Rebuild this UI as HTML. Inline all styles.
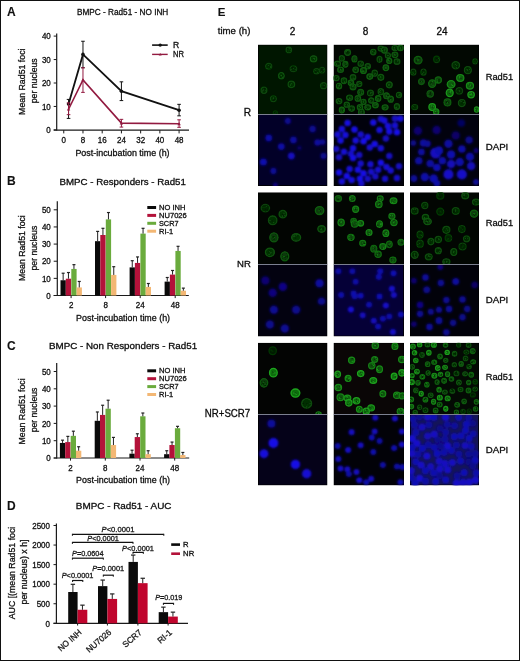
<!DOCTYPE html>
<html><head><meta charset="utf-8"><title>Figure</title>
<style>
html,body{margin:0;padding:0;background:#fff;}
body{width:520px;height:661px;overflow:hidden;}
svg{display:block;font-family:'Liberation Sans', Arial, sans-serif;}
text{stroke:#1a1a1a;stroke-width:0.3px;}
</style></head><body>
<svg width="520" height="661" viewBox="0 0 520 661">
<rect x="0" y="0" width="520" height="661" fill="#fff"/>
<text x="6.90" y="15.60" font-size="12" font-weight="bold" style="stroke-width:0.1px" fill="#111">A</text>
<text x="77.00" y="15.00" font-size="9.4" textLength="91.30" lengthAdjust="spacingAndGlyphs">BMPC - Rad51 - NO INH</text>
<line x1="56.70" y1="33.50" x2="56.70" y2="130.60" stroke="#1a1a1a" stroke-width="1.2"/>
<line x1="53.70" y1="130.10" x2="189.00" y2="130.10" stroke="#1a1a1a" stroke-width="1.2"/>
<line x1="53.70" y1="129.90" x2="56.70" y2="129.90" stroke="#1a1a1a" stroke-width="1.0"/>
<text x="50.80" y="133.10" font-size="8.6" text-anchor="end" textLength="4.45" lengthAdjust="spacingAndGlyphs">0</text>
<line x1="53.70" y1="106.45" x2="56.70" y2="106.45" stroke="#1a1a1a" stroke-width="1.0"/>
<text x="50.80" y="109.65" font-size="8.6" text-anchor="end" textLength="8.90" lengthAdjust="spacingAndGlyphs">10</text>
<line x1="53.70" y1="83.00" x2="56.70" y2="83.00" stroke="#1a1a1a" stroke-width="1.0"/>
<text x="50.80" y="86.20" font-size="8.6" text-anchor="end" textLength="8.90" lengthAdjust="spacingAndGlyphs">20</text>
<line x1="53.70" y1="59.55" x2="56.70" y2="59.55" stroke="#1a1a1a" stroke-width="1.0"/>
<text x="50.80" y="62.75" font-size="8.6" text-anchor="end" textLength="8.90" lengthAdjust="spacingAndGlyphs">30</text>
<line x1="53.70" y1="36.10" x2="56.70" y2="36.10" stroke="#1a1a1a" stroke-width="1.0"/>
<text x="50.80" y="39.30" font-size="8.6" text-anchor="end" textLength="8.90" lengthAdjust="spacingAndGlyphs">40</text>
<line x1="63.75" y1="130.10" x2="63.75" y2="133.40" stroke="#1a1a1a" stroke-width="1.0"/>
<text x="63.75" y="142.60" font-size="8.6" text-anchor="middle" textLength="4.45" lengthAdjust="spacingAndGlyphs">0</text>
<line x1="82.97" y1="130.10" x2="82.97" y2="133.40" stroke="#1a1a1a" stroke-width="1.0"/>
<text x="82.97" y="142.60" font-size="8.6" text-anchor="middle" textLength="4.45" lengthAdjust="spacingAndGlyphs">8</text>
<line x1="102.20" y1="130.10" x2="102.20" y2="133.40" stroke="#1a1a1a" stroke-width="1.0"/>
<text x="102.20" y="142.60" font-size="8.6" text-anchor="middle" textLength="8.90" lengthAdjust="spacingAndGlyphs">16</text>
<line x1="121.42" y1="130.10" x2="121.42" y2="133.40" stroke="#1a1a1a" stroke-width="1.0"/>
<text x="121.42" y="142.60" font-size="8.6" text-anchor="middle" textLength="8.90" lengthAdjust="spacingAndGlyphs">24</text>
<line x1="140.65" y1="130.10" x2="140.65" y2="133.40" stroke="#1a1a1a" stroke-width="1.0"/>
<text x="140.65" y="142.60" font-size="8.6" text-anchor="middle" textLength="8.90" lengthAdjust="spacingAndGlyphs">32</text>
<line x1="159.87" y1="130.10" x2="159.87" y2="133.40" stroke="#1a1a1a" stroke-width="1.0"/>
<text x="159.87" y="142.60" font-size="8.6" text-anchor="middle" textLength="8.90" lengthAdjust="spacingAndGlyphs">40</text>
<line x1="179.09" y1="130.10" x2="179.09" y2="133.40" stroke="#1a1a1a" stroke-width="1.0"/>
<text x="179.09" y="142.60" font-size="8.6" text-anchor="middle" textLength="8.90" lengthAdjust="spacingAndGlyphs">48</text>
<text x="75.40" y="156.10" font-size="9.4" textLength="94.20" lengthAdjust="spacingAndGlyphs">Post-incubation time (h)</text>
<text transform="translate(24.80,81.70) rotate(-90)" x="0" y="0" font-size="9.700000000000001" text-anchor="middle" textLength="66.50" lengthAdjust="spacingAndGlyphs">Mean Rad51 foci</text>
<text transform="translate(36.70,80.80) rotate(-90)" x="0" y="0" font-size="9.8" text-anchor="middle" textLength="45.00" lengthAdjust="spacingAndGlyphs">per nucleus</text>
<line x1="68.56" y1="99.42" x2="68.56" y2="118.41" stroke="#111" stroke-width="1.0"/>
<line x1="66.76" y1="99.42" x2="70.36" y2="99.42" stroke="#111" stroke-width="1.0"/>
<line x1="66.76" y1="118.41" x2="70.36" y2="118.41" stroke="#111" stroke-width="1.0"/>
<line x1="82.97" y1="41.26" x2="82.97" y2="67.76" stroke="#111" stroke-width="1.0"/>
<line x1="81.17" y1="41.26" x2="84.77" y2="41.26" stroke="#111" stroke-width="1.0"/>
<line x1="81.17" y1="67.76" x2="84.77" y2="67.76" stroke="#111" stroke-width="1.0"/>
<line x1="121.42" y1="81.83" x2="121.42" y2="100.59" stroke="#111" stroke-width="1.0"/>
<line x1="119.62" y1="81.83" x2="123.22" y2="81.83" stroke="#111" stroke-width="1.0"/>
<line x1="119.62" y1="100.59" x2="123.22" y2="100.59" stroke="#111" stroke-width="1.0"/>
<line x1="179.09" y1="104.34" x2="179.09" y2="115.83" stroke="#111" stroke-width="1.0"/>
<line x1="177.29" y1="104.34" x2="180.89" y2="104.34" stroke="#111" stroke-width="1.0"/>
<line x1="177.29" y1="115.83" x2="180.89" y2="115.83" stroke="#111" stroke-width="1.0"/>
<polyline points="68.56,104.11 82.97,54.39 121.42,91.21 179.09,110.20" fill="none" stroke="#111" stroke-width="1.8"/>
<circle cx="68.56" cy="104.11" r="1.8" fill="#111"/>
<circle cx="82.97" cy="54.39" r="1.8" fill="#111"/>
<circle cx="121.42" cy="91.21" r="1.8" fill="#111"/>
<circle cx="179.09" cy="110.20" r="1.8" fill="#111"/>
<line x1="68.56" y1="102.93" x2="68.56" y2="114.66" stroke="#921a40" stroke-width="1.0"/>
<line x1="66.76" y1="102.93" x2="70.36" y2="102.93" stroke="#921a40" stroke-width="1.0"/>
<line x1="66.76" y1="114.66" x2="70.36" y2="114.66" stroke="#921a40" stroke-width="1.0"/>
<line x1="82.97" y1="67.76" x2="82.97" y2="92.38" stroke="#921a40" stroke-width="1.0"/>
<line x1="81.17" y1="67.76" x2="84.77" y2="67.76" stroke="#921a40" stroke-width="1.0"/>
<line x1="81.17" y1="92.38" x2="84.77" y2="92.38" stroke="#921a40" stroke-width="1.0"/>
<line x1="121.42" y1="119.35" x2="121.42" y2="127.09" stroke="#921a40" stroke-width="1.0"/>
<line x1="119.62" y1="119.35" x2="123.22" y2="119.35" stroke="#921a40" stroke-width="1.0"/>
<line x1="119.62" y1="127.09" x2="123.22" y2="127.09" stroke="#921a40" stroke-width="1.0"/>
<line x1="179.09" y1="119.82" x2="179.09" y2="127.32" stroke="#921a40" stroke-width="1.0"/>
<line x1="177.29" y1="119.82" x2="180.89" y2="119.82" stroke="#921a40" stroke-width="1.0"/>
<line x1="177.29" y1="127.32" x2="180.89" y2="127.32" stroke="#921a40" stroke-width="1.0"/>
<polyline points="68.56,109.26 82.97,79.95 121.42,123.10 179.09,123.80" fill="none" stroke="#921a40" stroke-width="1.6"/>
<polygon points="68.56,107.56 66.86,110.62 70.26,110.62" fill="#921a40"/>
<polygon points="82.97,78.25 81.27,81.31 84.67,81.31" fill="#921a40"/>
<polygon points="121.42,121.40 119.72,124.46 123.12,124.46" fill="#921a40"/>
<polygon points="179.09,122.10 177.39,125.16 180.79,125.16" fill="#921a40"/>
<line x1="152.10" y1="45.10" x2="167.70" y2="45.10" stroke="#111" stroke-width="1.6"/>
<circle cx="160.2" cy="45.1" r="1.7" fill="#111"/>
<line x1="152.10" y1="54.40" x2="167.70" y2="54.40" stroke="#921a40" stroke-width="1.4"/>
<polygon points="160.20,52.90 158.70,55.60 161.70,55.60" fill="#921a40"/>
<text x="172.90" y="48.00" font-size="8.6">R</text>
<text x="172.90" y="57.40" font-size="8.6" textLength="11.00" lengthAdjust="spacingAndGlyphs">NR</text>
<text x="6.90" y="185.20" font-size="12" font-weight="bold" style="stroke-width:0.1px" fill="#111">B</text>
<text x="59.50" y="185.00" font-size="9.4" textLength="126.40" lengthAdjust="spacingAndGlyphs">BMPC - Responders - Rad51</text>
<line x1="57.30" y1="201.30" x2="57.30" y2="296.10" stroke="#1a1a1a" stroke-width="1.2"/>
<line x1="53.70" y1="295.50" x2="188.80" y2="295.50" stroke="#1a1a1a" stroke-width="1.2"/>
<line x1="53.70" y1="295.50" x2="57.30" y2="295.50" stroke="#1a1a1a" stroke-width="1.0"/>
<text x="50.80" y="298.70" font-size="8.6" text-anchor="end" textLength="4.45" lengthAdjust="spacingAndGlyphs">0</text>
<line x1="53.70" y1="278.36" x2="57.30" y2="278.36" stroke="#1a1a1a" stroke-width="1.0"/>
<text x="50.80" y="281.56" font-size="8.6" text-anchor="end" textLength="8.90" lengthAdjust="spacingAndGlyphs">10</text>
<line x1="53.70" y1="261.22" x2="57.30" y2="261.22" stroke="#1a1a1a" stroke-width="1.0"/>
<text x="50.80" y="264.42" font-size="8.6" text-anchor="end" textLength="8.90" lengthAdjust="spacingAndGlyphs">20</text>
<line x1="53.70" y1="244.08" x2="57.30" y2="244.08" stroke="#1a1a1a" stroke-width="1.0"/>
<text x="50.80" y="247.28" font-size="8.6" text-anchor="end" textLength="8.90" lengthAdjust="spacingAndGlyphs">30</text>
<line x1="53.70" y1="226.94" x2="57.30" y2="226.94" stroke="#1a1a1a" stroke-width="1.0"/>
<text x="50.80" y="230.14" font-size="8.6" text-anchor="end" textLength="8.90" lengthAdjust="spacingAndGlyphs">40</text>
<line x1="53.70" y1="209.80" x2="57.30" y2="209.80" stroke="#1a1a1a" stroke-width="1.0"/>
<text x="50.80" y="213.00" font-size="8.6" text-anchor="end" textLength="8.90" lengthAdjust="spacingAndGlyphs">50</text>
<line x1="71.10" y1="295.50" x2="71.10" y2="298.10" stroke="#1a1a1a" stroke-width="1.0"/>
<text x="71.10" y="307.70" font-size="8.6" text-anchor="middle" textLength="4.45" lengthAdjust="spacingAndGlyphs">2</text>
<rect x="60.50" y="280.25" width="5.30" height="15.25" fill="#0a0a0a"/>
<line x1="63.15" y1="273.22" x2="63.15" y2="280.25" stroke="#222" stroke-width="1.0"/>
<line x1="61.65" y1="273.22" x2="64.65" y2="273.22" stroke="#222" stroke-width="1.2"/>
<rect x="65.80" y="278.70" width="5.30" height="16.80" fill="#b3123a"/>
<line x1="68.45" y1="272.53" x2="68.45" y2="278.70" stroke="#222" stroke-width="1.0"/>
<line x1="66.95" y1="272.53" x2="69.95" y2="272.53" stroke="#222" stroke-width="1.2"/>
<rect x="71.30" y="268.93" width="5.30" height="26.57" fill="#6aab3d"/>
<line x1="73.95" y1="264.65" x2="73.95" y2="268.93" stroke="#222" stroke-width="1.0"/>
<line x1="72.45" y1="264.65" x2="75.45" y2="264.65" stroke="#222" stroke-width="1.2"/>
<rect x="76.60" y="287.44" width="5.30" height="8.06" fill="#f3b774"/>
<line x1="79.25" y1="281.45" x2="79.25" y2="287.44" stroke="#222" stroke-width="1.0"/>
<line x1="77.75" y1="281.45" x2="80.75" y2="281.45" stroke="#222" stroke-width="1.2"/>
<line x1="105.60" y1="295.50" x2="105.60" y2="298.10" stroke="#1a1a1a" stroke-width="1.0"/>
<text x="105.60" y="307.70" font-size="8.6" text-anchor="middle" textLength="4.45" lengthAdjust="spacingAndGlyphs">8</text>
<rect x="95.00" y="241.17" width="5.30" height="54.33" fill="#0a0a0a"/>
<line x1="97.65" y1="231.40" x2="97.65" y2="241.17" stroke="#222" stroke-width="1.0"/>
<line x1="96.15" y1="231.40" x2="99.15" y2="231.40" stroke="#222" stroke-width="1.2"/>
<rect x="100.30" y="235.00" width="5.30" height="60.50" fill="#b3123a"/>
<line x1="102.95" y1="228.31" x2="102.95" y2="235.00" stroke="#222" stroke-width="1.0"/>
<line x1="101.45" y1="228.31" x2="104.45" y2="228.31" stroke="#222" stroke-width="1.2"/>
<rect x="105.80" y="219.40" width="5.30" height="76.10" fill="#6aab3d"/>
<line x1="108.45" y1="212.54" x2="108.45" y2="219.40" stroke="#222" stroke-width="1.0"/>
<line x1="106.95" y1="212.54" x2="109.95" y2="212.54" stroke="#222" stroke-width="1.2"/>
<rect x="111.10" y="274.93" width="5.30" height="20.57" fill="#f3b774"/>
<line x1="113.75" y1="266.70" x2="113.75" y2="274.93" stroke="#222" stroke-width="1.0"/>
<line x1="112.25" y1="266.70" x2="115.25" y2="266.70" stroke="#222" stroke-width="1.2"/>
<line x1="140.20" y1="295.50" x2="140.20" y2="298.10" stroke="#1a1a1a" stroke-width="1.0"/>
<text x="140.20" y="307.70" font-size="8.6" text-anchor="middle" textLength="8.90" lengthAdjust="spacingAndGlyphs">24</text>
<rect x="129.60" y="267.39" width="5.30" height="28.11" fill="#0a0a0a"/>
<line x1="132.25" y1="260.71" x2="132.25" y2="267.39" stroke="#222" stroke-width="1.0"/>
<line x1="130.75" y1="260.71" x2="133.75" y2="260.71" stroke="#222" stroke-width="1.2"/>
<rect x="134.90" y="262.93" width="5.30" height="32.57" fill="#b3123a"/>
<line x1="137.55" y1="256.94" x2="137.55" y2="262.93" stroke="#222" stroke-width="1.0"/>
<line x1="136.05" y1="256.94" x2="139.05" y2="256.94" stroke="#222" stroke-width="1.2"/>
<rect x="140.40" y="233.62" width="5.30" height="61.88" fill="#6aab3d"/>
<line x1="143.05" y1="228.31" x2="143.05" y2="233.62" stroke="#222" stroke-width="1.0"/>
<line x1="141.55" y1="228.31" x2="144.55" y2="228.31" stroke="#222" stroke-width="1.2"/>
<rect x="145.70" y="286.93" width="5.30" height="8.57" fill="#f3b774"/>
<line x1="148.35" y1="283.50" x2="148.35" y2="286.93" stroke="#222" stroke-width="1.0"/>
<line x1="146.85" y1="283.50" x2="149.85" y2="283.50" stroke="#222" stroke-width="1.2"/>
<line x1="175.20" y1="295.50" x2="175.20" y2="298.10" stroke="#1a1a1a" stroke-width="1.0"/>
<text x="175.20" y="307.70" font-size="8.6" text-anchor="middle" textLength="8.90" lengthAdjust="spacingAndGlyphs">48</text>
<rect x="164.60" y="281.62" width="5.30" height="13.88" fill="#0a0a0a"/>
<line x1="167.25" y1="277.50" x2="167.25" y2="281.62" stroke="#222" stroke-width="1.0"/>
<line x1="165.75" y1="277.50" x2="168.75" y2="277.50" stroke="#222" stroke-width="1.2"/>
<rect x="169.90" y="274.59" width="5.30" height="20.91" fill="#b3123a"/>
<line x1="172.55" y1="270.48" x2="172.55" y2="274.59" stroke="#222" stroke-width="1.0"/>
<line x1="171.05" y1="270.48" x2="174.05" y2="270.48" stroke="#222" stroke-width="1.2"/>
<rect x="175.40" y="250.94" width="5.30" height="44.56" fill="#6aab3d"/>
<line x1="178.05" y1="246.31" x2="178.05" y2="250.94" stroke="#222" stroke-width="1.0"/>
<line x1="176.55" y1="246.31" x2="179.55" y2="246.31" stroke="#222" stroke-width="1.2"/>
<rect x="180.70" y="290.70" width="5.30" height="4.80" fill="#f3b774"/>
<line x1="183.35" y1="288.13" x2="183.35" y2="290.70" stroke="#222" stroke-width="1.0"/>
<line x1="181.85" y1="288.13" x2="184.85" y2="288.13" stroke="#222" stroke-width="1.2"/>
<text x="76.10" y="321.00" font-size="9.4" textLength="94.00" lengthAdjust="spacingAndGlyphs">Post-incubation time (h)</text>
<rect x="147.30" y="206.00" width="8.80" height="3.00" fill="#0a0a0a"/>
<text x="159.00" y="210.10" font-size="7.4" textLength="26.40" lengthAdjust="spacingAndGlyphs">NO INH</text>
<rect x="147.30" y="213.90" width="8.80" height="3.00" fill="#b3123a"/>
<text x="159.00" y="218.00" font-size="7.4" textLength="27.80" lengthAdjust="spacingAndGlyphs">NU7026</text>
<rect x="147.30" y="221.80" width="8.80" height="3.00" fill="#6aab3d"/>
<text x="159.00" y="225.90" font-size="7.4" textLength="19.50" lengthAdjust="spacingAndGlyphs">SCR7</text>
<rect x="147.30" y="229.70" width="8.80" height="3.00" fill="#f3b774"/>
<text x="159.00" y="233.80" font-size="7.4" textLength="14.10" lengthAdjust="spacingAndGlyphs">RI-1</text>
<text transform="translate(24.80,248.10) rotate(-90)" x="0" y="0" font-size="9.700000000000001" text-anchor="middle" textLength="65.80" lengthAdjust="spacingAndGlyphs">Mean Rad51 foci</text>
<text transform="translate(36.70,248.10) rotate(-90)" x="0" y="0" font-size="9.8" text-anchor="middle" textLength="44.70" lengthAdjust="spacingAndGlyphs">per nucleus</text>
<text x="6.90" y="350.00" font-size="12" font-weight="bold" style="stroke-width:0.1px" fill="#111">C</text>
<text x="49.00" y="349.40" font-size="9.4" textLength="148.10" lengthAdjust="spacingAndGlyphs">BMPC - Non Responders - Rad51</text>
<line x1="56.70" y1="362.90" x2="56.70" y2="458.60" stroke="#1a1a1a" stroke-width="1.2"/>
<line x1="53.70" y1="458.00" x2="189.20" y2="458.00" stroke="#1a1a1a" stroke-width="1.2"/>
<line x1="53.70" y1="458.00" x2="56.70" y2="458.00" stroke="#1a1a1a" stroke-width="1.0"/>
<text x="50.80" y="461.20" font-size="8.6" text-anchor="end" textLength="4.45" lengthAdjust="spacingAndGlyphs">0</text>
<line x1="53.70" y1="440.70" x2="56.70" y2="440.70" stroke="#1a1a1a" stroke-width="1.0"/>
<text x="50.80" y="443.90" font-size="8.6" text-anchor="end" textLength="8.90" lengthAdjust="spacingAndGlyphs">10</text>
<line x1="53.70" y1="423.40" x2="56.70" y2="423.40" stroke="#1a1a1a" stroke-width="1.0"/>
<text x="50.80" y="426.60" font-size="8.6" text-anchor="end" textLength="8.90" lengthAdjust="spacingAndGlyphs">20</text>
<line x1="53.70" y1="406.10" x2="56.70" y2="406.10" stroke="#1a1a1a" stroke-width="1.0"/>
<text x="50.80" y="409.30" font-size="8.6" text-anchor="end" textLength="8.90" lengthAdjust="spacingAndGlyphs">30</text>
<line x1="53.70" y1="388.80" x2="56.70" y2="388.80" stroke="#1a1a1a" stroke-width="1.0"/>
<text x="50.80" y="392.00" font-size="8.6" text-anchor="end" textLength="8.90" lengthAdjust="spacingAndGlyphs">40</text>
<line x1="53.70" y1="371.50" x2="56.70" y2="371.50" stroke="#1a1a1a" stroke-width="1.0"/>
<text x="50.80" y="374.70" font-size="8.6" text-anchor="end" textLength="8.90" lengthAdjust="spacingAndGlyphs">50</text>
<line x1="70.50" y1="458.00" x2="70.50" y2="460.60" stroke="#1a1a1a" stroke-width="1.0"/>
<text x="70.50" y="470.60" font-size="8.6" text-anchor="middle" textLength="4.45" lengthAdjust="spacingAndGlyphs">2</text>
<rect x="59.90" y="442.95" width="5.30" height="15.05" fill="#0a0a0a"/>
<line x1="62.55" y1="440.18" x2="62.55" y2="442.95" stroke="#222" stroke-width="1.0"/>
<line x1="61.05" y1="440.18" x2="64.05" y2="440.18" stroke="#222" stroke-width="1.2"/>
<rect x="65.20" y="442.08" width="5.30" height="15.92" fill="#b3123a"/>
<line x1="67.85" y1="436.38" x2="67.85" y2="442.08" stroke="#222" stroke-width="1.0"/>
<line x1="66.35" y1="436.38" x2="69.35" y2="436.38" stroke="#222" stroke-width="1.2"/>
<rect x="70.70" y="435.86" width="5.30" height="22.14" fill="#6aab3d"/>
<line x1="73.35" y1="431.19" x2="73.35" y2="435.86" stroke="#222" stroke-width="1.0"/>
<line x1="71.85" y1="431.19" x2="74.85" y2="431.19" stroke="#222" stroke-width="1.2"/>
<rect x="76.00" y="450.73" width="5.30" height="7.27" fill="#f3b774"/>
<line x1="78.65" y1="446.75" x2="78.65" y2="450.73" stroke="#222" stroke-width="1.0"/>
<line x1="77.15" y1="446.75" x2="80.15" y2="446.75" stroke="#222" stroke-width="1.2"/>
<line x1="105.30" y1="458.00" x2="105.30" y2="460.60" stroke="#1a1a1a" stroke-width="1.0"/>
<text x="105.30" y="470.60" font-size="8.6" text-anchor="middle" textLength="4.45" lengthAdjust="spacingAndGlyphs">8</text>
<rect x="94.70" y="420.81" width="5.30" height="37.20" fill="#0a0a0a"/>
<line x1="97.35" y1="411.98" x2="97.35" y2="420.81" stroke="#222" stroke-width="1.0"/>
<line x1="95.85" y1="411.98" x2="98.85" y2="411.98" stroke="#222" stroke-width="1.2"/>
<rect x="100.00" y="414.92" width="5.30" height="43.08" fill="#b3123a"/>
<line x1="102.65" y1="405.24" x2="102.65" y2="414.92" stroke="#222" stroke-width="1.0"/>
<line x1="101.15" y1="405.24" x2="104.15" y2="405.24" stroke="#222" stroke-width="1.2"/>
<rect x="105.50" y="408.69" width="5.30" height="49.30" fill="#6aab3d"/>
<line x1="108.15" y1="400.22" x2="108.15" y2="408.69" stroke="#222" stroke-width="1.0"/>
<line x1="106.65" y1="400.22" x2="109.65" y2="400.22" stroke="#222" stroke-width="1.2"/>
<rect x="110.80" y="445.02" width="5.30" height="12.97" fill="#f3b774"/>
<line x1="113.45" y1="437.41" x2="113.45" y2="445.02" stroke="#222" stroke-width="1.0"/>
<line x1="111.95" y1="437.41" x2="114.95" y2="437.41" stroke="#222" stroke-width="1.2"/>
<line x1="140.00" y1="458.00" x2="140.00" y2="460.60" stroke="#1a1a1a" stroke-width="1.0"/>
<text x="140.00" y="470.60" font-size="8.6" text-anchor="middle" textLength="8.90" lengthAdjust="spacingAndGlyphs">24</text>
<rect x="129.40" y="453.68" width="5.30" height="4.33" fill="#0a0a0a"/>
<line x1="132.05" y1="450.21" x2="132.05" y2="453.68" stroke="#222" stroke-width="1.0"/>
<line x1="130.55" y1="450.21" x2="133.55" y2="450.21" stroke="#222" stroke-width="1.2"/>
<rect x="134.70" y="437.07" width="5.30" height="20.93" fill="#b3123a"/>
<line x1="137.35" y1="433.78" x2="137.35" y2="437.07" stroke="#222" stroke-width="1.0"/>
<line x1="135.85" y1="433.78" x2="138.85" y2="433.78" stroke="#222" stroke-width="1.2"/>
<rect x="140.20" y="416.31" width="5.30" height="41.69" fill="#6aab3d"/>
<line x1="142.85" y1="413.02" x2="142.85" y2="416.31" stroke="#222" stroke-width="1.0"/>
<line x1="141.35" y1="413.02" x2="144.35" y2="413.02" stroke="#222" stroke-width="1.2"/>
<rect x="145.50" y="454.19" width="5.30" height="3.81" fill="#f3b774"/>
<line x1="148.15" y1="450.73" x2="148.15" y2="454.19" stroke="#222" stroke-width="1.0"/>
<line x1="146.65" y1="450.73" x2="149.65" y2="450.73" stroke="#222" stroke-width="1.2"/>
<line x1="174.70" y1="458.00" x2="174.70" y2="460.60" stroke="#1a1a1a" stroke-width="1.0"/>
<text x="174.70" y="470.60" font-size="8.6" text-anchor="middle" textLength="8.90" lengthAdjust="spacingAndGlyphs">48</text>
<rect x="164.10" y="454.19" width="5.30" height="3.81" fill="#0a0a0a"/>
<line x1="166.75" y1="450.73" x2="166.75" y2="454.19" stroke="#222" stroke-width="1.0"/>
<line x1="165.25" y1="450.73" x2="168.25" y2="450.73" stroke="#222" stroke-width="1.2"/>
<rect x="169.40" y="445.02" width="5.30" height="12.97" fill="#b3123a"/>
<line x1="172.05" y1="442.08" x2="172.05" y2="445.02" stroke="#222" stroke-width="1.0"/>
<line x1="170.55" y1="442.08" x2="173.55" y2="442.08" stroke="#222" stroke-width="1.2"/>
<rect x="174.90" y="428.24" width="5.30" height="29.76" fill="#6aab3d"/>
<line x1="177.55" y1="426.34" x2="177.55" y2="428.24" stroke="#222" stroke-width="1.0"/>
<line x1="176.05" y1="426.34" x2="179.05" y2="426.34" stroke="#222" stroke-width="1.2"/>
<rect x="180.20" y="455.06" width="5.30" height="2.94" fill="#f3b774"/>
<line x1="182.85" y1="452.46" x2="182.85" y2="455.06" stroke="#222" stroke-width="1.0"/>
<line x1="181.35" y1="452.46" x2="184.35" y2="452.46" stroke="#222" stroke-width="1.2"/>
<text x="76.10" y="483.30" font-size="9.4" textLength="94.00" lengthAdjust="spacingAndGlyphs">Post-incubation time (h)</text>
<rect x="147.30" y="369.30" width="8.80" height="3.00" fill="#0a0a0a"/>
<text x="159.00" y="373.40" font-size="7.4" textLength="26.40" lengthAdjust="spacingAndGlyphs">NO INH</text>
<rect x="147.30" y="377.20" width="8.80" height="3.00" fill="#b3123a"/>
<text x="159.00" y="381.30" font-size="7.4" textLength="27.80" lengthAdjust="spacingAndGlyphs">NU7026</text>
<rect x="147.30" y="385.10" width="8.80" height="3.00" fill="#6aab3d"/>
<text x="159.00" y="389.20" font-size="7.4" textLength="19.50" lengthAdjust="spacingAndGlyphs">SCR7</text>
<rect x="147.30" y="393.00" width="8.80" height="3.00" fill="#f3b774"/>
<text x="159.00" y="397.10" font-size="7.4" textLength="14.10" lengthAdjust="spacingAndGlyphs">RI-1</text>
<text transform="translate(24.80,411.40) rotate(-90)" x="0" y="0" font-size="9.700000000000001" text-anchor="middle" textLength="66.20" lengthAdjust="spacingAndGlyphs">Mean Rad51 foci</text>
<text transform="translate(36.70,410.00) rotate(-90)" x="0" y="0" font-size="9.8" text-anchor="middle" textLength="44.70" lengthAdjust="spacingAndGlyphs">per nucleus</text>
<text x="6.90" y="509.80" font-size="12" font-weight="bold" style="stroke-width:0.1px" fill="#111">D</text>
<text x="75.80" y="509.30" font-size="9.4" textLength="95.70" lengthAdjust="spacingAndGlyphs">BMPC - Rad51 - AUC</text>
<line x1="56.40" y1="523.50" x2="56.40" y2="623.90" stroke="#1a1a1a" stroke-width="1.2"/>
<line x1="53.50" y1="623.30" x2="188.00" y2="623.30" stroke="#1a1a1a" stroke-width="1.2"/>
<line x1="53.50" y1="623.30" x2="56.40" y2="623.30" stroke="#1a1a1a" stroke-width="1.0"/>
<text x="50.00" y="626.50" font-size="8.6" text-anchor="end" textLength="4.45" lengthAdjust="spacingAndGlyphs">0</text>
<line x1="53.50" y1="603.74" x2="56.40" y2="603.74" stroke="#1a1a1a" stroke-width="1.0"/>
<text x="50.00" y="606.94" font-size="8.6" text-anchor="end" textLength="13.35" lengthAdjust="spacingAndGlyphs">500</text>
<line x1="53.50" y1="584.18" x2="56.40" y2="584.18" stroke="#1a1a1a" stroke-width="1.0"/>
<text x="50.00" y="587.38" font-size="8.6" text-anchor="end" textLength="17.80" lengthAdjust="spacingAndGlyphs">1000</text>
<line x1="53.50" y1="564.62" x2="56.40" y2="564.62" stroke="#1a1a1a" stroke-width="1.0"/>
<text x="50.00" y="567.82" font-size="8.6" text-anchor="end" textLength="17.80" lengthAdjust="spacingAndGlyphs">1500</text>
<line x1="53.50" y1="545.06" x2="56.40" y2="545.06" stroke="#1a1a1a" stroke-width="1.0"/>
<text x="50.00" y="548.26" font-size="8.6" text-anchor="end" textLength="17.80" lengthAdjust="spacingAndGlyphs">2000</text>
<line x1="53.50" y1="525.50" x2="56.40" y2="525.50" stroke="#1a1a1a" stroke-width="1.0"/>
<text x="50.00" y="528.70" font-size="8.6" text-anchor="end" textLength="17.80" lengthAdjust="spacingAndGlyphs">2500</text>
<line x1="77.60" y1="623.30" x2="77.60" y2="625.50" stroke="#1a1a1a" stroke-width="1.0"/>
<rect x="68.20" y="592.00" width="9.40" height="31.30" fill="#0a0a0a"/>
<line x1="72.90" y1="584.30" x2="72.90" y2="592.00" stroke="#222" stroke-width="1.0"/>
<line x1="70.70" y1="584.30" x2="75.10" y2="584.30" stroke="#222" stroke-width="1.2"/>
<rect x="77.60" y="609.76" width="9.70" height="13.54" fill="#c0062e"/>
<line x1="82.45" y1="605.15" x2="82.45" y2="609.76" stroke="#222" stroke-width="1.0"/>
<line x1="80.25" y1="605.15" x2="84.65" y2="605.15" stroke="#222" stroke-width="1.2"/>
<line x1="107.40" y1="623.30" x2="107.40" y2="625.50" stroke="#1a1a1a" stroke-width="1.0"/>
<rect x="98.00" y="586.14" width="9.40" height="37.16" fill="#0a0a0a"/>
<line x1="102.70" y1="580.07" x2="102.70" y2="586.14" stroke="#222" stroke-width="1.0"/>
<line x1="100.50" y1="580.07" x2="104.90" y2="580.07" stroke="#222" stroke-width="1.2"/>
<rect x="107.40" y="598.93" width="9.70" height="24.37" fill="#c0062e"/>
<line x1="112.25" y1="593.92" x2="112.25" y2="598.93" stroke="#222" stroke-width="1.0"/>
<line x1="110.05" y1="593.92" x2="114.45" y2="593.92" stroke="#222" stroke-width="1.2"/>
<line x1="137.90" y1="623.30" x2="137.90" y2="625.50" stroke="#1a1a1a" stroke-width="1.0"/>
<rect x="128.50" y="561.92" width="9.40" height="61.38" fill="#0a0a0a"/>
<line x1="133.20" y1="555.07" x2="133.20" y2="561.92" stroke="#222" stroke-width="1.0"/>
<line x1="131.00" y1="555.07" x2="135.40" y2="555.07" stroke="#222" stroke-width="1.2"/>
<rect x="137.90" y="583.16" width="9.70" height="40.14" fill="#c0062e"/>
<line x1="142.75" y1="578.27" x2="142.75" y2="583.16" stroke="#222" stroke-width="1.0"/>
<line x1="140.55" y1="578.27" x2="144.95" y2="578.27" stroke="#222" stroke-width="1.2"/>
<line x1="168.10" y1="623.30" x2="168.10" y2="625.50" stroke="#1a1a1a" stroke-width="1.0"/>
<rect x="158.70" y="612.15" width="9.40" height="11.15" fill="#0a0a0a"/>
<line x1="163.40" y1="607.14" x2="163.40" y2="612.15" stroke="#222" stroke-width="1.0"/>
<line x1="161.20" y1="607.14" x2="165.60" y2="607.14" stroke="#222" stroke-width="1.2"/>
<rect x="168.10" y="616.57" width="9.70" height="6.73" fill="#c0062e"/>
<line x1="172.95" y1="612.15" x2="172.95" y2="616.57" stroke="#222" stroke-width="1.0"/>
<line x1="170.75" y1="612.15" x2="175.15" y2="612.15" stroke="#222" stroke-width="1.2"/>
<line x1="72.40" y1="534.30" x2="163.80" y2="534.30" stroke="#111" stroke-width="1.2"/>
<line x1="72.40" y1="533.80" x2="72.40" y2="535.80" stroke="#111" stroke-width="1.0"/>
<line x1="163.80" y1="533.80" x2="163.80" y2="535.80" stroke="#111" stroke-width="1.0"/>
<text x="101.60" y="532.00" font-size="7.4" textLength="32.80" lengthAdjust="spacingAndGlyphs" fill="#222"><tspan font-style="italic">P</tspan>&lt;0.0001</text>
<line x1="72.40" y1="542.40" x2="133.00" y2="542.40" stroke="#111" stroke-width="1.2"/>
<line x1="72.40" y1="541.90" x2="72.40" y2="543.90" stroke="#111" stroke-width="1.0"/>
<line x1="133.00" y1="541.90" x2="133.00" y2="543.90" stroke="#111" stroke-width="1.0"/>
<text x="87.30" y="540.80" font-size="7.4" textLength="31.60" lengthAdjust="spacingAndGlyphs" fill="#222"><tspan font-style="italic">P</tspan>&lt;0.0001</text>
<line x1="133.00" y1="552.40" x2="143.30" y2="552.40" stroke="#111" stroke-width="1.2"/>
<line x1="133.00" y1="551.90" x2="133.00" y2="553.90" stroke="#111" stroke-width="1.0"/>
<line x1="143.30" y1="551.90" x2="143.30" y2="553.90" stroke="#111" stroke-width="1.0"/>
<text x="122.10" y="550.60" font-size="7.4" textLength="31.90" lengthAdjust="spacingAndGlyphs" fill="#222"><tspan font-style="italic">P</tspan>&lt;0.0001</text>
<line x1="72.40" y1="558.20" x2="103.30" y2="558.20" stroke="#111" stroke-width="1.2"/>
<line x1="72.40" y1="557.70" x2="72.40" y2="559.70" stroke="#111" stroke-width="1.0"/>
<line x1="103.30" y1="557.70" x2="103.30" y2="559.70" stroke="#111" stroke-width="1.0"/>
<text x="72.00" y="555.50" font-size="7.4" textLength="31.50" lengthAdjust="spacingAndGlyphs" fill="#222"><tspan font-style="italic">P</tspan>=0.0604</text>
<line x1="103.30" y1="575.20" x2="113.30" y2="575.20" stroke="#111" stroke-width="1.2"/>
<line x1="103.30" y1="574.70" x2="103.30" y2="576.70" stroke="#111" stroke-width="1.0"/>
<line x1="113.30" y1="574.70" x2="113.30" y2="576.70" stroke="#111" stroke-width="1.0"/>
<text x="92.30" y="571.30" font-size="7.4" textLength="31.90" lengthAdjust="spacingAndGlyphs" fill="#222"><tspan font-style="italic">P</tspan>=0.0001</text>
<line x1="72.60" y1="580.50" x2="82.80" y2="580.50" stroke="#111" stroke-width="1.2"/>
<line x1="72.60" y1="580.00" x2="72.60" y2="582.00" stroke="#111" stroke-width="1.0"/>
<line x1="82.80" y1="580.00" x2="82.80" y2="582.00" stroke="#111" stroke-width="1.0"/>
<text x="61.70" y="577.90" font-size="7.4" textLength="31.70" lengthAdjust="spacingAndGlyphs" fill="#222"><tspan font-style="italic">P</tspan>&lt;0.0001</text>
<line x1="163.40" y1="603.40" x2="173.60" y2="603.40" stroke="#111" stroke-width="1.2"/>
<line x1="163.40" y1="602.90" x2="163.40" y2="604.90" stroke="#111" stroke-width="1.0"/>
<line x1="173.60" y1="602.90" x2="173.60" y2="604.90" stroke="#111" stroke-width="1.0"/>
<text x="155.20" y="600.00" font-size="7.4" textLength="27.20" lengthAdjust="spacingAndGlyphs" fill="#222"><tspan font-style="italic">P</tspan>=0.019</text>
<rect x="171.20" y="543.30" width="8.80" height="2.60" fill="#0a0a0a"/>
<rect x="171.20" y="552.40" width="8.80" height="2.60" fill="#b3123a"/>
<text x="183.10" y="547.00" font-size="7.7">R</text>
<text x="183.10" y="556.00" font-size="7.7">NR</text>
<text transform="translate(82.20,633.30) rotate(-41)" x="0" y="0" font-size="8.5" text-anchor="end" textLength="28.2" lengthAdjust="spacingAndGlyphs" fill="#222">NO INH</text>
<text transform="translate(112.00,633.30) rotate(-41)" x="0" y="0" font-size="8.5" text-anchor="end" textLength="30.2" lengthAdjust="spacingAndGlyphs" fill="#222">NU7026</text>
<text transform="translate(142.50,633.30) rotate(-41)" x="0" y="0" font-size="8.5" text-anchor="end" textLength="22.5" lengthAdjust="spacingAndGlyphs" fill="#222">SCR7</text>
<text transform="translate(172.70,633.30) rotate(-41)" x="0" y="0" font-size="8.5" text-anchor="end" textLength="16.3" lengthAdjust="spacingAndGlyphs" fill="#222">RI-1</text>
<text transform="translate(15.40,573.00) rotate(-90)" x="0" y="0" font-size="9.8" text-anchor="middle" textLength="92.60" lengthAdjust="spacingAndGlyphs">AUC [(mean Rad51 foci</text>
<text transform="translate(26.90,572.00) rotate(-90)" x="0" y="0" font-size="9.700000000000001" text-anchor="middle" textLength="65.00" lengthAdjust="spacingAndGlyphs">per nucleus) x h]</text>
<text x="217.80" y="15.60" font-size="11.5" font-weight="bold" style="stroke-width:0.1px" fill="#111">E</text>
<text x="217.80" y="34.20" font-size="9.6" textLength="32.60" lengthAdjust="spacingAndGlyphs">time (h)</text>
<text x="292.60" y="34.80" font-size="10" text-anchor="middle">2</text>
<text x="365.60" y="34.60" font-size="10" text-anchor="middle">8</text>
<text x="442.00" y="34.70" font-size="10" text-anchor="middle">24</text>
<text x="485.70" y="79.50" font-size="9.5" textLength="27.40" lengthAdjust="spacingAndGlyphs">Rad51</text>
<text x="485.70" y="150.00" font-size="9.2" textLength="22.60" lengthAdjust="spacingAndGlyphs">DAPI</text>
<text x="485.70" y="226.40" font-size="9.5" textLength="27.40" lengthAdjust="spacingAndGlyphs">Rad51</text>
<text x="485.70" y="303.30" font-size="9.2" textLength="22.60" lengthAdjust="spacingAndGlyphs">DAPI</text>
<text x="485.70" y="380.00" font-size="9.5" textLength="27.40" lengthAdjust="spacingAndGlyphs">Rad51</text>
<text x="485.70" y="453.10" font-size="9.2" textLength="22.60" lengthAdjust="spacingAndGlyphs">DAPI</text>
<text x="251.00" y="115.90" font-size="10.2" text-anchor="end">R</text>
<text x="250.90" y="266.50" font-size="9.6" text-anchor="end" textLength="13.80" lengthAdjust="spacingAndGlyphs">NR</text>
<text x="250.20" y="417.30" font-size="10" text-anchor="end" textLength="45.40" lengthAdjust="spacingAndGlyphs">NR+SCR7</text>
<defs><filter id="bg" x="-10%" y="-10%" width="120%" height="120%"><feGaussianBlur stdDeviation="0.6"/></filter><filter id="bb" x="-10%" y="-10%" width="120%" height="120%"><feGaussianBlur stdDeviation="0.8"/></filter></defs>
<clipPath id="c1"><rect x="258.0" y="44.6" width="69.50" height="69.90"/></clipPath>
<g clip-path="url(#c1)"><rect x="258.0" y="44.6" width="69.50" height="69.90" fill="#000"/><rect x="258.8" y="45.4" width="67.90" height="69.10" fill="#001600"/><g filter="url(#bg)">
<ellipse cx="288.78" cy="49.92" rx="2.76" ry="2.83" fill="rgb(5,44,5)" stroke="rgb(10,72,10)" stroke-width="1.18"/>
<circle cx="288.39" cy="50.76" r="0.6" fill="rgb(12,82,12)"/>
<circle cx="287.51" cy="48.35" r="0.6" fill="rgb(2,27,2)"/>
<circle cx="289.93" cy="50.33" r="0.6" fill="rgb(12,82,12)"/>
<circle cx="289.03" cy="49.98" r="0.6" fill="rgb(2,27,2)"/>
<circle cx="289.24" cy="48.77" r="0.6" fill="rgb(12,82,12)"/>
<ellipse cx="313.60" cy="58.88" rx="3.20" ry="2.92" fill="rgb(6,53,6)" stroke="rgb(13,85,13)" stroke-width="1.19"/>
<circle cx="314.45" cy="58.95" r="0.6" fill="rgb(15,97,15)"/>
<circle cx="311.86" cy="57.74" r="0.6" fill="rgb(3,31,3)"/>
<circle cx="314.64" cy="58.75" r="0.6" fill="rgb(15,97,15)"/>
<circle cx="313.41" cy="58.99" r="0.6" fill="rgb(3,31,3)"/>
<circle cx="313.31" cy="58.50" r="0.6" fill="rgb(15,97,15)"/>
<ellipse cx="268.72" cy="66.26" rx="3.05" ry="2.96" fill="rgb(4,41,4)" stroke="rgb(9,68,9)" stroke-width="1.22"/>
<circle cx="270.40" cy="66.31" r="0.6" fill="rgb(11,77,11)"/>
<circle cx="270.44" cy="67.90" r="0.6" fill="rgb(2,25,2)"/>
<circle cx="270.54" cy="67.38" r="0.6" fill="rgb(11,77,11)"/>
<circle cx="268.75" cy="66.29" r="0.6" fill="rgb(2,25,2)"/>
<circle cx="268.61" cy="65.67" r="0.6" fill="rgb(11,77,11)"/>
<ellipse cx="293.44" cy="68.72" rx="3.26" ry="2.92" fill="rgb(4,37,4)" stroke="rgb(8,64,8)" stroke-width="1.20"/>
<circle cx="295.16" cy="69.28" r="0.6" fill="rgb(10,71,10)"/>
<circle cx="292.99" cy="66.77" r="0.6" fill="rgb(2,23,2)"/>
<circle cx="293.42" cy="68.53" r="0.6" fill="rgb(10,71,10)"/>
<circle cx="292.30" cy="67.52" r="0.6" fill="rgb(2,23,2)"/>
<circle cx="291.33" cy="69.25" r="0.6" fill="rgb(10,71,10)"/>
<ellipse cx="281.33" cy="75.71" rx="2.81" ry="3.23" fill="rgb(6,50,6)" stroke="rgb(12,81,12)" stroke-width="1.19"/>
<circle cx="281.33" cy="75.69" r="0.6" fill="rgb(14,92,14)"/>
<circle cx="282.77" cy="75.84" r="0.6" fill="rgb(3,30,3)"/>
<circle cx="281.40" cy="75.55" r="0.6" fill="rgb(14,92,14)"/>
<circle cx="280.73" cy="77.21" r="0.6" fill="rgb(3,30,3)"/>
<circle cx="282.29" cy="77.36" r="0.6" fill="rgb(14,92,14)"/>
<ellipse cx="316.58" cy="71.18" rx="2.86" ry="2.62" fill="rgb(4,41,4)" stroke="rgb(9,68,9)" stroke-width="1.18"/>
<circle cx="315.75" cy="72.10" r="0.6" fill="rgb(11,77,11)"/>
<circle cx="315.23" cy="71.73" r="0.6" fill="rgb(2,25,2)"/>
<circle cx="317.63" cy="72.54" r="0.6" fill="rgb(11,77,11)"/>
<circle cx="315.67" cy="72.23" r="0.6" fill="rgb(2,25,2)"/>
<circle cx="315.96" cy="70.53" r="0.6" fill="rgb(11,77,11)"/>
<ellipse cx="322.14" cy="70.20" rx="2.56" ry="2.77" fill="rgb(4,37,4)" stroke="rgb(8,64,8)" stroke-width="1.16"/>
<circle cx="323.59" cy="69.67" r="0.6" fill="rgb(10,71,10)"/>
<circle cx="321.61" cy="69.96" r="0.6" fill="rgb(2,23,2)"/>
<circle cx="323.92" cy="70.91" r="0.6" fill="rgb(10,71,10)"/>
<circle cx="321.67" cy="68.64" r="0.6" fill="rgb(2,23,2)"/>
<circle cx="321.55" cy="71.23" r="0.6" fill="rgb(10,71,10)"/>
<ellipse cx="291.36" cy="84.37" rx="3.32" ry="3.24" fill="rgb(5,47,5)" stroke="rgb(11,77,11)" stroke-width="1.20"/>
<circle cx="290.79" cy="83.96" r="0.6" fill="rgb(13,87,13)"/>
<circle cx="289.54" cy="85.25" r="0.6" fill="rgb(2,28,2)"/>
<circle cx="290.25" cy="85.46" r="0.6" fill="rgb(13,87,13)"/>
<circle cx="289.72" cy="83.16" r="0.6" fill="rgb(2,28,2)"/>
<circle cx="291.59" cy="83.77" r="0.6" fill="rgb(13,87,13)"/>
<ellipse cx="263.96" cy="90.28" rx="2.95" ry="3.12" fill="rgb(5,44,5)" stroke="rgb(10,72,10)" stroke-width="1.22"/>
<circle cx="262.68" cy="90.96" r="0.6" fill="rgb(12,82,12)"/>
<circle cx="264.84" cy="88.28" r="0.6" fill="rgb(2,27,2)"/>
<circle cx="265.93" cy="90.82" r="0.6" fill="rgb(12,82,12)"/>
<circle cx="264.76" cy="88.31" r="0.6" fill="rgb(2,27,2)"/>
<circle cx="263.35" cy="89.99" r="0.6" fill="rgb(12,82,12)"/>
<ellipse cx="323.53" cy="85.65" rx="3.07" ry="3.05" fill="rgb(4,41,4)" stroke="rgb(9,68,9)" stroke-width="1.18"/>
<circle cx="322.74" cy="83.85" r="0.6" fill="rgb(11,77,11)"/>
<circle cx="323.42" cy="85.80" r="0.6" fill="rgb(2,25,2)"/>
<circle cx="321.91" cy="85.09" r="0.6" fill="rgb(11,77,11)"/>
<circle cx="324.02" cy="87.19" r="0.6" fill="rgb(2,25,2)"/>
<circle cx="323.99" cy="85.44" r="0.6" fill="rgb(11,77,11)"/>
<ellipse cx="273.39" cy="98.75" rx="2.93" ry="2.97" fill="rgb(4,41,4)" stroke="rgb(9,68,9)" stroke-width="1.18"/>
<circle cx="272.96" cy="98.84" r="0.6" fill="rgb(11,77,11)"/>
<circle cx="273.34" cy="100.36" r="0.6" fill="rgb(2,25,2)"/>
<circle cx="273.65" cy="97.79" r="0.6" fill="rgb(11,77,11)"/>
<circle cx="274.87" cy="99.66" r="0.6" fill="rgb(2,25,2)"/>
<circle cx="273.46" cy="98.25" r="0.6" fill="rgb(11,77,11)"/>
<ellipse cx="275.38" cy="113.02" rx="2.08" ry="2.21" fill="rgb(3,31,3)" stroke="rgb(6,55,6)" stroke-width="1.10"/>
<circle cx="275.98" cy="112.49" r="0.6" fill="rgb(7,61,7)"/>
<circle cx="274.48" cy="113.16" r="0.6" fill="rgb(1,20,1)"/>
<circle cx="275.49" cy="113.30" r="0.6" fill="rgb(7,61,7)"/>
<circle cx="275.83" cy="114.00" r="0.6" fill="rgb(1,20,1)"/>
<circle cx="274.81" cy="113.68" r="0.6" fill="rgb(7,61,7)"/>
</g></g>
<clipPath id="c2"><rect x="258.0" y="115.00" width="69.50" height="71.00"/></clipPath>
<g clip-path="url(#c2)"><rect x="258.0" y="115.00" width="69.50" height="71.00" fill="#000"/><rect x="258.8" y="115.00" width="67.90" height="70.20" fill="#020028"/><g filter="url(#bb)">
<circle cx="287.79" cy="121.00" r="3.15" fill="rgb(12,7,142)"/>
<circle cx="312.61" cy="129.00" r="3.42" fill="rgb(12,7,142)"/>
<circle cx="268.72" cy="138.00" r="3.42" fill="rgb(15,9,167)"/>
<circle cx="293.44" cy="140.00" r="3.42" fill="rgb(14,8,159)"/>
<circle cx="281.33" cy="146.60" r="3.42" fill="rgb(15,9,167)"/>
<circle cx="317.57" cy="142.60" r="3.24" fill="rgb(14,8,159)"/>
<circle cx="322.54" cy="142.00" r="2.97" fill="rgb(12,7,142)"/>
<circle cx="299.40" cy="148.00" r="2.25" fill="rgb(7,4,99)"/>
<circle cx="291.36" cy="156.00" r="3.42" fill="rgb(19,11,193)"/>
<circle cx="323.53" cy="156.00" r="3.15" fill="rgb(12,7,142)"/>
<circle cx="263.36" cy="162.00" r="3.60" fill="rgb(17,10,176)"/>
<circle cx="273.39" cy="171.00" r="3.15" fill="rgb(13,8,150)"/>
<circle cx="275.38" cy="185.00" r="2.52" fill="rgb(10,6,125)"/>
</g></g>
<line x1="258.00" y1="114.50" x2="327.50" y2="114.50" stroke="#7c8090" stroke-width="1.0"/>
<clipPath id="c3"><rect x="333.5" y="44.6" width="70.50" height="69.90"/></clipPath>
<g clip-path="url(#c3)"><rect x="333.5" y="44.6" width="70.50" height="69.90" fill="#000"/><rect x="334.3" y="45.4" width="68.90" height="69.10" fill="#020802"/><g filter="url(#bg)">
<ellipse cx="373.28" cy="52.08" rx="2.73" ry="2.80" fill="rgb(6,52,6)" stroke="rgb(12,85,12)" stroke-width="1.17"/>
<circle cx="373.34" cy="52.16" r="0.6" fill="rgb(15,97,15)"/>
<circle cx="374.06" cy="52.07" r="0.6" fill="rgb(3,31,3)"/>
<circle cx="374.32" cy="52.90" r="0.6" fill="rgb(15,97,15)"/>
<circle cx="373.36" cy="51.76" r="0.6" fill="rgb(3,31,3)"/>
<circle cx="372.69" cy="51.67" r="0.6" fill="rgb(15,97,15)"/>
<ellipse cx="380.84" cy="48.54" rx="2.80" ry="2.52" fill="rgb(6,49,6)" stroke="rgb(11,80,11)" stroke-width="1.17"/>
<circle cx="382.86" cy="48.97" r="0.6" fill="rgb(14,92,14)"/>
<circle cx="381.51" cy="47.78" r="0.6" fill="rgb(3,29,3)"/>
<circle cx="380.34" cy="48.31" r="0.6" fill="rgb(14,92,14)"/>
<circle cx="381.00" cy="47.66" r="0.6" fill="rgb(3,29,3)"/>
<circle cx="382.35" cy="48.01" r="0.6" fill="rgb(14,92,14)"/>
<ellipse cx="384.36" cy="50.01" rx="2.97" ry="3.05" fill="rgb(7,58,7)" stroke="rgb(14,92,14)" stroke-width="1.17"/>
<circle cx="384.36" cy="50.09" r="0.6" fill="rgb(17,106,17)"/>
<circle cx="384.48" cy="50.37" r="0.6" fill="rgb(3,34,3)"/>
<circle cx="384.45" cy="50.07" r="0.6" fill="rgb(17,106,17)"/>
<circle cx="382.66" cy="49.37" r="0.6" fill="rgb(3,34,3)"/>
<circle cx="382.45" cy="50.53" r="0.6" fill="rgb(17,106,17)"/>
<ellipse cx="394.94" cy="48.05" rx="3.02" ry="2.54" fill="rgb(6,48,6)" stroke="rgb(11,79,11)" stroke-width="1.17"/>
<circle cx="394.26" cy="47.57" r="0.6" fill="rgb(13,89,13)"/>
<circle cx="396.40" cy="49.42" r="0.6" fill="rgb(3,29,3)"/>
<circle cx="394.88" cy="49.22" r="0.6" fill="rgb(13,89,13)"/>
<circle cx="393.67" cy="46.50" r="0.6" fill="rgb(3,29,3)"/>
<circle cx="394.54" cy="47.33" r="0.6" fill="rgb(13,89,13)"/>
<ellipse cx="400.48" cy="48.05" rx="2.76" ry="2.60" fill="rgb(7,56,7)" stroke="rgb(13,90,13)" stroke-width="1.17"/>
<circle cx="402.50" cy="47.60" r="0.6" fill="rgb(16,103,16)"/>
<circle cx="400.49" cy="48.13" r="0.6" fill="rgb(3,33,3)"/>
<circle cx="400.45" cy="48.78" r="0.6" fill="rgb(16,103,16)"/>
<circle cx="402.02" cy="46.96" r="0.6" fill="rgb(3,33,3)"/>
<circle cx="400.53" cy="47.96" r="0.6" fill="rgb(16,103,16)"/>
<ellipse cx="347.60" cy="52.48" rx="2.95" ry="2.90" fill="rgb(6,53,6)" stroke="rgb(13,86,13)" stroke-width="1.17"/>
<circle cx="346.35" cy="50.83" r="0.6" fill="rgb(15,98,15)"/>
<circle cx="347.88" cy="52.58" r="0.6" fill="rgb(3,31,3)"/>
<circle cx="347.66" cy="50.51" r="0.6" fill="rgb(15,98,15)"/>
<circle cx="347.32" cy="51.92" r="0.6" fill="rgb(3,31,3)"/>
<circle cx="346.27" cy="51.61" r="0.6" fill="rgb(15,98,15)"/>
<ellipse cx="341.86" cy="58.38" rx="2.57" ry="2.69" fill="rgb(6,48,6)" stroke="rgb(11,78,11)" stroke-width="1.17"/>
<circle cx="341.85" cy="58.64" r="0.6" fill="rgb(13,89,13)"/>
<circle cx="341.51" cy="58.42" r="0.6" fill="rgb(3,29,3)"/>
<circle cx="341.88" cy="58.68" r="0.6" fill="rgb(13,89,13)"/>
<circle cx="341.85" cy="58.36" r="0.6" fill="rgb(3,29,3)"/>
<circle cx="341.78" cy="57.98" r="0.6" fill="rgb(13,89,13)"/>
<ellipse cx="354.45" cy="58.88" rx="2.53" ry="3.03" fill="rgb(7,56,7)" stroke="rgb(13,89,13)" stroke-width="1.17"/>
<circle cx="354.81" cy="60.79" r="0.6" fill="rgb(16,102,16)"/>
<circle cx="355.69" cy="57.49" r="0.6" fill="rgb(3,33,3)"/>
<circle cx="355.05" cy="59.60" r="0.6" fill="rgb(16,102,16)"/>
<circle cx="356.04" cy="59.99" r="0.6" fill="rgb(3,33,3)"/>
<circle cx="355.17" cy="57.78" r="0.6" fill="rgb(16,102,16)"/>
<ellipse cx="360.69" cy="63.70" rx="2.76" ry="2.70" fill="rgb(6,48,6)" stroke="rgb(11,78,11)" stroke-width="1.17"/>
<circle cx="361.14" cy="62.80" r="0.6" fill="rgb(13,88,13)"/>
<circle cx="360.49" cy="63.48" r="0.6" fill="rgb(3,29,3)"/>
<circle cx="360.71" cy="63.82" r="0.6" fill="rgb(13,88,13)"/>
<circle cx="360.43" cy="62.57" r="0.6" fill="rgb(3,29,3)"/>
<circle cx="361.81" cy="65.14" r="0.6" fill="rgb(13,88,13)"/>
<ellipse cx="367.74" cy="66.26" rx="2.66" ry="2.74" fill="rgb(7,54,7)" stroke="rgb(13,87,13)" stroke-width="1.17"/>
<circle cx="368.06" cy="66.73" r="0.6" fill="rgb(16,100,16)"/>
<circle cx="368.12" cy="65.67" r="0.6" fill="rgb(3,32,3)"/>
<circle cx="368.25" cy="67.15" r="0.6" fill="rgb(16,100,16)"/>
<circle cx="366.96" cy="67.98" r="0.6" fill="rgb(3,32,3)"/>
<circle cx="369.28" cy="67.60" r="0.6" fill="rgb(16,100,16)"/>
<ellipse cx="379.53" cy="59.37" rx="2.54" ry="3.01" fill="rgb(6,48,6)" stroke="rgb(11,79,11)" stroke-width="1.17"/>
<circle cx="379.31" cy="58.98" r="0.6" fill="rgb(13,89,13)"/>
<circle cx="378.93" cy="59.45" r="0.6" fill="rgb(3,29,3)"/>
<circle cx="379.51" cy="59.79" r="0.6" fill="rgb(13,89,13)"/>
<circle cx="378.16" cy="60.93" r="0.6" fill="rgb(3,29,3)"/>
<circle cx="381.46" cy="59.34" r="0.6" fill="rgb(13,89,13)"/>
<ellipse cx="387.89" cy="55.43" rx="2.56" ry="2.67" fill="rgb(6,48,6)" stroke="rgb(11,79,11)" stroke-width="1.17"/>
<circle cx="387.98" cy="55.36" r="0.6" fill="rgb(14,90,14)"/>
<circle cx="387.80" cy="54.82" r="0.6" fill="rgb(3,29,3)"/>
<circle cx="387.92" cy="55.43" r="0.6" fill="rgb(14,90,14)"/>
<circle cx="388.14" cy="54.76" r="0.6" fill="rgb(3,29,3)"/>
<circle cx="387.89" cy="55.43" r="0.6" fill="rgb(14,90,14)"/>
<ellipse cx="394.94" cy="54.84" rx="2.97" ry="2.80" fill="rgb(7,54,7)" stroke="rgb(13,87,13)" stroke-width="1.17"/>
<circle cx="395.29" cy="55.68" r="0.6" fill="rgb(16,99,16)"/>
<circle cx="395.32" cy="54.60" r="0.6" fill="rgb(3,32,3)"/>
<circle cx="394.68" cy="54.71" r="0.6" fill="rgb(16,99,16)"/>
<circle cx="395.62" cy="56.30" r="0.6" fill="rgb(3,32,3)"/>
<circle cx="394.84" cy="54.44" r="0.6" fill="rgb(16,99,16)"/>
<ellipse cx="389.30" cy="60.94" rx="2.55" ry="2.56" fill="rgb(8,61,8)" stroke="rgb(15,97,15)" stroke-width="1.17"/>
<circle cx="388.49" cy="60.29" r="0.6" fill="rgb(18,111,18)"/>
<circle cx="389.23" cy="61.37" r="0.6" fill="rgb(4,35,4)"/>
<circle cx="388.17" cy="59.98" r="0.6" fill="rgb(18,111,18)"/>
<circle cx="389.76" cy="59.81" r="0.6" fill="rgb(4,35,4)"/>
<circle cx="389.34" cy="61.07" r="0.6" fill="rgb(18,111,18)"/>
<ellipse cx="396.95" cy="61.63" rx="2.92" ry="2.74" fill="rgb(6,49,6)" stroke="rgb(11,80,11)" stroke-width="1.17"/>
<circle cx="396.93" cy="61.52" r="0.6" fill="rgb(14,91,14)"/>
<circle cx="397.21" cy="60.98" r="0.6" fill="rgb(3,29,3)"/>
<circle cx="397.94" cy="60.12" r="0.6" fill="rgb(14,91,14)"/>
<circle cx="396.92" cy="61.63" r="0.6" fill="rgb(3,29,3)"/>
<circle cx="397.79" cy="61.10" r="0.6" fill="rgb(14,91,14)"/>
<ellipse cx="337.53" cy="63.70" rx="3.00" ry="2.66" fill="rgb(6,51,6)" stroke="rgb(12,82,12)" stroke-width="1.17"/>
<circle cx="338.21" cy="65.30" r="0.6" fill="rgb(14,94,14)"/>
<circle cx="337.30" cy="63.95" r="0.6" fill="rgb(3,30,3)"/>
<circle cx="336.67" cy="64.60" r="0.6" fill="rgb(14,94,14)"/>
<circle cx="338.62" cy="63.73" r="0.6" fill="rgb(3,30,3)"/>
<circle cx="336.51" cy="64.06" r="0.6" fill="rgb(14,94,14)"/>
<ellipse cx="345.38" cy="64.29" rx="2.58" ry="2.91" fill="rgb(7,58,7)" stroke="rgb(14,92,14)" stroke-width="1.17"/>
<circle cx="346.12" cy="62.64" r="0.6" fill="rgb(17,105,17)"/>
<circle cx="344.74" cy="65.63" r="0.6" fill="rgb(3,34,3)"/>
<circle cx="344.23" cy="65.36" r="0.6" fill="rgb(17,105,17)"/>
<circle cx="347.08" cy="64.97" r="0.6" fill="rgb(3,34,3)"/>
<circle cx="346.38" cy="64.00" r="0.6" fill="rgb(17,105,17)"/>
<ellipse cx="385.87" cy="67.74" rx="2.80" ry="2.81" fill="rgb(8,63,8)" stroke="rgb(16,99,16)" stroke-width="1.17"/>
<circle cx="385.83" cy="67.73" r="0.6" fill="rgb(19,114,19)"/>
<circle cx="386.33" cy="67.64" r="0.6" fill="rgb(4,36,4)"/>
<circle cx="385.96" cy="67.93" r="0.6" fill="rgb(19,114,19)"/>
<circle cx="385.87" cy="69.44" r="0.6" fill="rgb(4,36,4)"/>
<circle cx="386.07" cy="67.77" r="0.6" fill="rgb(19,114,19)"/>
<ellipse cx="340.55" cy="69.80" rx="2.90" ry="2.62" fill="rgb(7,57,7)" stroke="rgb(14,91,14)" stroke-width="1.17"/>
<circle cx="341.80" cy="69.94" r="0.6" fill="rgb(16,104,16)"/>
<circle cx="339.58" cy="69.30" r="0.6" fill="rgb(3,33,3)"/>
<circle cx="340.49" cy="69.60" r="0.6" fill="rgb(16,104,16)"/>
<circle cx="341.57" cy="68.71" r="0.6" fill="rgb(3,33,3)"/>
<circle cx="340.80" cy="69.88" r="0.6" fill="rgb(16,104,16)"/>
<ellipse cx="355.66" cy="69.80" rx="2.78" ry="2.79" fill="rgb(7,54,7)" stroke="rgb(13,86,13)" stroke-width="1.17"/>
<circle cx="355.61" cy="70.05" r="0.6" fill="rgb(15,99,15)"/>
<circle cx="355.42" cy="69.96" r="0.6" fill="rgb(3,32,3)"/>
<circle cx="354.15" cy="68.82" r="0.6" fill="rgb(15,99,15)"/>
<circle cx="356.38" cy="70.76" r="0.6" fill="rgb(3,32,3)"/>
<circle cx="355.65" cy="69.46" r="0.6" fill="rgb(15,99,15)"/>
<ellipse cx="363.51" cy="70.49" rx="2.97" ry="3.03" fill="rgb(8,63,8)" stroke="rgb(16,100,16)" stroke-width="1.17"/>
<circle cx="362.84" cy="71.06" r="0.6" fill="rgb(19,115,19)"/>
<circle cx="364.10" cy="69.56" r="0.6" fill="rgb(4,36,4)"/>
<circle cx="361.95" cy="71.69" r="0.6" fill="rgb(19,115,19)"/>
<circle cx="363.63" cy="69.79" r="0.6" fill="rgb(4,36,4)"/>
<circle cx="363.56" cy="71.19" r="0.6" fill="rgb(19,115,19)"/>
<ellipse cx="374.69" cy="73.15" rx="2.75" ry="3.06" fill="rgb(6,48,6)" stroke="rgb(11,78,11)" stroke-width="1.17"/>
<circle cx="375.33" cy="71.35" r="0.6" fill="rgb(13,89,13)"/>
<circle cx="375.40" cy="71.52" r="0.6" fill="rgb(3,29,3)"/>
<circle cx="375.71" cy="73.51" r="0.6" fill="rgb(13,89,13)"/>
<circle cx="376.58" cy="72.64" r="0.6" fill="rgb(3,29,3)"/>
<circle cx="374.70" cy="74.03" r="0.6" fill="rgb(13,89,13)"/>
<ellipse cx="369.76" cy="76.60" rx="2.86" ry="2.71" fill="rgb(8,61,8)" stroke="rgb(15,97,15)" stroke-width="1.17"/>
<circle cx="369.62" cy="76.57" r="0.6" fill="rgb(18,112,18)"/>
<circle cx="368.79" cy="77.03" r="0.6" fill="rgb(4,35,4)"/>
<circle cx="370.05" cy="76.63" r="0.6" fill="rgb(18,112,18)"/>
<circle cx="371.35" cy="76.29" r="0.6" fill="rgb(4,35,4)"/>
<circle cx="370.98" cy="76.09" r="0.6" fill="rgb(18,112,18)"/>
<ellipse cx="380.84" cy="77.29" rx="2.96" ry="3.00" fill="rgb(6,52,6)" stroke="rgb(12,84,12)" stroke-width="1.17"/>
<circle cx="380.89" cy="77.24" r="0.6" fill="rgb(15,96,15)"/>
<circle cx="380.49" cy="76.85" r="0.6" fill="rgb(3,31,3)"/>
<circle cx="380.59" cy="76.77" r="0.6" fill="rgb(15,96,15)"/>
<circle cx="378.97" cy="76.78" r="0.6" fill="rgb(3,31,3)"/>
<circle cx="380.46" cy="76.92" r="0.6" fill="rgb(15,96,15)"/>
<ellipse cx="353.04" cy="77.29" rx="2.80" ry="2.75" fill="rgb(6,49,6)" stroke="rgb(11,80,11)" stroke-width="1.17"/>
<circle cx="353.61" cy="77.10" r="0.6" fill="rgb(14,91,14)"/>
<circle cx="352.58" cy="78.56" r="0.6" fill="rgb(3,29,3)"/>
<circle cx="353.94" cy="78.14" r="0.6" fill="rgb(14,91,14)"/>
<circle cx="354.07" cy="76.99" r="0.6" fill="rgb(3,29,3)"/>
<circle cx="352.93" cy="78.25" r="0.6" fill="rgb(14,91,14)"/>
<ellipse cx="336.32" cy="78.07" rx="2.81" ry="2.59" fill="rgb(6,49,6)" stroke="rgb(11,80,11)" stroke-width="1.17"/>
<circle cx="336.52" cy="78.27" r="0.6" fill="rgb(14,91,14)"/>
<circle cx="336.09" cy="78.89" r="0.6" fill="rgb(3,29,3)"/>
<circle cx="336.20" cy="78.57" r="0.6" fill="rgb(14,91,14)"/>
<circle cx="337.29" cy="78.67" r="0.6" fill="rgb(3,29,3)"/>
<circle cx="337.00" cy="77.00" r="0.6" fill="rgb(14,91,14)"/>
<ellipse cx="343.97" cy="80.73" rx="2.83" ry="2.87" fill="rgb(6,52,6)" stroke="rgb(12,84,12)" stroke-width="1.17"/>
<circle cx="344.42" cy="82.15" r="0.6" fill="rgb(15,96,15)"/>
<circle cx="342.86" cy="81.01" r="0.6" fill="rgb(3,31,3)"/>
<circle cx="343.23" cy="80.09" r="0.6" fill="rgb(15,96,15)"/>
<circle cx="343.79" cy="81.20" r="0.6" fill="rgb(3,31,3)"/>
<circle cx="344.16" cy="81.79" r="0.6" fill="rgb(15,96,15)"/>
<ellipse cx="350.92" cy="82.80" rx="2.72" ry="2.84" fill="rgb(8,61,8)" stroke="rgb(15,96,15)" stroke-width="1.17"/>
<circle cx="351.66" cy="82.85" r="0.6" fill="rgb(18,111,18)"/>
<circle cx="351.25" cy="82.42" r="0.6" fill="rgb(4,35,4)"/>
<circle cx="349.96" cy="82.44" r="0.6" fill="rgb(18,111,18)"/>
<circle cx="350.48" cy="84.81" r="0.6" fill="rgb(4,35,4)"/>
<circle cx="350.47" cy="84.35" r="0.6" fill="rgb(18,111,18)"/>
<ellipse cx="359.28" cy="83.98" rx="2.60" ry="2.55" fill="rgb(6,50,6)" stroke="rgb(12,81,12)" stroke-width="1.17"/>
<circle cx="359.92" cy="83.31" r="0.6" fill="rgb(14,92,14)"/>
<circle cx="360.03" cy="84.29" r="0.6" fill="rgb(3,30,3)"/>
<circle cx="357.85" cy="84.55" r="0.6" fill="rgb(14,92,14)"/>
<circle cx="359.65" cy="84.28" r="0.6" fill="rgb(3,30,3)"/>
<circle cx="360.78" cy="83.59" r="0.6" fill="rgb(14,92,14)"/>
<ellipse cx="339.04" cy="86.15" rx="2.60" ry="2.70" fill="rgb(7,57,7)" stroke="rgb(14,91,14)" stroke-width="1.17"/>
<circle cx="338.19" cy="87.28" r="0.6" fill="rgb(17,104,17)"/>
<circle cx="337.72" cy="84.96" r="0.6" fill="rgb(3,33,3)"/>
<circle cx="339.51" cy="85.17" r="0.6" fill="rgb(17,104,17)"/>
<circle cx="338.93" cy="84.60" r="0.6" fill="rgb(3,33,3)"/>
<circle cx="339.10" cy="85.15" r="0.6" fill="rgb(17,104,17)"/>
<ellipse cx="353.04" cy="86.93" rx="2.95" ry="2.90" fill="rgb(7,58,7)" stroke="rgb(14,92,14)" stroke-width="1.17"/>
<circle cx="353.27" cy="86.80" r="0.6" fill="rgb(17,106,17)"/>
<circle cx="353.04" cy="86.93" r="0.6" fill="rgb(3,34,3)"/>
<circle cx="353.16" cy="85.71" r="0.6" fill="rgb(17,106,17)"/>
<circle cx="351.03" cy="86.96" r="0.6" fill="rgb(3,34,3)"/>
<circle cx="352.25" cy="86.55" r="0.6" fill="rgb(17,106,17)"/>
<ellipse cx="389.30" cy="84.87" rx="2.95" ry="3.00" fill="rgb(6,53,6)" stroke="rgb(13,86,13)" stroke-width="1.17"/>
<circle cx="388.68" cy="84.37" r="0.6" fill="rgb(15,98,15)"/>
<circle cx="388.38" cy="85.15" r="0.6" fill="rgb(3,31,3)"/>
<circle cx="389.19" cy="84.26" r="0.6" fill="rgb(15,98,15)"/>
<circle cx="388.40" cy="85.60" r="0.6" fill="rgb(3,31,3)"/>
<circle cx="388.79" cy="85.31" r="0.6" fill="rgb(15,98,15)"/>
<ellipse cx="360.69" cy="92.35" rx="2.95" ry="2.98" fill="rgb(7,56,7)" stroke="rgb(14,90,14)" stroke-width="1.17"/>
<circle cx="359.76" cy="92.35" r="0.6" fill="rgb(16,103,16)"/>
<circle cx="360.95" cy="92.93" r="0.6" fill="rgb(3,33,3)"/>
<circle cx="361.43" cy="93.30" r="0.6" fill="rgb(16,103,16)"/>
<circle cx="360.53" cy="92.26" r="0.6" fill="rgb(3,33,3)"/>
<circle cx="361.29" cy="92.02" r="0.6" fill="rgb(16,103,16)"/>
<ellipse cx="370.46" cy="93.04" rx="2.98" ry="2.98" fill="rgb(6,48,6)" stroke="rgb(11,78,11)" stroke-width="1.17"/>
<circle cx="370.88" cy="92.93" r="0.6" fill="rgb(13,89,13)"/>
<circle cx="368.76" cy="93.89" r="0.6" fill="rgb(3,29,3)"/>
<circle cx="370.56" cy="93.04" r="0.6" fill="rgb(13,89,13)"/>
<circle cx="369.51" cy="92.63" r="0.6" fill="rgb(3,29,3)"/>
<circle cx="371.88" cy="92.26" r="0.6" fill="rgb(13,89,13)"/>
<ellipse cx="380.84" cy="91.66" rx="2.81" ry="3.07" fill="rgb(6,48,6)" stroke="rgb(11,78,11)" stroke-width="1.17"/>
<circle cx="379.76" cy="91.54" r="0.6" fill="rgb(13,89,13)"/>
<circle cx="380.51" cy="90.91" r="0.6" fill="rgb(3,29,3)"/>
<circle cx="380.06" cy="92.63" r="0.6" fill="rgb(13,89,13)"/>
<circle cx="379.66" cy="93.25" r="0.6" fill="rgb(3,29,3)"/>
<circle cx="380.35" cy="90.68" r="0.6" fill="rgb(13,89,13)"/>
<ellipse cx="398.96" cy="95.01" rx="2.56" ry="2.72" fill="rgb(6,50,6)" stroke="rgb(12,82,12)" stroke-width="1.17"/>
<circle cx="398.01" cy="95.69" r="0.6" fill="rgb(14,93,14)"/>
<circle cx="397.32" cy="94.18" r="0.6" fill="rgb(3,30,3)"/>
<circle cx="399.96" cy="94.78" r="0.6" fill="rgb(14,93,14)"/>
<circle cx="397.75" cy="95.49" r="0.6" fill="rgb(3,30,3)"/>
<circle cx="399.68" cy="94.99" r="0.6" fill="rgb(14,93,14)"/>
<ellipse cx="386.48" cy="95.79" rx="2.80" ry="2.96" fill="rgb(7,58,7)" stroke="rgb(14,93,14)" stroke-width="1.17"/>
<circle cx="386.79" cy="96.38" r="0.6" fill="rgb(17,107,17)"/>
<circle cx="388.19" cy="95.56" r="0.6" fill="rgb(3,34,3)"/>
<circle cx="386.25" cy="95.78" r="0.6" fill="rgb(17,107,17)"/>
<circle cx="387.61" cy="94.91" r="0.6" fill="rgb(3,34,3)"/>
<circle cx="387.36" cy="93.92" r="0.6" fill="rgb(17,107,17)"/>
<ellipse cx="349.61" cy="97.76" rx="3.00" ry="2.74" fill="rgb(7,54,7)" stroke="rgb(13,87,13)" stroke-width="1.17"/>
<circle cx="349.95" cy="98.27" r="0.6" fill="rgb(16,100,16)"/>
<circle cx="348.56" cy="97.69" r="0.6" fill="rgb(3,32,3)"/>
<circle cx="349.76" cy="98.12" r="0.6" fill="rgb(16,100,16)"/>
<circle cx="348.75" cy="96.84" r="0.6" fill="rgb(3,32,3)"/>
<circle cx="348.36" cy="99.42" r="0.6" fill="rgb(16,100,16)"/>
<ellipse cx="339.04" cy="101.21" rx="2.86" ry="2.53" fill="rgb(6,52,6)" stroke="rgb(12,84,12)" stroke-width="1.17"/>
<circle cx="337.64" cy="102.08" r="0.6" fill="rgb(15,96,15)"/>
<circle cx="338.54" cy="102.56" r="0.6" fill="rgb(3,31,3)"/>
<circle cx="339.68" cy="101.22" r="0.6" fill="rgb(15,96,15)"/>
<circle cx="339.71" cy="100.18" r="0.6" fill="rgb(3,31,3)"/>
<circle cx="338.84" cy="100.85" r="0.6" fill="rgb(15,96,15)"/>
<ellipse cx="357.87" cy="98.45" rx="2.79" ry="2.82" fill="rgb(7,57,7)" stroke="rgb(14,91,14)" stroke-width="1.17"/>
<circle cx="357.74" cy="99.80" r="0.6" fill="rgb(17,104,17)"/>
<circle cx="355.83" cy="98.04" r="0.6" fill="rgb(3,33,3)"/>
<circle cx="357.11" cy="98.06" r="0.6" fill="rgb(17,104,17)"/>
<circle cx="358.11" cy="98.68" r="0.6" fill="rgb(3,33,3)"/>
<circle cx="357.89" cy="98.23" r="0.6" fill="rgb(17,104,17)"/>
<ellipse cx="363.51" cy="101.90" rx="2.57" ry="2.60" fill="rgb(7,55,7)" stroke="rgb(13,88,13)" stroke-width="1.17"/>
<circle cx="361.81" cy="101.66" r="0.6" fill="rgb(16,100,16)"/>
<circle cx="362.23" cy="100.80" r="0.6" fill="rgb(3,32,3)"/>
<circle cx="363.54" cy="101.91" r="0.6" fill="rgb(16,100,16)"/>
<circle cx="363.60" cy="101.23" r="0.6" fill="rgb(3,32,3)"/>
<circle cx="363.35" cy="101.18" r="0.6" fill="rgb(16,100,16)"/>
<ellipse cx="371.17" cy="100.52" rx="2.60" ry="2.66" fill="rgb(6,52,6)" stroke="rgb(12,84,12)" stroke-width="1.17"/>
<circle cx="372.70" cy="101.63" r="0.6" fill="rgb(15,96,15)"/>
<circle cx="370.53" cy="100.16" r="0.6" fill="rgb(3,31,3)"/>
<circle cx="370.40" cy="100.77" r="0.6" fill="rgb(15,96,15)"/>
<circle cx="372.92" cy="101.15" r="0.6" fill="rgb(3,31,3)"/>
<circle cx="369.43" cy="99.52" r="0.6" fill="rgb(15,96,15)"/>
<ellipse cx="378.12" cy="98.45" rx="2.75" ry="2.86" fill="rgb(8,60,8)" stroke="rgb(15,96,15)" stroke-width="1.17"/>
<circle cx="378.12" cy="98.54" r="0.6" fill="rgb(18,110,18)"/>
<circle cx="379.74" cy="97.70" r="0.6" fill="rgb(4,35,4)"/>
<circle cx="377.37" cy="100.18" r="0.6" fill="rgb(18,110,18)"/>
<circle cx="378.37" cy="97.87" r="0.6" fill="rgb(4,35,4)"/>
<circle cx="376.51" cy="97.25" r="0.6" fill="rgb(18,110,18)"/>
<ellipse cx="390.71" cy="99.14" rx="2.79" ry="3.04" fill="rgb(7,59,7)" stroke="rgb(14,93,14)" stroke-width="1.17"/>
<circle cx="390.74" cy="99.96" r="0.6" fill="rgb(17,107,17)"/>
<circle cx="390.61" cy="98.69" r="0.6" fill="rgb(3,34,3)"/>
<circle cx="390.04" cy="100.85" r="0.6" fill="rgb(17,107,17)"/>
<circle cx="389.06" cy="99.30" r="0.6" fill="rgb(3,34,3)"/>
<circle cx="390.72" cy="99.50" r="0.6" fill="rgb(17,107,17)"/>
<ellipse cx="346.79" cy="104.65" rx="2.71" ry="2.61" fill="rgb(6,51,6)" stroke="rgb(12,83,12)" stroke-width="1.17"/>
<circle cx="347.39" cy="104.55" r="0.6" fill="rgb(14,94,14)"/>
<circle cx="346.57" cy="104.56" r="0.6" fill="rgb(3,30,3)"/>
<circle cx="346.01" cy="104.49" r="0.6" fill="rgb(14,94,14)"/>
<circle cx="346.68" cy="104.73" r="0.6" fill="rgb(3,30,3)"/>
<circle cx="348.03" cy="105.86" r="0.6" fill="rgb(14,94,14)"/>
<ellipse cx="359.99" cy="107.31" rx="2.71" ry="2.65" fill="rgb(7,57,7)" stroke="rgb(14,91,14)" stroke-width="1.17"/>
<circle cx="360.20" cy="107.87" r="0.6" fill="rgb(16,104,16)"/>
<circle cx="359.99" cy="107.39" r="0.6" fill="rgb(3,33,3)"/>
<circle cx="359.62" cy="106.70" r="0.6" fill="rgb(16,104,16)"/>
<circle cx="360.81" cy="108.54" r="0.6" fill="rgb(3,33,3)"/>
<circle cx="360.46" cy="107.62" r="0.6" fill="rgb(16,104,16)"/>
<ellipse cx="367.74" cy="107.31" rx="2.97" ry="2.58" fill="rgb(7,56,7)" stroke="rgb(13,89,13)" stroke-width="1.17"/>
<circle cx="366.10" cy="107.92" r="0.6" fill="rgb(16,102,16)"/>
<circle cx="367.86" cy="107.00" r="0.6" fill="rgb(3,33,3)"/>
<circle cx="366.83" cy="108.52" r="0.6" fill="rgb(16,102,16)"/>
<circle cx="366.31" cy="108.71" r="0.6" fill="rgb(3,33,3)"/>
<circle cx="368.26" cy="109.23" r="0.6" fill="rgb(16,102,16)"/>
<ellipse cx="375.40" cy="105.25" rx="2.79" ry="2.64" fill="rgb(8,62,8)" stroke="rgb(15,98,15)" stroke-width="1.17"/>
<circle cx="375.14" cy="105.33" r="0.6" fill="rgb(18,112,18)"/>
<circle cx="375.25" cy="104.72" r="0.6" fill="rgb(4,36,4)"/>
<circle cx="376.39" cy="104.52" r="0.6" fill="rgb(18,112,18)"/>
<circle cx="375.05" cy="105.63" r="0.6" fill="rgb(4,36,4)"/>
<circle cx="375.05" cy="104.97" r="0.6" fill="rgb(18,112,18)"/>
<ellipse cx="385.07" cy="107.31" rx="3.00" ry="2.58" fill="rgb(7,59,7)" stroke="rgb(14,94,14)" stroke-width="1.17"/>
<circle cx="383.93" cy="107.22" r="0.6" fill="rgb(17,108,17)"/>
<circle cx="384.86" cy="108.91" r="0.6" fill="rgb(3,34,3)"/>
<circle cx="384.04" cy="108.22" r="0.6" fill="rgb(17,108,17)"/>
<circle cx="384.47" cy="107.05" r="0.6" fill="rgb(3,34,3)"/>
<circle cx="384.93" cy="107.43" r="0.6" fill="rgb(17,108,17)"/>
<ellipse cx="396.95" cy="106.62" rx="2.61" ry="2.98" fill="rgb(6,52,6)" stroke="rgb(12,84,12)" stroke-width="1.17"/>
<circle cx="396.35" cy="107.87" r="0.6" fill="rgb(15,96,15)"/>
<circle cx="397.86" cy="107.37" r="0.6" fill="rgb(3,31,3)"/>
<circle cx="396.28" cy="107.42" r="0.6" fill="rgb(15,96,15)"/>
<circle cx="396.91" cy="106.76" r="0.6" fill="rgb(3,31,3)"/>
<circle cx="396.77" cy="107.06" r="0.6" fill="rgb(15,96,15)"/>
<ellipse cx="341.86" cy="110.07" rx="2.58" ry="2.91" fill="rgb(8,64,8)" stroke="rgb(16,100,16)" stroke-width="1.17"/>
<circle cx="341.69" cy="110.90" r="0.6" fill="rgb(19,115,19)"/>
<circle cx="343.22" cy="109.19" r="0.6" fill="rgb(4,37,4)"/>
<circle cx="343.19" cy="108.86" r="0.6" fill="rgb(19,115,19)"/>
<circle cx="342.25" cy="110.50" r="0.6" fill="rgb(4,37,4)"/>
<circle cx="343.26" cy="110.33" r="0.6" fill="rgb(19,115,19)"/>
<ellipse cx="351.63" cy="108.59" rx="2.88" ry="2.71" fill="rgb(6,49,6)" stroke="rgb(11,80,11)" stroke-width="1.17"/>
<circle cx="350.45" cy="109.31" r="0.6" fill="rgb(14,91,14)"/>
<circle cx="351.47" cy="108.10" r="0.6" fill="rgb(3,29,3)"/>
<circle cx="352.05" cy="107.99" r="0.6" fill="rgb(14,91,14)"/>
<circle cx="351.37" cy="108.32" r="0.6" fill="rgb(3,29,3)"/>
<circle cx="353.06" cy="109.86" r="0.6" fill="rgb(14,91,14)"/>
<ellipse cx="361.40" cy="112.14" rx="2.92" ry="2.91" fill="rgb(7,54,7)" stroke="rgb(13,87,13)" stroke-width="1.17"/>
<circle cx="361.48" cy="112.16" r="0.6" fill="rgb(16,99,16)"/>
<circle cx="361.62" cy="112.49" r="0.6" fill="rgb(3,32,3)"/>
<circle cx="361.14" cy="112.89" r="0.6" fill="rgb(16,99,16)"/>
<circle cx="362.03" cy="112.30" r="0.6" fill="rgb(3,32,3)"/>
<circle cx="361.16" cy="111.85" r="0.6" fill="rgb(16,99,16)"/>
</g></g>
<clipPath id="c4"><rect x="333.5" y="115.00" width="70.50" height="71.00"/></clipPath>
<g clip-path="url(#c4)"><rect x="333.5" y="115.00" width="70.50" height="71.00" fill="#000"/><rect x="334.3" y="115.00" width="68.90" height="70.20" fill="#01010c"/><g filter="url(#bb)">
<circle cx="373.28" cy="122.60" r="3.24" fill="rgb(23,14,227)"/>
<circle cx="380.84" cy="119.00" r="3.24" fill="rgb(19,11,197)"/>
<circle cx="384.36" cy="120.50" r="3.24" fill="rgb(21,13,214)"/>
<circle cx="394.94" cy="118.50" r="3.24" fill="rgb(18,11,191)"/>
<circle cx="400.48" cy="118.50" r="3.24" fill="rgb(22,13,223)"/>
<circle cx="347.60" cy="123.00" r="3.24" fill="rgb(23,14,228)"/>
<circle cx="341.86" cy="129.00" r="3.24" fill="rgb(22,13,218)"/>
<circle cx="354.45" cy="129.50" r="3.24" fill="rgb(24,14,233)"/>
<circle cx="360.69" cy="134.40" r="3.24" fill="rgb(20,12,205)"/>
<circle cx="367.74" cy="137.00" r="3.24" fill="rgb(23,13,224)"/>
<circle cx="379.53" cy="130.00" r="3.24" fill="rgb(22,13,219)"/>
<circle cx="387.89" cy="126.00" r="3.24" fill="rgb(22,13,218)"/>
<circle cx="394.94" cy="125.40" r="3.24" fill="rgb(21,12,212)"/>
<circle cx="389.30" cy="131.60" r="3.24" fill="rgb(23,14,231)"/>
<circle cx="396.95" cy="132.30" r="3.24" fill="rgb(24,14,237)"/>
<circle cx="337.53" cy="134.40" r="3.24" fill="rgb(21,13,213)"/>
<circle cx="345.38" cy="135.00" r="3.24" fill="rgb(22,13,223)"/>
<circle cx="385.87" cy="138.50" r="3.24" fill="rgb(19,11,193)"/>
<circle cx="340.55" cy="140.60" r="3.24" fill="rgb(23,13,225)"/>
<circle cx="355.66" cy="140.60" r="3.24" fill="rgb(22,13,222)"/>
<circle cx="363.51" cy="141.30" r="3.24" fill="rgb(24,14,239)"/>
<circle cx="374.69" cy="144.00" r="3.24" fill="rgb(23,14,231)"/>
<circle cx="369.76" cy="147.50" r="3.24" fill="rgb(20,12,204)"/>
<circle cx="380.84" cy="148.20" r="3.24" fill="rgb(21,12,209)"/>
<circle cx="353.04" cy="148.20" r="3.24" fill="rgb(22,13,223)"/>
<circle cx="336.32" cy="149.00" r="3.24" fill="rgb(18,11,191)"/>
<circle cx="343.97" cy="151.70" r="3.24" fill="rgb(21,12,213)"/>
<circle cx="350.92" cy="153.80" r="3.24" fill="rgb(19,11,198)"/>
<circle cx="359.28" cy="155.00" r="3.24" fill="rgb(19,11,195)"/>
<circle cx="339.04" cy="157.20" r="3.24" fill="rgb(19,11,192)"/>
<circle cx="353.04" cy="158.00" r="3.24" fill="rgb(23,14,228)"/>
<circle cx="389.30" cy="155.90" r="3.24" fill="rgb(19,11,196)"/>
<circle cx="360.69" cy="163.50" r="3.24" fill="rgb(20,12,202)"/>
<circle cx="370.46" cy="164.20" r="3.24" fill="rgb(21,12,209)"/>
<circle cx="380.84" cy="162.80" r="3.24" fill="rgb(24,14,233)"/>
<circle cx="398.96" cy="166.20" r="3.24" fill="rgb(19,11,194)"/>
<circle cx="386.48" cy="167.00" r="3.24" fill="rgb(21,12,212)"/>
<circle cx="349.61" cy="169.00" r="3.24" fill="rgb(22,13,217)"/>
<circle cx="339.04" cy="172.50" r="3.24" fill="rgb(24,14,234)"/>
<circle cx="357.87" cy="169.70" r="3.24" fill="rgb(23,14,230)"/>
<circle cx="363.51" cy="173.20" r="3.24" fill="rgb(24,14,233)"/>
<circle cx="371.17" cy="171.80" r="3.24" fill="rgb(20,12,203)"/>
<circle cx="378.12" cy="169.70" r="3.24" fill="rgb(21,12,210)"/>
<circle cx="390.71" cy="170.40" r="3.24" fill="rgb(20,12,207)"/>
<circle cx="346.79" cy="176.00" r="3.24" fill="rgb(24,14,234)"/>
<circle cx="359.99" cy="178.70" r="3.24" fill="rgb(24,14,237)"/>
<circle cx="367.74" cy="178.70" r="3.24" fill="rgb(19,11,197)"/>
<circle cx="375.40" cy="176.60" r="3.24" fill="rgb(19,11,198)"/>
<circle cx="385.07" cy="178.70" r="3.24" fill="rgb(20,12,201)"/>
<circle cx="396.95" cy="178.00" r="3.24" fill="rgb(20,12,201)"/>
<circle cx="341.86" cy="181.50" r="3.24" fill="rgb(21,13,214)"/>
<circle cx="351.63" cy="180.00" r="3.24" fill="rgb(22,13,219)"/>
<circle cx="361.40" cy="183.60" r="3.24" fill="rgb(20,12,203)"/>
</g></g>
<line x1="333.50" y1="114.50" x2="404.00" y2="114.50" stroke="#7c8090" stroke-width="1.0"/>
<clipPath id="c5"><rect x="410.0" y="44.6" width="69.00" height="69.90"/></clipPath>
<g clip-path="url(#c5)"><rect x="410.0" y="44.6" width="69.00" height="69.90" fill="#000"/><rect x="410.8" y="45.4" width="67.40" height="69.10" fill="#020802"/><g filter="url(#bg)">
<ellipse cx="418.08" cy="60.06" rx="3.94" ry="3.74" fill="rgb(8,60,8)" stroke="rgb(15,95,15)" stroke-width="1.26"/>
<circle cx="417.94" cy="59.37" r="0.6" fill="rgb(18,109,18)"/>
<circle cx="416.35" cy="60.81" r="0.6" fill="rgb(4,35,4)"/>
<circle cx="418.08" cy="60.06" r="0.6" fill="rgb(18,109,18)"/>
<circle cx="419.17" cy="58.20" r="0.6" fill="rgb(4,35,4)"/>
<circle cx="418.06" cy="60.17" r="0.6" fill="rgb(18,109,18)"/>
<ellipse cx="455.74" cy="65.27" rx="3.78" ry="3.60" fill="rgb(5,45,5)" stroke="rgb(10,74,10)" stroke-width="1.24"/>
<circle cx="456.36" cy="65.46" r="0.6" fill="rgb(12,83,12)"/>
<circle cx="457.34" cy="66.62" r="0.6" fill="rgb(2,27,2)"/>
<circle cx="456.34" cy="67.62" r="0.6" fill="rgb(12,83,12)"/>
<circle cx="455.74" cy="65.05" r="0.6" fill="rgb(2,27,2)"/>
<circle cx="455.38" cy="64.30" r="0.6" fill="rgb(12,83,12)"/>
<ellipse cx="467.86" cy="70.20" rx="3.44" ry="3.50" fill="rgb(5,45,5)" stroke="rgb(10,74,10)" stroke-width="1.22"/>
<circle cx="467.82" cy="70.41" r="0.6" fill="rgb(12,83,12)"/>
<circle cx="468.85" cy="69.85" r="0.6" fill="rgb(2,27,2)"/>
<circle cx="469.40" cy="69.47" r="0.6" fill="rgb(12,83,12)"/>
<circle cx="467.72" cy="68.16" r="0.6" fill="rgb(2,27,2)"/>
<circle cx="467.09" cy="69.39" r="0.6" fill="rgb(12,83,12)"/>
<ellipse cx="413.35" cy="72.17" rx="2.61" ry="2.98" fill="rgb(4,40,4)" stroke="rgb(9,67,9)" stroke-width="1.18"/>
<circle cx="412.36" cy="72.65" r="0.6" fill="rgb(10,75,10)"/>
<circle cx="413.60" cy="72.05" r="0.6" fill="rgb(2,25,2)"/>
<circle cx="413.36" cy="72.07" r="0.6" fill="rgb(10,75,10)"/>
<circle cx="412.84" cy="70.51" r="0.6" fill="rgb(2,25,2)"/>
<circle cx="413.27" cy="73.34" r="0.6" fill="rgb(10,75,10)"/>
<ellipse cx="460.27" cy="78.07" rx="3.59" ry="3.37" fill="rgb(12,90,12)" stroke="rgb(24,137,24)" stroke-width="1.22"/>
<circle cx="459.68" cy="77.91" r="0.6" fill="rgb(28,159,28)"/>
<circle cx="461.09" cy="78.39" r="0.6" fill="rgb(6,50,6)"/>
<circle cx="459.85" cy="78.33" r="0.6" fill="rgb(28,159,28)"/>
<circle cx="460.15" cy="78.39" r="0.6" fill="rgb(6,50,6)"/>
<circle cx="459.83" cy="76.48" r="0.6" fill="rgb(28,159,28)"/>
<ellipse cx="438.29" cy="80.04" rx="3.11" ry="3.11" fill="rgb(8,65,8)" stroke="rgb(16,102,16)" stroke-width="1.22"/>
<circle cx="437.20" cy="79.94" r="0.6" fill="rgb(19,117,19)"/>
<circle cx="439.09" cy="79.70" r="0.6" fill="rgb(4,37,4)"/>
<circle cx="437.63" cy="82.11" r="0.6" fill="rgb(19,117,19)"/>
<circle cx="439.16" cy="81.12" r="0.6" fill="rgb(4,37,4)"/>
<circle cx="437.28" cy="81.78" r="0.6" fill="rgb(19,117,19)"/>
<ellipse cx="432.18" cy="83.59" rx="3.56" ry="3.71" fill="rgb(8,65,8)" stroke="rgb(16,102,16)" stroke-width="1.24"/>
<circle cx="433.04" cy="85.13" r="0.6" fill="rgb(19,117,19)"/>
<circle cx="431.19" cy="82.88" r="0.6" fill="rgb(4,37,4)"/>
<circle cx="432.40" cy="81.40" r="0.6" fill="rgb(19,117,19)"/>
<circle cx="432.75" cy="84.09" r="0.6" fill="rgb(4,37,4)"/>
<circle cx="431.83" cy="84.01" r="0.6" fill="rgb(19,117,19)"/>
<ellipse cx="421.43" cy="81.62" rx="2.84" ry="2.98" fill="rgb(7,55,7)" stroke="rgb(13,88,13)" stroke-width="1.20"/>
<circle cx="421.97" cy="83.17" r="0.6" fill="rgb(16,100,16)"/>
<circle cx="421.18" cy="81.70" r="0.6" fill="rgb(3,32,3)"/>
<circle cx="420.94" cy="82.60" r="0.6" fill="rgb(16,100,16)"/>
<circle cx="421.18" cy="81.92" r="0.6" fill="rgb(3,32,3)"/>
<circle cx="421.46" cy="81.63" r="0.6" fill="rgb(16,100,16)"/>
<ellipse cx="451.10" cy="84.28" rx="3.87" ry="3.70" fill="rgb(12,90,12)" stroke="rgb(24,137,24)" stroke-width="1.24"/>
<circle cx="452.74" cy="85.23" r="0.6" fill="rgb(28,159,28)"/>
<circle cx="452.58" cy="84.09" r="0.6" fill="rgb(6,50,6)"/>
<circle cx="452.11" cy="85.09" r="0.6" fill="rgb(28,159,28)"/>
<circle cx="450.64" cy="84.48" r="0.6" fill="rgb(6,50,6)"/>
<circle cx="451.08" cy="84.27" r="0.6" fill="rgb(28,159,28)"/>
<ellipse cx="469.93" cy="85.65" rx="3.56" ry="3.37" fill="rgb(12,90,12)" stroke="rgb(24,137,24)" stroke-width="1.22"/>
<circle cx="468.33" cy="84.00" r="0.6" fill="rgb(28,159,28)"/>
<circle cx="469.58" cy="85.15" r="0.6" fill="rgb(6,50,6)"/>
<circle cx="469.94" cy="85.99" r="0.6" fill="rgb(28,159,28)"/>
<circle cx="471.81" cy="85.98" r="0.6" fill="rgb(6,50,6)"/>
<circle cx="470.32" cy="85.04" r="0.6" fill="rgb(28,159,28)"/>
<ellipse cx="449.72" cy="92.84" rx="3.46" ry="3.79" fill="rgb(14,100,14)" stroke="rgb(27,151,27)" stroke-width="1.26"/>
<circle cx="451.18" cy="90.73" r="0.6" fill="rgb(30,165,30)"/>
<circle cx="450.79" cy="94.73" r="0.6" fill="rgb(7,55,7)"/>
<circle cx="450.72" cy="91.04" r="0.6" fill="rgb(30,165,30)"/>
<circle cx="449.49" cy="93.29" r="0.6" fill="rgb(7,55,7)"/>
<circle cx="450.13" cy="92.05" r="0.6" fill="rgb(30,165,30)"/>
<ellipse cx="430.21" cy="93.83" rx="3.19" ry="3.31" fill="rgb(7,55,7)" stroke="rgb(13,88,13)" stroke-width="1.22"/>
<circle cx="428.81" cy="95.32" r="0.6" fill="rgb(16,100,16)"/>
<circle cx="430.21" cy="93.93" r="0.6" fill="rgb(3,32,3)"/>
<circle cx="428.80" cy="93.20" r="0.6" fill="rgb(16,100,16)"/>
<circle cx="430.94" cy="92.25" r="0.6" fill="rgb(3,32,3)"/>
<circle cx="432.13" cy="92.52" r="0.6" fill="rgb(16,100,16)"/>
<ellipse cx="459.29" cy="90.87" rx="3.28" ry="3.28" fill="rgb(4,40,4)" stroke="rgb(9,67,9)" stroke-width="1.22"/>
<circle cx="459.69" cy="91.49" r="0.6" fill="rgb(10,75,10)"/>
<circle cx="459.11" cy="90.78" r="0.6" fill="rgb(2,25,2)"/>
<circle cx="459.13" cy="90.50" r="0.6" fill="rgb(10,75,10)"/>
<circle cx="457.05" cy="91.71" r="0.6" fill="rgb(2,25,2)"/>
<circle cx="459.37" cy="90.92" r="0.6" fill="rgb(10,75,10)"/>
<ellipse cx="471.11" cy="94.81" rx="3.24" ry="3.08" fill="rgb(14,100,14)" stroke="rgb(27,151,27)" stroke-width="1.22"/>
<circle cx="471.11" cy="94.80" r="0.6" fill="rgb(30,165,30)"/>
<circle cx="472.25" cy="93.04" r="0.6" fill="rgb(7,55,7)"/>
<circle cx="471.35" cy="93.79" r="0.6" fill="rgb(30,165,30)"/>
<circle cx="470.78" cy="96.40" r="0.6" fill="rgb(7,55,7)"/>
<circle cx="470.08" cy="94.71" r="0.6" fill="rgb(30,165,30)"/>
<ellipse cx="447.46" cy="102.39" rx="3.41" ry="3.48" fill="rgb(8,60,8)" stroke="rgb(15,95,15)" stroke-width="1.24"/>
<circle cx="446.36" cy="100.50" r="0.6" fill="rgb(18,109,18)"/>
<circle cx="447.82" cy="102.14" r="0.6" fill="rgb(4,35,4)"/>
<circle cx="447.13" cy="103.51" r="0.6" fill="rgb(18,109,18)"/>
<circle cx="446.61" cy="102.03" r="0.6" fill="rgb(4,35,4)"/>
<circle cx="447.53" cy="102.60" r="0.6" fill="rgb(18,109,18)"/>
<ellipse cx="461.85" cy="103.08" rx="3.40" ry="3.50" fill="rgb(5,45,5)" stroke="rgb(10,74,10)" stroke-width="1.24"/>
<circle cx="464.21" cy="102.65" r="0.6" fill="rgb(12,83,12)"/>
<circle cx="463.56" cy="101.15" r="0.6" fill="rgb(2,27,2)"/>
<circle cx="463.44" cy="102.69" r="0.6" fill="rgb(12,83,12)"/>
<circle cx="461.91" cy="102.93" r="0.6" fill="rgb(2,27,2)"/>
<circle cx="461.13" cy="101.64" r="0.6" fill="rgb(12,83,12)"/>
<ellipse cx="432.18" cy="107.12" rx="3.30" ry="3.49" fill="rgb(14,100,14)" stroke="rgb(27,151,27)" stroke-width="1.24"/>
<circle cx="433.37" cy="106.75" r="0.6" fill="rgb(30,165,30)"/>
<circle cx="431.71" cy="106.50" r="0.6" fill="rgb(7,55,7)"/>
<circle cx="430.91" cy="109.02" r="0.6" fill="rgb(30,165,30)"/>
<circle cx="432.66" cy="107.20" r="0.6" fill="rgb(7,55,7)"/>
<circle cx="431.68" cy="106.07" r="0.6" fill="rgb(30,165,30)"/>
<ellipse cx="436.22" cy="111.84" rx="2.63" ry="2.96" fill="rgb(12,90,12)" stroke="rgb(24,137,24)" stroke-width="1.18"/>
<circle cx="435.35" cy="112.74" r="0.6" fill="rgb(28,159,28)"/>
<circle cx="435.23" cy="112.41" r="0.6" fill="rgb(6,50,6)"/>
<circle cx="435.44" cy="111.50" r="0.6" fill="rgb(28,159,28)"/>
<circle cx="436.51" cy="112.10" r="0.6" fill="rgb(6,50,6)"/>
<circle cx="437.13" cy="111.09" r="0.6" fill="rgb(28,159,28)"/>
<ellipse cx="476.63" cy="109.58" rx="2.27" ry="2.64" fill="rgb(12,90,12)" stroke="rgb(24,137,24)" stroke-width="1.14"/>
<circle cx="476.63" cy="109.75" r="0.6" fill="rgb(28,159,28)"/>
<circle cx="476.18" cy="109.49" r="0.6" fill="rgb(6,50,6)"/>
<circle cx="475.61" cy="109.65" r="0.6" fill="rgb(28,159,28)"/>
<circle cx="476.79" cy="110.62" r="0.6" fill="rgb(6,50,6)"/>
<circle cx="477.35" cy="110.19" r="0.6" fill="rgb(28,159,28)"/>
<ellipse cx="414.73" cy="107.12" rx="2.92" ry="2.63" fill="rgb(4,40,4)" stroke="rgb(9,67,9)" stroke-width="1.18"/>
<circle cx="414.60" cy="107.20" r="0.6" fill="rgb(10,75,10)"/>
<circle cx="413.01" cy="107.81" r="0.6" fill="rgb(2,25,2)"/>
<circle cx="413.27" cy="106.64" r="0.6" fill="rgb(10,75,10)"/>
<circle cx="414.74" cy="106.87" r="0.6" fill="rgb(2,25,2)"/>
<circle cx="416.28" cy="107.02" r="0.6" fill="rgb(10,75,10)"/>
<ellipse cx="475.06" cy="61.34" rx="2.26" ry="2.62" fill="rgb(4,40,4)" stroke="rgb(9,67,9)" stroke-width="1.14"/>
<circle cx="474.81" cy="61.54" r="0.6" fill="rgb(10,75,10)"/>
<circle cx="476.06" cy="61.08" r="0.6" fill="rgb(2,25,2)"/>
<circle cx="475.10" cy="61.09" r="0.6" fill="rgb(10,75,10)"/>
<circle cx="475.07" cy="61.23" r="0.6" fill="rgb(2,25,2)"/>
<circle cx="475.11" cy="62.02" r="0.6" fill="rgb(10,75,10)"/>
<ellipse cx="436.61" cy="59.37" rx="2.96" ry="3.34" fill="rgb(4,35,4)" stroke="rgb(7,60,7)" stroke-width="1.22"/>
<circle cx="436.78" cy="60.09" r="0.6" fill="rgb(9,67,9)"/>
<circle cx="436.34" cy="58.36" r="0.6" fill="rgb(2,22,2)"/>
<circle cx="437.78" cy="58.38" r="0.6" fill="rgb(9,67,9)"/>
<circle cx="437.58" cy="58.37" r="0.6" fill="rgb(2,22,2)"/>
<circle cx="438.47" cy="58.31" r="0.6" fill="rgb(9,67,9)"/>
<ellipse cx="423.50" cy="72.17" rx="2.68" ry="3.01" fill="rgb(4,40,4)" stroke="rgb(9,67,9)" stroke-width="1.18"/>
<circle cx="422.61" cy="73.55" r="0.6" fill="rgb(10,75,10)"/>
<circle cx="422.75" cy="70.56" r="0.6" fill="rgb(2,25,2)"/>
<circle cx="424.08" cy="72.73" r="0.6" fill="rgb(10,75,10)"/>
<circle cx="423.34" cy="70.13" r="0.6" fill="rgb(2,25,2)"/>
<circle cx="423.49" cy="72.07" r="0.6" fill="rgb(10,75,10)"/>
</g></g>
<clipPath id="c6"><rect x="410.0" y="115.00" width="69.00" height="71.00"/></clipPath>
<g clip-path="url(#c6)"><rect x="410.0" y="115.00" width="69.00" height="71.00" fill="#000"/><rect x="410.8" y="115.00" width="67.40" height="70.20" fill="#02020e"/><g filter="url(#bb)">
<circle cx="417.89" cy="130.70" r="4.25" fill="rgb(9,5,112)"/>
<circle cx="436.61" cy="130.00" r="4.25" fill="rgb(9,5,112)"/>
<circle cx="461.26" cy="123.00" r="3.82" fill="rgb(6,4,96)"/>
<circle cx="455.74" cy="135.50" r="4.25" fill="rgb(8,4,104)"/>
<circle cx="469.14" cy="140.00" r="3.82" fill="rgb(12,7,136)"/>
<circle cx="423.50" cy="143.00" r="3.82" fill="rgb(15,9,160)"/>
<circle cx="427.45" cy="143.70" r="3.40" fill="rgb(13,8,152)"/>
<circle cx="448.44" cy="143.70" r="4.25" fill="rgb(15,9,160)"/>
<circle cx="413.35" cy="143.00" r="2.98" fill="rgb(12,7,136)"/>
<circle cx="461.85" cy="149.00" r="3.82" fill="rgb(16,9,168)"/>
<circle cx="421.43" cy="152.00" r="3.40" fill="rgb(15,9,160)"/>
<circle cx="435.63" cy="153.00" r="5.52" fill="rgb(19,11,192)"/>
<circle cx="438.98" cy="150.50" r="4.25" fill="rgb(17,10,176)"/>
<circle cx="451.10" cy="154.60" r="4.25" fill="rgb(17,10,176)"/>
<circle cx="469.93" cy="156.70" r="4.25" fill="rgb(16,9,168)"/>
<circle cx="418.77" cy="160.80" r="3.82" fill="rgb(15,9,160)"/>
<circle cx="442.33" cy="160.80" r="3.82" fill="rgb(16,9,168)"/>
<circle cx="451.10" cy="164.00" r="4.25" fill="rgb(18,10,184)"/>
<circle cx="459.78" cy="162.00" r="4.25" fill="rgb(16,9,168)"/>
<circle cx="430.21" cy="163.50" r="3.82" fill="rgb(15,9,160)"/>
<circle cx="436.91" cy="167.50" r="3.82" fill="rgb(17,10,176)"/>
<circle cx="471.11" cy="166.00" r="4.25" fill="rgb(18,10,184)"/>
<circle cx="448.44" cy="174.40" r="5.10" fill="rgb(20,12,200)"/>
<circle cx="461.85" cy="174.40" r="5.10" fill="rgb(20,12,200)"/>
<circle cx="424.79" cy="177.00" r="4.25" fill="rgb(16,9,168)"/>
<circle cx="433.66" cy="178.50" r="4.25" fill="rgb(17,10,176)"/>
<circle cx="413.94" cy="178.50" r="3.40" fill="rgb(13,8,152)"/>
<circle cx="436.91" cy="183.30" r="3.40" fill="rgb(16,9,168)"/>
<circle cx="476.04" cy="182.00" r="2.98" fill="rgb(13,8,152)"/>
<circle cx="476.04" cy="150.50" r="2.55" fill="rgb(10,6,120)"/>
</g></g>
<line x1="410.00" y1="114.50" x2="479.00" y2="114.50" stroke="#7c8090" stroke-width="1.0"/>
<clipPath id="c7"><rect x="258.0" y="192.3" width="69.50" height="72.20"/></clipPath>
<g clip-path="url(#c7)"><rect x="258.0" y="192.3" width="69.50" height="72.20" fill="#000"/><rect x="258.8" y="193.10000000000002" width="67.90" height="71.40" fill="#020502"/><g filter="url(#bg)">
<ellipse cx="265.35" cy="208.06" rx="4.19" ry="3.77" fill="rgb(4,38,4)" stroke="rgb(8,64,8)" stroke-width="1.30"/>
<circle cx="262.99" cy="207.32" r="0.6" fill="rgb(10,72,10)"/>
<circle cx="267.51" cy="209.92" r="0.6" fill="rgb(2,24,2)"/>
<circle cx="264.99" cy="207.36" r="0.6" fill="rgb(10,72,10)"/>
<circle cx="265.83" cy="209.35" r="0.6" fill="rgb(2,24,2)"/>
<circle cx="266.29" cy="206.54" r="0.6" fill="rgb(10,72,10)"/>
<ellipse cx="282.82" cy="214.16" rx="3.78" ry="3.71" fill="rgb(6,48,6)" stroke="rgb(11,78,11)" stroke-width="1.30"/>
<circle cx="284.71" cy="215.74" r="0.6" fill="rgb(13,89,13)"/>
<circle cx="283.50" cy="215.73" r="0.6" fill="rgb(3,29,3)"/>
<circle cx="282.30" cy="216.21" r="0.6" fill="rgb(13,89,13)"/>
<circle cx="282.50" cy="214.47" r="0.6" fill="rgb(3,29,3)"/>
<circle cx="283.99" cy="213.00" r="0.6" fill="rgb(13,89,13)"/>
<ellipse cx="272.69" cy="220.37" rx="4.26" ry="4.35" fill="rgb(5,45,5)" stroke="rgb(10,74,10)" stroke-width="1.30"/>
<circle cx="272.73" cy="220.35" r="0.6" fill="rgb(12,83,12)"/>
<circle cx="272.44" cy="220.75" r="0.6" fill="rgb(2,27,2)"/>
<circle cx="270.01" cy="220.34" r="0.6" fill="rgb(12,83,12)"/>
<circle cx="272.73" cy="220.26" r="0.6" fill="rgb(2,27,2)"/>
<circle cx="273.73" cy="222.66" r="0.6" fill="rgb(12,83,12)"/>
<ellipse cx="319.56" cy="210.60" rx="4.25" ry="4.01" fill="rgb(8,62,8)" stroke="rgb(15,98,15)" stroke-width="1.30"/>
<circle cx="319.08" cy="210.68" r="0.6" fill="rgb(18,113,18)"/>
<circle cx="320.24" cy="209.60" r="0.6" fill="rgb(4,36,4)"/>
<circle cx="320.87" cy="209.26" r="0.6" fill="rgb(18,113,18)"/>
<circle cx="320.46" cy="211.07" r="0.6" fill="rgb(4,36,4)"/>
<circle cx="320.13" cy="213.29" r="0.6" fill="rgb(18,113,18)"/>
<ellipse cx="321.54" cy="228.91" rx="3.76" ry="3.35" fill="rgb(6,52,6)" stroke="rgb(12,83,12)" stroke-width="1.26"/>
<circle cx="322.03" cy="229.78" r="0.6" fill="rgb(15,95,15)"/>
<circle cx="319.98" cy="229.23" r="0.6" fill="rgb(3,31,3)"/>
<circle cx="320.80" cy="229.54" r="0.6" fill="rgb(15,95,15)"/>
<circle cx="323.14" cy="228.97" r="0.6" fill="rgb(3,31,3)"/>
<circle cx="321.51" cy="228.96" r="0.6" fill="rgb(15,95,15)"/>
<ellipse cx="273.89" cy="237.45" rx="4.07" ry="4.50" fill="rgb(7,55,7)" stroke="rgb(13,88,13)" stroke-width="1.30"/>
<circle cx="274.32" cy="237.58" r="0.6" fill="rgb(16,101,16)"/>
<circle cx="273.49" cy="236.71" r="0.6" fill="rgb(3,32,3)"/>
<circle cx="273.66" cy="238.97" r="0.6" fill="rgb(16,101,16)"/>
<circle cx="273.75" cy="239.19" r="0.6" fill="rgb(3,32,3)"/>
<circle cx="270.99" cy="236.93" r="0.6" fill="rgb(16,101,16)"/>
<ellipse cx="296.13" cy="237.45" rx="4.50" ry="3.72" fill="rgb(6,52,6)" stroke="rgb(12,83,12)" stroke-width="1.30"/>
<circle cx="293.92" cy="236.57" r="0.6" fill="rgb(15,95,15)"/>
<circle cx="297.78" cy="235.74" r="0.6" fill="rgb(3,31,3)"/>
<circle cx="294.82" cy="236.00" r="0.6" fill="rgb(15,95,15)"/>
<circle cx="295.56" cy="238.11" r="0.6" fill="rgb(3,31,3)"/>
<circle cx="296.88" cy="234.87" r="0.6" fill="rgb(15,95,15)"/>
<ellipse cx="269.91" cy="252.30" rx="4.46" ry="4.25" fill="rgb(6,52,6)" stroke="rgb(12,83,12)" stroke-width="1.30"/>
<circle cx="269.13" cy="254.51" r="0.6" fill="rgb(15,95,15)"/>
<circle cx="269.81" cy="250.74" r="0.6" fill="rgb(3,31,3)"/>
<circle cx="269.20" cy="251.49" r="0.6" fill="rgb(15,95,15)"/>
<circle cx="268.73" cy="251.91" r="0.6" fill="rgb(3,31,3)"/>
<circle cx="270.88" cy="252.68" r="0.6" fill="rgb(15,95,15)"/>
<ellipse cx="284.81" cy="256.36" rx="3.96" ry="4.50" fill="rgb(7,55,7)" stroke="rgb(13,88,13)" stroke-width="1.30"/>
<circle cx="283.69" cy="256.50" r="0.6" fill="rgb(16,101,16)"/>
<circle cx="284.84" cy="257.09" r="0.6" fill="rgb(3,32,3)"/>
<circle cx="284.56" cy="256.70" r="0.6" fill="rgb(16,101,16)"/>
<circle cx="287.48" cy="256.49" r="0.6" fill="rgb(3,32,3)"/>
<circle cx="283.50" cy="256.76" r="0.6" fill="rgb(16,101,16)"/>
</g></g>
<clipPath id="c8"><rect x="258.0" y="265.00" width="69.50" height="71.50"/></clipPath>
<g clip-path="url(#c8)"><rect x="258.0" y="265.00" width="69.50" height="71.50" fill="#000"/><rect x="258.8" y="265.00" width="67.90" height="70.70" fill="#030210"/><g filter="url(#bb)">
<circle cx="265.35" cy="280.61" r="4.25" fill="rgb(9,5,114)"/>
<circle cx="282.82" cy="286.65" r="4.25" fill="rgb(11,6,133)"/>
<circle cx="272.69" cy="292.79" r="4.25" fill="rgb(10,6,126)"/>
<circle cx="319.56" cy="283.13" r="4.25" fill="rgb(14,8,157)"/>
<circle cx="321.54" cy="301.25" r="3.82" fill="rgb(12,7,139)"/>
<circle cx="273.89" cy="309.71" r="4.25" fill="rgb(13,7,145)"/>
<circle cx="296.13" cy="309.71" r="4.25" fill="rgb(12,7,139)"/>
<circle cx="269.91" cy="324.42" r="4.25" fill="rgb(12,7,139)"/>
<circle cx="284.81" cy="328.44" r="4.25" fill="rgb(13,7,145)"/>
</g></g>
<line x1="258.00" y1="264.50" x2="327.50" y2="264.50" stroke="#7c8090" stroke-width="1.0"/>
<clipPath id="c9"><rect x="333.5" y="192.3" width="70.50" height="72.20"/></clipPath>
<g clip-path="url(#c9)"><rect x="333.5" y="192.3" width="70.50" height="72.20" fill="#000"/><rect x="334.3" y="193.10000000000002" width="68.90" height="71.40" fill="#020602"/><g filter="url(#bg)">
<ellipse cx="338.33" cy="198.60" rx="3.16" ry="2.99" fill="rgb(8,64,8)" stroke="rgb(16,100,16)" stroke-width="1.20"/>
<circle cx="338.41" cy="198.74" r="0.6" fill="rgb(19,115,19)"/>
<circle cx="338.11" cy="199.29" r="0.6" fill="rgb(4,37,4)"/>
<circle cx="338.15" cy="197.33" r="0.6" fill="rgb(19,115,19)"/>
<circle cx="339.07" cy="198.30" r="0.6" fill="rgb(4,37,4)"/>
<circle cx="339.53" cy="197.96" r="0.6" fill="rgb(19,115,19)"/>
<ellipse cx="352.33" cy="198.60" rx="2.85" ry="2.92" fill="rgb(10,75,10)" stroke="rgb(19,116,19)" stroke-width="1.20"/>
<circle cx="350.31" cy="197.49" r="0.6" fill="rgb(23,134,23)"/>
<circle cx="351.21" cy="200.02" r="0.6" fill="rgb(5,42,5)"/>
<circle cx="350.51" cy="199.49" r="0.6" fill="rgb(23,134,23)"/>
<circle cx="353.36" cy="199.07" r="0.6" fill="rgb(5,42,5)"/>
<circle cx="352.85" cy="198.22" r="0.6" fill="rgb(23,134,23)"/>
<ellipse cx="380.23" cy="198.60" rx="2.96" ry="2.82" fill="rgb(10,73,10)" stroke="rgb(19,114,19)" stroke-width="1.20"/>
<circle cx="380.55" cy="199.14" r="0.6" fill="rgb(23,132,23)"/>
<circle cx="380.09" cy="198.12" r="0.6" fill="rgb(5,41,5)"/>
<circle cx="379.85" cy="198.88" r="0.6" fill="rgb(23,132,23)"/>
<circle cx="378.62" cy="197.39" r="0.6" fill="rgb(5,41,5)"/>
<circle cx="379.96" cy="198.24" r="0.6" fill="rgb(23,132,23)"/>
<ellipse cx="378.82" cy="204.30" rx="3.26" ry="3.40" fill="rgb(11,79,11)" stroke="rgb(20,122,20)" stroke-width="1.20"/>
<circle cx="378.67" cy="204.19" r="0.6" fill="rgb(24,141,24)"/>
<circle cx="379.57" cy="202.39" r="0.6" fill="rgb(5,44,5)"/>
<circle cx="378.65" cy="204.57" r="0.6" fill="rgb(24,141,24)"/>
<circle cx="379.30" cy="205.46" r="0.6" fill="rgb(5,44,5)"/>
<circle cx="379.88" cy="203.24" r="0.6" fill="rgb(24,141,24)"/>
<ellipse cx="393.53" cy="200.74" rx="3.38" ry="2.94" fill="rgb(12,89,12)" stroke="rgb(23,136,23)" stroke-width="1.20"/>
<circle cx="392.71" cy="202.29" r="0.6" fill="rgb(28,158,28)"/>
<circle cx="392.96" cy="199.98" r="0.6" fill="rgb(6,49,6)"/>
<circle cx="393.18" cy="200.03" r="0.6" fill="rgb(28,158,28)"/>
<circle cx="394.43" cy="201.08" r="0.6" fill="rgb(6,49,6)"/>
<circle cx="394.93" cy="201.15" r="0.6" fill="rgb(28,158,28)"/>
<ellipse cx="355.66" cy="209.18" rx="3.01" ry="3.11" fill="rgb(11,82,11)" stroke="rgb(21,126,21)" stroke-width="1.20"/>
<circle cx="355.17" cy="208.83" r="0.6" fill="rgb(26,147,26)"/>
<circle cx="355.63" cy="209.19" r="0.6" fill="rgb(5,46,5)"/>
<circle cx="356.83" cy="208.58" r="0.6" fill="rgb(26,147,26)"/>
<circle cx="355.79" cy="209.17" r="0.6" fill="rgb(5,46,5)"/>
<circle cx="354.38" cy="208.07" r="0.6" fill="rgb(26,147,26)"/>
<ellipse cx="391.91" cy="216.20" rx="3.01" ry="2.86" fill="rgb(10,77,10)" stroke="rgb(20,120,20)" stroke-width="1.20"/>
<circle cx="392.10" cy="216.47" r="0.6" fill="rgb(24,139,24)"/>
<circle cx="391.94" cy="215.99" r="0.6" fill="rgb(5,43,5)"/>
<circle cx="392.30" cy="215.29" r="0.6" fill="rgb(24,139,24)"/>
<circle cx="390.58" cy="215.87" r="0.6" fill="rgb(5,43,5)"/>
<circle cx="390.47" cy="215.68" r="0.6" fill="rgb(24,139,24)"/>
<ellipse cx="393.93" cy="222.60" rx="3.18" ry="3.01" fill="rgb(11,80,11)" stroke="rgb(21,123,21)" stroke-width="1.20"/>
<circle cx="393.89" cy="222.00" r="0.6" fill="rgb(25,143,25)"/>
<circle cx="393.50" cy="220.87" r="0.6" fill="rgb(5,45,5)"/>
<circle cx="394.05" cy="221.89" r="0.6" fill="rgb(25,143,25)"/>
<circle cx="394.25" cy="220.34" r="0.6" fill="rgb(5,45,5)"/>
<circle cx="393.31" cy="222.79" r="0.6" fill="rgb(25,143,25)"/>
<ellipse cx="341.15" cy="222.60" rx="3.13" ry="3.39" fill="rgb(11,82,11)" stroke="rgb(21,126,21)" stroke-width="1.20"/>
<circle cx="341.17" cy="222.62" r="0.6" fill="rgb(26,146,26)"/>
<circle cx="339.64" cy="222.84" r="0.6" fill="rgb(5,46,5)"/>
<circle cx="341.28" cy="221.77" r="0.6" fill="rgb(26,146,26)"/>
<circle cx="341.69" cy="222.57" r="0.6" fill="rgb(5,46,5)"/>
<circle cx="341.16" cy="222.39" r="0.6" fill="rgb(26,146,26)"/>
<ellipse cx="353.64" cy="221.18" rx="2.82" ry="2.89" fill="rgb(8,65,8)" stroke="rgb(16,102,16)" stroke-width="1.20"/>
<circle cx="354.73" cy="221.61" r="0.6" fill="rgb(19,118,19)"/>
<circle cx="353.24" cy="221.04" r="0.6" fill="rgb(4,37,4)"/>
<circle cx="354.44" cy="220.86" r="0.6" fill="rgb(19,118,19)"/>
<circle cx="353.89" cy="221.51" r="0.6" fill="rgb(4,37,4)"/>
<circle cx="353.48" cy="219.03" r="0.6" fill="rgb(19,118,19)"/>
<ellipse cx="360.69" cy="223.32" rx="2.91" ry="2.82" fill="rgb(12,88,12)" stroke="rgb(23,134,23)" stroke-width="1.20"/>
<circle cx="360.79" cy="222.76" r="0.6" fill="rgb(28,156,28)"/>
<circle cx="361.85" cy="223.19" r="0.6" fill="rgb(6,49,6)"/>
<circle cx="360.17" cy="222.71" r="0.6" fill="rgb(28,156,28)"/>
<circle cx="361.03" cy="222.29" r="0.6" fill="rgb(6,49,6)"/>
<circle cx="359.75" cy="225.20" r="0.6" fill="rgb(28,156,28)"/>
<ellipse cx="379.53" cy="224.03" rx="2.87" ry="3.26" fill="rgb(12,85,12)" stroke="rgb(22,130,22)" stroke-width="1.20"/>
<circle cx="380.91" cy="224.63" r="0.6" fill="rgb(27,151,27)"/>
<circle cx="377.88" cy="225.20" r="0.6" fill="rgb(6,47,6)"/>
<circle cx="380.75" cy="224.51" r="0.6" fill="rgb(27,151,27)"/>
<circle cx="377.71" cy="225.18" r="0.6" fill="rgb(6,47,6)"/>
<circle cx="380.91" cy="223.53" r="0.6" fill="rgb(27,151,27)"/>
<ellipse cx="369.05" cy="232.47" rx="2.94" ry="2.96" fill="rgb(12,87,12)" stroke="rgb(23,133,23)" stroke-width="1.20"/>
<circle cx="368.97" cy="233.48" r="0.6" fill="rgb(27,155,27)"/>
<circle cx="369.11" cy="232.94" r="0.6" fill="rgb(6,48,6)"/>
<circle cx="369.14" cy="230.97" r="0.6" fill="rgb(27,155,27)"/>
<circle cx="368.36" cy="234.68" r="0.6" fill="rgb(6,48,6)"/>
<circle cx="369.33" cy="233.77" r="0.6" fill="rgb(27,155,27)"/>
<ellipse cx="385.87" cy="233.18" rx="2.90" ry="3.34" fill="rgb(12,85,12)" stroke="rgb(22,130,22)" stroke-width="1.20"/>
<circle cx="386.30" cy="232.72" r="0.6" fill="rgb(27,151,27)"/>
<circle cx="385.89" cy="231.26" r="0.6" fill="rgb(6,47,6)"/>
<circle cx="385.71" cy="233.94" r="0.6" fill="rgb(27,151,27)"/>
<circle cx="383.80" cy="233.37" r="0.6" fill="rgb(6,47,6)"/>
<circle cx="386.71" cy="234.54" r="0.6" fill="rgb(27,151,27)"/>
<ellipse cx="350.92" cy="237.35" rx="3.18" ry="3.09" fill="rgb(10,74,10)" stroke="rgb(19,115,19)" stroke-width="1.20"/>
<circle cx="349.11" cy="236.36" r="0.6" fill="rgb(23,133,23)"/>
<circle cx="351.44" cy="239.35" r="0.6" fill="rgb(5,42,5)"/>
<circle cx="349.76" cy="238.75" r="0.6" fill="rgb(23,133,23)"/>
<circle cx="351.20" cy="237.03" r="0.6" fill="rgb(5,42,5)"/>
<circle cx="352.45" cy="235.59" r="0.6" fill="rgb(23,133,23)"/>
<ellipse cx="362.71" cy="243.15" rx="2.99" ry="2.82" fill="rgb(10,74,10)" stroke="rgb(19,115,19)" stroke-width="1.20"/>
<circle cx="364.45" cy="244.61" r="0.6" fill="rgb(23,133,23)"/>
<circle cx="364.83" cy="243.27" r="0.6" fill="rgb(5,42,5)"/>
<circle cx="363.71" cy="244.54" r="0.6" fill="rgb(23,133,23)"/>
<circle cx="363.03" cy="243.37" r="0.6" fill="rgb(5,42,5)"/>
<circle cx="362.62" cy="242.95" r="0.6" fill="rgb(23,133,23)"/>
<ellipse cx="373.79" cy="248.64" rx="3.02" ry="3.38" fill="rgb(9,66,9)" stroke="rgb(17,104,17)" stroke-width="1.20"/>
<circle cx="373.35" cy="246.62" r="0.6" fill="rgb(20,120,20)"/>
<circle cx="373.86" cy="248.63" r="0.6" fill="rgb(4,38,4)"/>
<circle cx="373.96" cy="250.48" r="0.6" fill="rgb(20,120,20)"/>
<circle cx="373.75" cy="248.55" r="0.6" fill="rgb(4,38,4)"/>
<circle cx="373.24" cy="248.62" r="0.6" fill="rgb(20,120,20)"/>
<ellipse cx="382.85" cy="246.50" rx="3.07" ry="2.87" fill="rgb(11,81,11)" stroke="rgb(21,124,21)" stroke-width="1.20"/>
<circle cx="385.15" cy="246.79" r="0.6" fill="rgb(25,144,25)"/>
<circle cx="382.02" cy="248.38" r="0.6" fill="rgb(5,45,5)"/>
<circle cx="383.68" cy="247.28" r="0.6" fill="rgb(25,144,25)"/>
<circle cx="383.51" cy="247.26" r="0.6" fill="rgb(5,45,5)"/>
<circle cx="383.54" cy="247.95" r="0.6" fill="rgb(25,144,25)"/>
<ellipse cx="389.30" cy="244.37" rx="2.90" ry="3.26" fill="rgb(8,65,8)" stroke="rgb(16,102,16)" stroke-width="1.20"/>
<circle cx="389.03" cy="244.36" r="0.6" fill="rgb(20,118,20)"/>
<circle cx="388.59" cy="245.29" r="0.6" fill="rgb(4,37,4)"/>
<circle cx="390.01" cy="243.97" r="0.6" fill="rgb(20,118,20)"/>
<circle cx="389.79" cy="246.57" r="0.6" fill="rgb(4,37,4)"/>
<circle cx="390.56" cy="243.22" r="0.6" fill="rgb(20,118,20)"/>
<ellipse cx="400.98" cy="242.33" rx="2.97" ry="2.91" fill="rgb(8,65,8)" stroke="rgb(16,103,16)" stroke-width="1.20"/>
<circle cx="400.96" cy="242.49" r="0.6" fill="rgb(20,118,20)"/>
<circle cx="402.12" cy="242.65" r="0.6" fill="rgb(4,37,4)"/>
<circle cx="399.89" cy="243.04" r="0.6" fill="rgb(20,118,20)"/>
<circle cx="400.96" cy="242.35" r="0.6" fill="rgb(4,37,4)"/>
<circle cx="400.40" cy="240.92" r="0.6" fill="rgb(20,118,20)"/>
<ellipse cx="378.12" cy="254.33" rx="3.14" ry="3.15" fill="rgb(9,69,9)" stroke="rgb(17,108,17)" stroke-width="1.20"/>
<circle cx="377.27" cy="252.20" r="0.6" fill="rgb(21,125,21)"/>
<circle cx="379.30" cy="253.14" r="0.6" fill="rgb(4,39,4)"/>
<circle cx="377.52" cy="254.77" r="0.6" fill="rgb(21,125,21)"/>
<circle cx="376.13" cy="255.44" r="0.6" fill="rgb(4,39,4)"/>
<circle cx="377.43" cy="254.92" r="0.6" fill="rgb(21,125,21)"/>
<ellipse cx="392.92" cy="259.92" rx="3.06" ry="2.89" fill="rgb(9,68,9)" stroke="rgb(17,106,17)" stroke-width="1.20"/>
<circle cx="392.93" cy="259.92" r="0.6" fill="rgb(21,123,21)"/>
<circle cx="391.23" cy="258.57" r="0.6" fill="rgb(4,39,4)"/>
<circle cx="392.88" cy="261.35" r="0.6" fill="rgb(21,123,21)"/>
<circle cx="392.52" cy="260.32" r="0.6" fill="rgb(4,39,4)"/>
<circle cx="393.01" cy="260.18" r="0.6" fill="rgb(21,123,21)"/>
<ellipse cx="354.65" cy="223.82" rx="3.33" ry="3.29" fill="rgb(10,73,10)" stroke="rgb(18,113,18)" stroke-width="1.20"/>
<circle cx="354.75" cy="223.76" r="0.6" fill="rgb(22,131,22)"/>
<circle cx="354.39" cy="223.11" r="0.6" fill="rgb(5,41,5)"/>
<circle cx="353.87" cy="222.80" r="0.6" fill="rgb(22,131,22)"/>
<circle cx="353.74" cy="225.90" r="0.6" fill="rgb(5,41,5)"/>
<circle cx="356.39" cy="223.83" r="0.6" fill="rgb(22,131,22)"/>
</g></g>
<clipPath id="c10"><rect x="333.5" y="265.00" width="70.50" height="71.50"/></clipPath>
<g clip-path="url(#c10)"><rect x="333.5" y="265.00" width="70.50" height="71.50" fill="#000"/><rect x="334.3" y="265.00" width="68.90" height="70.70" fill="#050037"/><g filter="url(#bb)">
<circle cx="338.33" cy="271.24" r="3.04" fill="rgb(16,9,169)"/>
<circle cx="352.33" cy="271.24" r="3.04" fill="rgb(15,9,167)"/>
<circle cx="380.23" cy="271.24" r="3.04" fill="rgb(16,10,173)"/>
<circle cx="378.82" cy="276.88" r="3.04" fill="rgb(16,9,171)"/>
<circle cx="393.53" cy="273.36" r="3.04" fill="rgb(17,10,182)"/>
<circle cx="355.66" cy="281.72" r="3.04" fill="rgb(16,9,168)"/>
<circle cx="391.91" cy="288.67" r="3.04" fill="rgb(20,12,204)"/>
<circle cx="393.93" cy="295.01" r="3.04" fill="rgb(19,11,193)"/>
<circle cx="341.15" cy="295.01" r="3.04" fill="rgb(16,10,173)"/>
<circle cx="353.64" cy="293.60" r="3.04" fill="rgb(17,10,178)"/>
<circle cx="360.69" cy="295.71" r="3.04" fill="rgb(17,10,182)"/>
<circle cx="379.53" cy="296.42" r="3.04" fill="rgb(17,10,182)"/>
<circle cx="369.05" cy="304.78" r="3.04" fill="rgb(16,9,172)"/>
<circle cx="385.87" cy="305.48" r="3.04" fill="rgb(20,12,203)"/>
<circle cx="350.92" cy="309.61" r="3.04" fill="rgb(21,12,209)"/>
<circle cx="362.71" cy="315.35" r="3.04" fill="rgb(18,11,187)"/>
<circle cx="373.79" cy="320.79" r="3.04" fill="rgb(18,11,188)"/>
<circle cx="382.85" cy="318.68" r="3.04" fill="rgb(16,9,171)"/>
<circle cx="389.30" cy="316.56" r="3.04" fill="rgb(16,9,171)"/>
<circle cx="400.98" cy="314.55" r="3.04" fill="rgb(17,10,182)"/>
<circle cx="378.12" cy="326.43" r="3.04" fill="rgb(17,10,178)"/>
<circle cx="392.92" cy="331.97" r="3.04" fill="rgb(20,12,202)"/>
<circle cx="354.65" cy="296.22" r="3.04" fill="rgb(16,10,174)"/>
</g></g>
<line x1="333.50" y1="264.50" x2="404.00" y2="264.50" stroke="#7c8090" stroke-width="1.0"/>
<clipPath id="c11"><rect x="410.0" y="192.3" width="69.00" height="72.20"/></clipPath>
<g clip-path="url(#c11)"><rect x="410.0" y="192.3" width="69.00" height="72.20" fill="#000"/><rect x="410.8" y="193.10000000000002" width="67.40" height="71.40" fill="#020602"/><g filter="url(#bg)">
<ellipse cx="440.26" cy="195.76" rx="3.51" ry="3.29" fill="rgb(3,32,3)" stroke="rgb(6,57,6)" stroke-width="1.22"/>
<circle cx="438.21" cy="194.42" r="0.6" fill="rgb(8,63,8)"/>
<circle cx="440.41" cy="197.30" r="0.6" fill="rgb(1,21,1)"/>
<circle cx="440.22" cy="194.83" r="0.6" fill="rgb(8,63,8)"/>
<circle cx="440.03" cy="194.82" r="0.6" fill="rgb(1,21,1)"/>
<circle cx="438.77" cy="195.51" r="0.6" fill="rgb(8,63,8)"/>
<ellipse cx="465.20" cy="195.76" rx="3.40" ry="3.16" fill="rgb(6,50,6)" stroke="rgb(12,81,12)" stroke-width="1.22"/>
<circle cx="464.28" cy="194.79" r="0.6" fill="rgb(14,92,14)"/>
<circle cx="465.45" cy="197.24" r="0.6" fill="rgb(3,30,3)"/>
<circle cx="464.99" cy="197.98" r="0.6" fill="rgb(14,92,14)"/>
<circle cx="463.45" cy="196.05" r="0.6" fill="rgb(3,30,3)"/>
<circle cx="464.04" cy="195.60" r="0.6" fill="rgb(14,92,14)"/>
<ellipse cx="424.79" cy="205.52" rx="3.10" ry="3.05" fill="rgb(5,42,5)" stroke="rgb(9,70,9)" stroke-width="1.22"/>
<circle cx="425.95" cy="204.95" r="0.6" fill="rgb(11,79,11)"/>
<circle cx="423.50" cy="205.33" r="0.6" fill="rgb(2,26,2)"/>
<circle cx="425.01" cy="204.98" r="0.6" fill="rgb(11,79,11)"/>
<circle cx="425.73" cy="207.31" r="0.6" fill="rgb(2,26,2)"/>
<circle cx="423.26" cy="205.91" r="0.6" fill="rgb(11,79,11)"/>
<ellipse cx="440.26" cy="211.62" rx="3.49" ry="3.54" fill="rgb(4,35,4)" stroke="rgb(7,60,7)" stroke-width="1.22"/>
<circle cx="440.33" cy="211.54" r="0.6" fill="rgb(9,67,9)"/>
<circle cx="438.76" cy="213.01" r="0.6" fill="rgb(2,22,2)"/>
<circle cx="440.39" cy="211.35" r="0.6" fill="rgb(9,67,9)"/>
<circle cx="440.61" cy="212.13" r="0.6" fill="rgb(2,22,2)"/>
<circle cx="440.96" cy="212.15" r="0.6" fill="rgb(9,67,9)"/>
<ellipse cx="455.74" cy="211.01" rx="3.48" ry="3.29" fill="rgb(5,42,5)" stroke="rgb(9,70,9)" stroke-width="1.22"/>
<circle cx="455.53" cy="211.07" r="0.6" fill="rgb(11,79,11)"/>
<circle cx="453.79" cy="212.51" r="0.6" fill="rgb(2,26,2)"/>
<circle cx="455.36" cy="209.97" r="0.6" fill="rgb(11,79,11)"/>
<circle cx="453.79" cy="211.28" r="0.6" fill="rgb(2,26,2)"/>
<circle cx="455.76" cy="210.64" r="0.6" fill="rgb(11,79,11)"/>
<ellipse cx="474.07" cy="213.65" rx="3.65" ry="3.43" fill="rgb(8,62,8)" stroke="rgb(15,98,15)" stroke-width="1.24"/>
<circle cx="473.45" cy="213.57" r="0.6" fill="rgb(18,113,18)"/>
<circle cx="473.45" cy="214.31" r="0.6" fill="rgb(4,36,4)"/>
<circle cx="474.04" cy="213.69" r="0.6" fill="rgb(18,113,18)"/>
<circle cx="474.53" cy="215.09" r="0.6" fill="rgb(4,36,4)"/>
<circle cx="474.51" cy="213.82" r="0.6" fill="rgb(18,113,18)"/>
<ellipse cx="414.73" cy="211.01" rx="3.42" ry="3.13" fill="rgb(5,42,5)" stroke="rgb(9,70,9)" stroke-width="1.22"/>
<circle cx="414.46" cy="211.54" r="0.6" fill="rgb(11,79,11)"/>
<circle cx="414.84" cy="210.82" r="0.6" fill="rgb(2,26,2)"/>
<circle cx="413.35" cy="209.42" r="0.6" fill="rgb(11,79,11)"/>
<circle cx="415.04" cy="212.00" r="0.6" fill="rgb(2,26,2)"/>
<circle cx="415.13" cy="209.54" r="0.6" fill="rgb(11,79,11)"/>
<ellipse cx="425.48" cy="217.32" rx="3.20" ry="2.98" fill="rgb(6,50,6)" stroke="rgb(12,82,12)" stroke-width="1.22"/>
<circle cx="424.63" cy="217.63" r="0.6" fill="rgb(14,93,14)"/>
<circle cx="425.31" cy="216.61" r="0.6" fill="rgb(3,30,3)"/>
<circle cx="424.14" cy="218.19" r="0.6" fill="rgb(14,93,14)"/>
<circle cx="425.80" cy="216.51" r="0.6" fill="rgb(3,30,3)"/>
<circle cx="424.41" cy="218.25" r="0.6" fill="rgb(14,93,14)"/>
<ellipse cx="427.55" cy="221.49" rx="3.74" ry="3.23" fill="rgb(7,54,7)" stroke="rgb(13,88,13)" stroke-width="1.24"/>
<circle cx="429.35" cy="221.16" r="0.6" fill="rgb(16,100,16)"/>
<circle cx="426.35" cy="222.72" r="0.6" fill="rgb(3,32,3)"/>
<circle cx="427.46" cy="221.65" r="0.6" fill="rgb(16,100,16)"/>
<circle cx="427.58" cy="220.51" r="0.6" fill="rgb(3,32,3)"/>
<circle cx="426.28" cy="221.28" r="0.6" fill="rgb(16,100,16)"/>
<ellipse cx="446.37" cy="229.82" rx="3.54" ry="3.45" fill="rgb(5,45,5)" stroke="rgb(10,74,10)" stroke-width="1.22"/>
<circle cx="447.81" cy="230.06" r="0.6" fill="rgb(12,84,12)"/>
<circle cx="445.27" cy="230.09" r="0.6" fill="rgb(2,27,2)"/>
<circle cx="446.92" cy="228.96" r="0.6" fill="rgb(12,84,12)"/>
<circle cx="444.21" cy="230.19" r="0.6" fill="rgb(2,27,2)"/>
<circle cx="445.25" cy="230.27" r="0.6" fill="rgb(12,84,12)"/>
<ellipse cx="461.85" cy="229.11" rx="3.29" ry="3.49" fill="rgb(4,37,4)" stroke="rgb(8,63,8)" stroke-width="1.22"/>
<circle cx="460.97" cy="227.51" r="0.6" fill="rgb(9,71,9)"/>
<circle cx="461.77" cy="229.17" r="0.6" fill="rgb(2,23,2)"/>
<circle cx="461.27" cy="227.88" r="0.6" fill="rgb(9,71,9)"/>
<circle cx="462.08" cy="227.23" r="0.6" fill="rgb(2,23,2)"/>
<circle cx="462.25" cy="229.48" r="0.6" fill="rgb(9,71,9)"/>
<ellipse cx="420.05" cy="234.70" rx="3.00" ry="3.49" fill="rgb(4,39,4)" stroke="rgb(8,66,8)" stroke-width="1.22"/>
<circle cx="420.23" cy="234.83" r="0.6" fill="rgb(10,74,10)"/>
<circle cx="420.08" cy="233.32" r="0.6" fill="rgb(2,24,2)"/>
<circle cx="421.63" cy="235.27" r="0.6" fill="rgb(10,74,10)"/>
<circle cx="419.77" cy="233.55" r="0.6" fill="rgb(2,24,2)"/>
<circle cx="421.65" cy="235.28" r="0.6" fill="rgb(10,74,10)"/>
<ellipse cx="448.44" cy="238.06" rx="3.23" ry="3.34" fill="rgb(4,35,4)" stroke="rgb(7,60,7)" stroke-width="1.22"/>
<circle cx="450.45" cy="238.04" r="0.6" fill="rgb(9,68,9)"/>
<circle cx="448.69" cy="237.80" r="0.6" fill="rgb(2,22,2)"/>
<circle cx="447.80" cy="239.16" r="0.6" fill="rgb(9,68,9)"/>
<circle cx="450.87" cy="238.15" r="0.6" fill="rgb(2,22,2)"/>
<circle cx="448.34" cy="238.70" r="0.6" fill="rgb(9,68,9)"/>
<ellipse cx="438.29" cy="239.48" rx="3.16" ry="3.12" fill="rgb(5,46,5)" stroke="rgb(11,76,11)" stroke-width="1.22"/>
<circle cx="439.15" cy="238.42" r="0.6" fill="rgb(13,87,13)"/>
<circle cx="437.26" cy="239.41" r="0.6" fill="rgb(2,28,2)"/>
<circle cx="439.00" cy="239.72" r="0.6" fill="rgb(13,87,13)"/>
<circle cx="439.61" cy="238.02" r="0.6" fill="rgb(2,28,2)"/>
<circle cx="438.68" cy="238.99" r="0.6" fill="rgb(13,87,13)"/>
<ellipse cx="466.58" cy="238.87" rx="3.08" ry="2.99" fill="rgb(5,42,5)" stroke="rgb(9,70,9)" stroke-width="1.22"/>
<circle cx="465.68" cy="238.66" r="0.6" fill="rgb(11,79,11)"/>
<circle cx="465.41" cy="239.14" r="0.6" fill="rgb(2,26,2)"/>
<circle cx="465.80" cy="238.42" r="0.6" fill="rgb(11,79,11)"/>
<circle cx="466.74" cy="238.41" r="0.6" fill="rgb(2,26,2)"/>
<circle cx="467.78" cy="238.21" r="0.6" fill="rgb(11,79,11)"/>
<ellipse cx="430.90" cy="241.62" rx="2.99" ry="3.16" fill="rgb(5,47,5)" stroke="rgb(11,76,11)" stroke-width="1.22"/>
<circle cx="429.91" cy="241.41" r="0.6" fill="rgb(13,87,13)"/>
<circle cx="430.17" cy="241.30" r="0.6" fill="rgb(2,28,2)"/>
<circle cx="430.61" cy="243.56" r="0.6" fill="rgb(13,87,13)"/>
<circle cx="430.45" cy="243.31" r="0.6" fill="rgb(2,28,2)"/>
<circle cx="431.37" cy="240.24" r="0.6" fill="rgb(13,87,13)"/>
<ellipse cx="420.05" cy="243.65" rx="3.25" ry="3.57" fill="rgb(4,38,4)" stroke="rgb(8,65,8)" stroke-width="1.22"/>
<circle cx="418.02" cy="244.39" r="0.6" fill="rgb(10,73,10)"/>
<circle cx="421.05" cy="244.03" r="0.6" fill="rgb(2,24,2)"/>
<circle cx="419.98" cy="243.56" r="0.6" fill="rgb(10,73,10)"/>
<circle cx="420.17" cy="243.52" r="0.6" fill="rgb(2,24,2)"/>
<circle cx="419.69" cy="243.40" r="0.6" fill="rgb(10,73,10)"/>
<ellipse cx="462.54" cy="246.50" rx="3.56" ry="3.32" fill="rgb(4,36,4)" stroke="rgb(8,62,8)" stroke-width="1.22"/>
<circle cx="462.92" cy="245.34" r="0.6" fill="rgb(9,69,9)"/>
<circle cx="461.77" cy="245.03" r="0.6" fill="rgb(2,23,2)"/>
<circle cx="462.39" cy="247.00" r="0.6" fill="rgb(9,69,9)"/>
<circle cx="462.73" cy="246.20" r="0.6" fill="rgb(2,23,2)"/>
<circle cx="462.98" cy="246.25" r="0.6" fill="rgb(9,69,9)"/>
<ellipse cx="438.29" cy="250.67" rx="3.02" ry="3.01" fill="rgb(6,47,6)" stroke="rgb(11,77,11)" stroke-width="1.22"/>
<circle cx="438.79" cy="248.38" r="0.6" fill="rgb(13,88,13)"/>
<circle cx="436.90" cy="251.50" r="0.6" fill="rgb(3,28,3)"/>
<circle cx="438.18" cy="252.90" r="0.6" fill="rgb(13,88,13)"/>
<circle cx="438.14" cy="250.32" r="0.6" fill="rgb(3,28,3)"/>
<circle cx="439.89" cy="251.27" r="0.6" fill="rgb(13,88,13)"/>
<ellipse cx="453.77" cy="251.99" rx="2.98" ry="3.50" fill="rgb(6,50,6)" stroke="rgb(12,82,12)" stroke-width="1.22"/>
<circle cx="453.61" cy="252.54" r="0.6" fill="rgb(14,93,14)"/>
<circle cx="453.08" cy="251.61" r="0.6" fill="rgb(3,30,3)"/>
<circle cx="453.41" cy="251.85" r="0.6" fill="rgb(14,93,14)"/>
<circle cx="454.44" cy="251.57" r="0.6" fill="rgb(3,30,3)"/>
<circle cx="453.97" cy="251.68" r="0.6" fill="rgb(14,93,14)"/>
<ellipse cx="414.73" cy="254.84" rx="3.48" ry="3.59" fill="rgb(6,48,6)" stroke="rgb(11,78,11)" stroke-width="1.22"/>
<circle cx="414.67" cy="254.89" r="0.6" fill="rgb(13,89,13)"/>
<circle cx="413.58" cy="255.92" r="0.6" fill="rgb(3,29,3)"/>
<circle cx="414.96" cy="256.16" r="0.6" fill="rgb(13,89,13)"/>
<circle cx="415.68" cy="255.47" r="0.6" fill="rgb(3,29,3)"/>
<circle cx="414.59" cy="253.79" r="0.6" fill="rgb(13,89,13)"/>
<ellipse cx="428.73" cy="256.87" rx="3.40" ry="3.03" fill="rgb(6,47,6)" stroke="rgb(11,77,11)" stroke-width="1.22"/>
<circle cx="428.87" cy="256.61" r="0.6" fill="rgb(13,88,13)"/>
<circle cx="430.90" cy="255.74" r="0.6" fill="rgb(3,28,3)"/>
<circle cx="429.93" cy="256.39" r="0.6" fill="rgb(13,88,13)"/>
<circle cx="428.51" cy="257.70" r="0.6" fill="rgb(3,28,3)"/>
<circle cx="428.73" cy="255.65" r="0.6" fill="rgb(13,88,13)"/>
<ellipse cx="446.37" cy="261.75" rx="3.56" ry="3.01" fill="rgb(6,47,6)" stroke="rgb(11,77,11)" stroke-width="1.22"/>
<circle cx="444.26" cy="261.96" r="0.6" fill="rgb(13,88,13)"/>
<circle cx="445.29" cy="260.99" r="0.6" fill="rgb(3,28,3)"/>
<circle cx="446.66" cy="261.94" r="0.6" fill="rgb(13,88,13)"/>
<circle cx="446.08" cy="263.93" r="0.6" fill="rgb(3,28,3)"/>
<circle cx="446.69" cy="261.29" r="0.6" fill="rgb(13,88,13)"/>
<ellipse cx="476.04" cy="202.06" rx="3.56" ry="2.97" fill="rgb(5,46,5)" stroke="rgb(10,75,10)" stroke-width="1.22"/>
<circle cx="474.11" cy="200.68" r="0.6" fill="rgb(13,86,13)"/>
<circle cx="474.75" cy="203.99" r="0.6" fill="rgb(2,28,2)"/>
<circle cx="475.97" cy="201.96" r="0.6" fill="rgb(13,86,13)"/>
<circle cx="475.49" cy="203.02" r="0.6" fill="rgb(2,28,2)"/>
<circle cx="476.07" cy="203.89" r="0.6" fill="rgb(13,86,13)"/>
</g></g>
<clipPath id="c12"><rect x="410.0" y="265.00" width="69.00" height="71.50"/></clipPath>
<g clip-path="url(#c12)"><rect x="410.0" y="265.00" width="69.00" height="71.50" fill="#000"/><rect x="410.8" y="265.00" width="67.40" height="70.70" fill="#02020a"/><g filter="url(#bb)">
<circle cx="440.26" cy="267.01" r="2.98" fill="rgb(10,6,124)"/>
<circle cx="425.48" cy="277.39" r="3.40" fill="rgb(13,8,152)"/>
<circle cx="440.95" cy="282.93" r="3.40" fill="rgb(13,7,145)"/>
<circle cx="455.74" cy="281.52" r="3.57" fill="rgb(14,8,159)"/>
<circle cx="413.94" cy="280.81" r="2.98" fill="rgb(8,5,110)"/>
<circle cx="426.76" cy="289.77" r="3.57" fill="rgb(12,7,138)"/>
<circle cx="474.66" cy="284.94" r="3.40" fill="rgb(7,4,103)"/>
<circle cx="420.05" cy="304.88" r="3.40" fill="rgb(11,6,131)"/>
<circle cx="446.37" cy="300.05" r="3.40" fill="rgb(13,7,145)"/>
<circle cx="462.54" cy="299.44" r="3.40" fill="rgb(13,7,145)"/>
<circle cx="449.03" cy="309.01" r="3.40" fill="rgb(13,8,152)"/>
<circle cx="438.98" cy="309.71" r="3.23" fill="rgb(13,7,145)"/>
<circle cx="430.90" cy="311.73" r="3.23" fill="rgb(12,7,138)"/>
<circle cx="467.17" cy="309.01" r="3.40" fill="rgb(12,7,138)"/>
<circle cx="420.05" cy="313.84" r="3.40" fill="rgb(13,7,145)"/>
<circle cx="462.54" cy="317.27" r="3.40" fill="rgb(12,7,138)"/>
<circle cx="438.98" cy="320.69" r="3.57" fill="rgb(13,8,152)"/>
<circle cx="453.08" cy="322.80" r="3.40" fill="rgb(12,7,138)"/>
<circle cx="413.94" cy="324.11" r="2.98" fill="rgb(8,5,110)"/>
<circle cx="429.52" cy="326.93" r="3.40" fill="rgb(13,8,152)"/>
<circle cx="446.37" cy="332.37" r="3.40" fill="rgb(13,7,145)"/>
</g></g>
<line x1="410.00" y1="264.50" x2="479.00" y2="264.50" stroke="#7c8090" stroke-width="1.0"/>
<clipPath id="c13"><rect x="258.0" y="342.7" width="69.50" height="71.80"/></clipPath>
<g clip-path="url(#c13)"><rect x="258.0" y="342.7" width="69.50" height="71.80" fill="#000"/><rect x="258.8" y="343.5" width="67.90" height="71.00" fill="#030403"/><g filter="url(#bg)">
<ellipse cx="273.39" cy="372.63" rx="3.84" ry="4.34" fill="rgb(16,110,16)" stroke="rgb(30,165,30)" stroke-width="1.30"/>
<circle cx="273.33" cy="372.84" r="0.6" fill="rgb(30,165,30)"/>
<circle cx="273.12" cy="372.53" r="0.6" fill="rgb(8,60,8)"/>
<circle cx="271.09" cy="371.86" r="0.6" fill="rgb(30,165,30)"/>
<circle cx="272.22" cy="371.83" r="0.6" fill="rgb(8,60,8)"/>
<circle cx="274.93" cy="372.97" r="0.6" fill="rgb(30,165,30)"/>
<ellipse cx="263.96" cy="382.85" rx="3.77" ry="4.22" fill="rgb(7,55,7)" stroke="rgb(13,88,13)" stroke-width="1.30"/>
<circle cx="265.16" cy="384.16" r="0.6" fill="rgb(16,100,16)"/>
<circle cx="263.26" cy="383.77" r="0.6" fill="rgb(3,32,3)"/>
<circle cx="263.70" cy="382.42" r="0.6" fill="rgb(16,100,16)"/>
<circle cx="265.36" cy="385.38" r="0.6" fill="rgb(3,32,3)"/>
<circle cx="262.69" cy="385.10" r="0.6" fill="rgb(16,100,16)"/>
<ellipse cx="295.43" cy="393.06" rx="4.41" ry="4.08" fill="rgb(16,110,16)" stroke="rgb(30,165,30)" stroke-width="1.30"/>
<circle cx="295.60" cy="393.29" r="0.6" fill="rgb(30,165,30)"/>
<circle cx="295.69" cy="392.81" r="0.6" fill="rgb(8,60,8)"/>
<circle cx="293.78" cy="393.10" r="0.6" fill="rgb(30,165,30)"/>
<circle cx="296.49" cy="394.03" r="0.6" fill="rgb(8,60,8)"/>
<circle cx="296.28" cy="394.47" r="0.6" fill="rgb(30,165,30)"/>
<ellipse cx="306.65" cy="403.38" rx="4.93" ry="4.79" fill="rgb(5,45,5)" stroke="rgb(10,74,10)" stroke-width="1.38"/>
<circle cx="307.13" cy="404.79" r="0.6" fill="rgb(12,83,12)"/>
<circle cx="306.79" cy="403.83" r="0.6" fill="rgb(2,27,2)"/>
<circle cx="306.85" cy="406.59" r="0.6" fill="rgb(12,83,12)"/>
<circle cx="303.36" cy="403.34" r="0.6" fill="rgb(2,27,2)"/>
<circle cx="310.12" cy="403.71" r="0.6" fill="rgb(12,83,12)"/>
<ellipse cx="272.69" cy="350.79" rx="3.68" ry="3.90" fill="rgb(3,30,3)" stroke="rgb(6,53,6)" stroke-width="1.26"/>
<circle cx="270.97" cy="349.97" r="0.6" fill="rgb(7,58,7)"/>
<circle cx="272.96" cy="352.85" r="0.6" fill="rgb(1,20,1)"/>
<circle cx="273.11" cy="351.39" r="0.6" fill="rgb(7,58,7)"/>
<circle cx="273.76" cy="351.00" r="0.6" fill="rgb(1,20,1)"/>
<circle cx="271.89" cy="350.70" r="0.6" fill="rgb(7,58,7)"/>
<ellipse cx="318.56" cy="413.99" rx="2.65" ry="2.26" fill="rgb(11,80,11)" stroke="rgb(21,123,21)" stroke-width="1.14"/>
<circle cx="318.18" cy="413.79" r="0.6" fill="rgb(25,142,25)"/>
<circle cx="317.37" cy="413.18" r="0.6" fill="rgb(5,45,5)"/>
<circle cx="318.54" cy="413.88" r="0.6" fill="rgb(25,142,25)"/>
<circle cx="318.59" cy="415.10" r="0.6" fill="rgb(5,45,5)"/>
<circle cx="318.64" cy="413.99" r="0.6" fill="rgb(25,142,25)"/>
</g></g>
<clipPath id="c14"><rect x="258.0" y="415.00" width="69.50" height="70.40"/></clipPath>
<g clip-path="url(#c14)"><rect x="258.0" y="415.00" width="69.50" height="70.40" fill="#000"/><rect x="258.8" y="415.00" width="67.90" height="69.60" fill="#050219"/><g filter="url(#bb)">
<circle cx="271.40" cy="423.63" r="4.05" fill="rgb(14,8,154)"/>
<circle cx="273.39" cy="443.06" r="4.95" fill="rgb(23,14,230)"/>
<circle cx="263.96" cy="453.67" r="4.50" fill="rgb(22,13,220)"/>
<circle cx="295.43" cy="464.38" r="4.68" fill="rgb(23,14,230)"/>
<circle cx="306.65" cy="473.70" r="4.68" fill="rgb(21,12,211)"/>
</g></g>
<line x1="258.00" y1="414.50" x2="327.50" y2="414.50" stroke="#7c8090" stroke-width="1.0"/>
<clipPath id="c15"><rect x="333.5" y="342.7" width="70.50" height="71.80"/></clipPath>
<g clip-path="url(#c15)"><rect x="333.5" y="342.7" width="70.50" height="71.80" fill="#000"/><rect x="334.3" y="343.5" width="68.90" height="71.00" fill="#0a0606"/><g filter="url(#bg)">
<ellipse cx="375.30" cy="345.53" rx="3.19" ry="3.24" fill="rgb(12,86,12)" stroke="rgb(23,132,23)" stroke-width="1.20"/>
<circle cx="375.61" cy="344.80" r="0.6" fill="rgb(27,154,27)"/>
<circle cx="375.70" cy="344.53" r="0.6" fill="rgb(6,48,6)"/>
<circle cx="375.32" cy="345.52" r="0.6" fill="rgb(27,154,27)"/>
<circle cx="376.19" cy="345.18" r="0.6" fill="rgb(6,48,6)"/>
<circle cx="375.12" cy="345.64" r="0.6" fill="rgb(27,154,27)"/>
<ellipse cx="394.94" cy="346.24" rx="2.96" ry="3.26" fill="rgb(13,95,13)" stroke="rgb(25,144,25)" stroke-width="1.20"/>
<circle cx="394.78" cy="345.92" r="0.6" fill="rgb(30,165,30)"/>
<circle cx="394.75" cy="346.51" r="0.6" fill="rgb(6,52,6)"/>
<circle cx="395.10" cy="346.73" r="0.6" fill="rgb(30,165,30)"/>
<circle cx="393.82" cy="348.23" r="0.6" fill="rgb(6,52,6)"/>
<circle cx="396.79" cy="346.21" r="0.6" fill="rgb(30,165,30)"/>
<ellipse cx="351.63" cy="360.19" rx="3.10" ry="3.11" fill="rgb(12,90,12)" stroke="rgb(24,137,24)" stroke-width="1.20"/>
<circle cx="352.02" cy="358.11" r="0.6" fill="rgb(29,160,29)"/>
<circle cx="351.64" cy="358.71" r="0.6" fill="rgb(6,50,6)"/>
<circle cx="352.09" cy="361.58" r="0.6" fill="rgb(29,160,29)"/>
<circle cx="352.67" cy="358.68" r="0.6" fill="rgb(6,50,6)"/>
<circle cx="353.03" cy="361.11" r="0.6" fill="rgb(29,160,29)"/>
<ellipse cx="374.69" cy="359.49" rx="3.02" ry="2.91" fill="rgb(11,80,11)" stroke="rgb(21,124,21)" stroke-width="1.20"/>
<circle cx="376.23" cy="359.15" r="0.6" fill="rgb(25,144,25)"/>
<circle cx="374.68" cy="359.17" r="0.6" fill="rgb(5,45,5)"/>
<circle cx="375.73" cy="357.56" r="0.6" fill="rgb(25,144,25)"/>
<circle cx="376.13" cy="358.51" r="0.6" fill="rgb(5,45,5)"/>
<circle cx="375.62" cy="357.86" r="0.6" fill="rgb(25,144,25)"/>
<ellipse cx="371.77" cy="365.76" rx="3.17" ry="3.08" fill="rgb(11,80,11)" stroke="rgb(21,124,21)" stroke-width="1.20"/>
<circle cx="372.61" cy="364.12" r="0.6" fill="rgb(25,144,25)"/>
<circle cx="372.25" cy="365.25" r="0.6" fill="rgb(5,45,5)"/>
<circle cx="372.98" cy="365.45" r="0.6" fill="rgb(25,144,25)"/>
<circle cx="372.03" cy="365.67" r="0.6" fill="rgb(5,45,5)"/>
<circle cx="373.58" cy="365.39" r="0.6" fill="rgb(25,144,25)"/>
<ellipse cx="379.53" cy="369.30" rx="2.96" ry="3.33" fill="rgb(12,88,12)" stroke="rgb(23,134,23)" stroke-width="1.20"/>
<circle cx="379.58" cy="369.76" r="0.6" fill="rgb(28,156,28)"/>
<circle cx="378.99" cy="369.44" r="0.6" fill="rgb(6,49,6)"/>
<circle cx="377.41" cy="369.39" r="0.6" fill="rgb(28,156,28)"/>
<circle cx="378.87" cy="367.77" r="0.6" fill="rgb(6,49,6)"/>
<circle cx="378.10" cy="370.45" r="0.6" fill="rgb(28,156,28)"/>
<ellipse cx="401.88" cy="359.49" rx="3.30" ry="3.23" fill="rgb(12,87,12)" stroke="rgb(23,133,23)" stroke-width="1.20"/>
<circle cx="403.69" cy="358.80" r="0.6" fill="rgb(27,155,27)"/>
<circle cx="401.72" cy="359.60" r="0.6" fill="rgb(6,48,6)"/>
<circle cx="400.76" cy="357.89" r="0.6" fill="rgb(27,155,27)"/>
<circle cx="401.14" cy="360.66" r="0.6" fill="rgb(6,48,6)"/>
<circle cx="402.84" cy="357.90" r="0.6" fill="rgb(27,155,27)"/>
<ellipse cx="337.73" cy="374.25" rx="2.81" ry="3.11" fill="rgb(14,100,14)" stroke="rgb(27,152,27)" stroke-width="1.20"/>
<circle cx="337.99" cy="374.28" r="0.6" fill="rgb(30,165,30)"/>
<circle cx="338.10" cy="373.35" r="0.6" fill="rgb(7,55,7)"/>
<circle cx="336.88" cy="373.60" r="0.6" fill="rgb(30,165,30)"/>
<circle cx="337.47" cy="374.68" r="0.6" fill="rgb(7,55,7)"/>
<circle cx="336.53" cy="375.82" r="0.6" fill="rgb(30,165,30)"/>
<ellipse cx="360.69" cy="373.54" rx="3.19" ry="2.99" fill="rgb(15,108,15)" stroke="rgb(29,163,29)" stroke-width="1.20"/>
<circle cx="361.23" cy="373.88" r="0.6" fill="rgb(30,165,30)"/>
<circle cx="360.38" cy="372.56" r="0.6" fill="rgb(7,59,7)"/>
<circle cx="359.69" cy="371.94" r="0.6" fill="rgb(30,165,30)"/>
<circle cx="361.85" cy="374.64" r="0.6" fill="rgb(7,59,7)"/>
<circle cx="362.55" cy="374.04" r="0.6" fill="rgb(30,165,30)"/>
<ellipse cx="348.10" cy="378.40" rx="2.92" ry="2.97" fill="rgb(13,93,13)" stroke="rgb(25,141,25)" stroke-width="1.20"/>
<circle cx="348.92" cy="378.18" r="0.6" fill="rgb(30,165,30)"/>
<circle cx="348.44" cy="380.45" r="0.6" fill="rgb(6,51,6)"/>
<circle cx="346.50" cy="377.06" r="0.6" fill="rgb(30,165,30)"/>
<circle cx="347.18" cy="379.12" r="0.6" fill="rgb(6,51,6)"/>
<circle cx="349.24" cy="378.07" r="0.6" fill="rgb(30,165,30)"/>
<ellipse cx="373.28" cy="380.52" rx="3.42" ry="2.92" fill="rgb(15,108,15)" stroke="rgb(29,162,29)" stroke-width="1.20"/>
<circle cx="373.47" cy="380.19" r="0.6" fill="rgb(30,165,30)"/>
<circle cx="373.28" cy="380.52" r="0.6" fill="rgb(7,59,7)"/>
<circle cx="374.28" cy="382.49" r="0.6" fill="rgb(30,165,30)"/>
<circle cx="371.47" cy="381.05" r="0.6" fill="rgb(7,59,7)"/>
<circle cx="373.28" cy="381.34" r="0.6" fill="rgb(30,165,30)"/>
<ellipse cx="394.13" cy="376.27" rx="2.87" ry="3.15" fill="rgb(15,109,15)" stroke="rgb(29,164,29)" stroke-width="1.20"/>
<circle cx="394.91" cy="375.36" r="0.6" fill="rgb(30,165,30)"/>
<circle cx="392.58" cy="377.79" r="0.6" fill="rgb(7,59,7)"/>
<circle cx="395.35" cy="375.31" r="0.6" fill="rgb(30,165,30)"/>
<circle cx="395.43" cy="376.94" r="0.6" fill="rgb(7,59,7)"/>
<circle cx="392.03" cy="377.04" r="0.6" fill="rgb(30,165,30)"/>
<ellipse cx="401.88" cy="372.84" rx="3.03" ry="3.22" fill="rgb(15,108,15)" stroke="rgb(29,163,29)" stroke-width="1.20"/>
<circle cx="401.29" cy="372.19" r="0.6" fill="rgb(30,165,30)"/>
<circle cx="400.32" cy="372.62" r="0.6" fill="rgb(7,59,7)"/>
<circle cx="402.86" cy="372.19" r="0.6" fill="rgb(30,165,30)"/>
<circle cx="400.39" cy="374.56" r="0.6" fill="rgb(7,59,7)"/>
<circle cx="403.71" cy="373.52" r="0.6" fill="rgb(30,165,30)"/>
<ellipse cx="338.33" cy="387.50" rx="3.23" ry="3.15" fill="rgb(12,90,12)" stroke="rgb(24,138,24)" stroke-width="1.20"/>
<circle cx="336.67" cy="388.07" r="0.6" fill="rgb(29,160,29)"/>
<circle cx="339.65" cy="386.42" r="0.6" fill="rgb(6,50,6)"/>
<circle cx="338.33" cy="387.42" r="0.6" fill="rgb(29,160,29)"/>
<circle cx="338.19" cy="387.78" r="0.6" fill="rgb(6,50,6)"/>
<circle cx="340.33" cy="386.89" r="0.6" fill="rgb(29,160,29)"/>
<ellipse cx="382.85" cy="393.77" rx="2.89" ry="3.17" fill="rgb(12,86,12)" stroke="rgb(22,132,22)" stroke-width="1.20"/>
<circle cx="382.75" cy="393.72" r="0.6" fill="rgb(27,153,27)"/>
<circle cx="381.49" cy="394.86" r="0.6" fill="rgb(6,48,6)"/>
<circle cx="382.44" cy="393.26" r="0.6" fill="rgb(27,153,27)"/>
<circle cx="382.90" cy="393.09" r="0.6" fill="rgb(6,48,6)"/>
<circle cx="381.90" cy="393.50" r="0.6" fill="rgb(27,153,27)"/>
<ellipse cx="396.95" cy="395.29" rx="3.41" ry="3.21" fill="rgb(12,86,12)" stroke="rgb(23,132,23)" stroke-width="1.20"/>
<circle cx="397.48" cy="393.80" r="0.6" fill="rgb(27,154,27)"/>
<circle cx="395.30" cy="396.82" r="0.6" fill="rgb(6,48,6)"/>
<circle cx="396.55" cy="393.72" r="0.6" fill="rgb(27,154,27)"/>
<circle cx="396.89" cy="395.66" r="0.6" fill="rgb(6,48,6)"/>
<circle cx="395.23" cy="394.41" r="0.6" fill="rgb(27,154,27)"/>
<ellipse cx="402.49" cy="395.89" rx="3.30" ry="3.02" fill="rgb(12,85,12)" stroke="rgb(22,131,22)" stroke-width="1.20"/>
<circle cx="403.26" cy="396.82" r="0.6" fill="rgb(27,152,27)"/>
<circle cx="402.76" cy="395.63" r="0.6" fill="rgb(6,47,6)"/>
<circle cx="402.46" cy="395.49" r="0.6" fill="rgb(27,152,27)"/>
<circle cx="402.44" cy="396.01" r="0.6" fill="rgb(6,47,6)"/>
<circle cx="402.23" cy="396.75" r="0.6" fill="rgb(27,152,27)"/>
<ellipse cx="340.45" cy="397.31" rx="3.41" ry="3.40" fill="rgb(12,86,12)" stroke="rgb(22,131,22)" stroke-width="1.20"/>
<circle cx="340.73" cy="397.98" r="0.6" fill="rgb(27,152,27)"/>
<circle cx="340.88" cy="397.15" r="0.6" fill="rgb(6,48,6)"/>
<circle cx="340.01" cy="398.23" r="0.6" fill="rgb(27,152,27)"/>
<circle cx="340.92" cy="397.69" r="0.6" fill="rgb(6,48,6)"/>
<circle cx="339.74" cy="397.87" r="0.6" fill="rgb(27,152,27)"/>
<ellipse cx="347.40" cy="398.02" rx="3.40" ry="2.97" fill="rgb(14,98,14)" stroke="rgb(26,149,26)" stroke-width="1.20"/>
<circle cx="348.00" cy="400.05" r="0.6" fill="rgb(30,165,30)"/>
<circle cx="345.54" cy="398.62" r="0.6" fill="rgb(7,54,7)"/>
<circle cx="346.21" cy="396.64" r="0.6" fill="rgb(30,165,30)"/>
<circle cx="347.26" cy="398.34" r="0.6" fill="rgb(7,54,7)"/>
<circle cx="347.45" cy="396.92" r="0.6" fill="rgb(30,165,30)"/>
<ellipse cx="348.81" cy="402.87" rx="3.15" ry="3.22" fill="rgb(15,107,15)" stroke="rgb(29,160,29)" stroke-width="1.20"/>
<circle cx="348.82" cy="402.23" r="0.6" fill="rgb(30,165,30)"/>
<circle cx="347.41" cy="404.50" r="0.6" fill="rgb(7,58,7)"/>
<circle cx="348.15" cy="402.75" r="0.6" fill="rgb(30,165,30)"/>
<circle cx="348.39" cy="402.43" r="0.6" fill="rgb(7,58,7)"/>
<circle cx="348.82" cy="402.77" r="0.6" fill="rgb(30,165,30)"/>
<ellipse cx="356.46" cy="400.85" rx="3.32" ry="3.16" fill="rgb(15,105,15)" stroke="rgb(28,158,28)" stroke-width="1.20"/>
<circle cx="355.13" cy="402.59" r="0.6" fill="rgb(30,165,30)"/>
<circle cx="356.41" cy="401.41" r="0.6" fill="rgb(7,57,7)"/>
<circle cx="357.62" cy="401.39" r="0.6" fill="rgb(30,165,30)"/>
<circle cx="356.50" cy="399.26" r="0.6" fill="rgb(7,57,7)"/>
<circle cx="354.85" cy="401.83" r="0.6" fill="rgb(30,165,30)"/>
<ellipse cx="359.28" cy="409.24" rx="2.87" ry="3.00" fill="rgb(13,94,13)" stroke="rgb(25,143,25)" stroke-width="1.20"/>
<circle cx="357.89" cy="407.46" r="0.6" fill="rgb(30,165,30)"/>
<circle cx="358.20" cy="408.04" r="0.6" fill="rgb(6,52,6)"/>
<circle cx="359.42" cy="408.33" r="0.6" fill="rgb(30,165,30)"/>
<circle cx="360.90" cy="408.61" r="0.6" fill="rgb(6,52,6)"/>
<circle cx="358.78" cy="410.01" r="0.6" fill="rgb(30,165,30)"/>
<ellipse cx="371.17" cy="407.83" rx="3.31" ry="3.02" fill="rgb(14,99,14)" stroke="rgb(26,150,26)" stroke-width="1.20"/>
<circle cx="371.97" cy="409.70" r="0.6" fill="rgb(30,165,30)"/>
<circle cx="369.97" cy="407.58" r="0.6" fill="rgb(7,54,7)"/>
<circle cx="370.15" cy="405.98" r="0.6" fill="rgb(30,165,30)"/>
<circle cx="371.70" cy="408.41" r="0.6" fill="rgb(7,54,7)"/>
<circle cx="372.05" cy="408.21" r="0.6" fill="rgb(30,165,30)"/>
<ellipse cx="366.23" cy="411.37" rx="3.12" ry="3.34" fill="rgb(15,103,15)" stroke="rgb(28,156,28)" stroke-width="1.20"/>
<circle cx="365.57" cy="410.19" r="0.6" fill="rgb(30,165,30)"/>
<circle cx="365.13" cy="412.13" r="0.6" fill="rgb(7,56,7)"/>
<circle cx="365.94" cy="413.32" r="0.6" fill="rgb(30,165,30)"/>
<circle cx="366.70" cy="409.46" r="0.6" fill="rgb(7,56,7)"/>
<circle cx="367.15" cy="412.64" r="0.6" fill="rgb(30,165,30)"/>
<ellipse cx="400.48" cy="411.37" rx="3.27" ry="3.12" fill="rgb(11,82,11)" stroke="rgb(21,126,21)" stroke-width="1.20"/>
<circle cx="402.16" cy="410.11" r="0.6" fill="rgb(26,146,26)"/>
<circle cx="400.39" cy="409.45" r="0.6" fill="rgb(5,46,5)"/>
<circle cx="399.26" cy="409.71" r="0.6" fill="rgb(26,146,26)"/>
<circle cx="401.59" cy="412.57" r="0.6" fill="rgb(5,46,5)"/>
<circle cx="400.07" cy="409.99" r="0.6" fill="rgb(26,146,26)"/>
</g></g>
<clipPath id="c16"><rect x="333.5" y="415.00" width="70.50" height="70.40"/></clipPath>
<g clip-path="url(#c16)"><rect x="333.5" y="415.00" width="70.50" height="70.40" fill="#000"/><rect x="334.3" y="415.00" width="68.90" height="69.60" fill="#020208"/><g filter="url(#bb)">
<circle cx="375.30" cy="417.78" r="3.04" fill="rgb(18,10,186)"/>
<circle cx="394.94" cy="418.47" r="3.04" fill="rgb(19,11,196)"/>
<circle cx="351.63" cy="432.15" r="3.04" fill="rgb(18,11,191)"/>
<circle cx="374.69" cy="431.46" r="3.04" fill="rgb(18,11,190)"/>
<circle cx="371.77" cy="437.61" r="3.04" fill="rgb(17,10,179)"/>
<circle cx="379.53" cy="441.08" r="3.04" fill="rgb(15,9,167)"/>
<circle cx="401.88" cy="431.46" r="3.04" fill="rgb(18,11,191)"/>
<circle cx="337.73" cy="445.94" r="3.04" fill="rgb(16,9,173)"/>
<circle cx="360.69" cy="445.24" r="3.04" fill="rgb(19,11,192)"/>
<circle cx="348.10" cy="450.00" r="3.04" fill="rgb(19,11,198)"/>
<circle cx="373.28" cy="452.08" r="3.04" fill="rgb(16,10,175)"/>
<circle cx="394.13" cy="447.92" r="3.04" fill="rgb(17,10,176)"/>
<circle cx="401.88" cy="444.55" r="3.04" fill="rgb(19,11,197)"/>
<circle cx="338.33" cy="458.93" r="3.04" fill="rgb(18,11,188)"/>
<circle cx="382.85" cy="465.07" r="3.04" fill="rgb(15,9,166)"/>
<circle cx="396.95" cy="466.56" r="3.04" fill="rgb(15,9,165)"/>
<circle cx="402.49" cy="467.16" r="3.04" fill="rgb(15,9,166)"/>
<circle cx="340.45" cy="468.54" r="3.04" fill="rgb(19,11,196)"/>
<circle cx="347.40" cy="469.24" r="3.04" fill="rgb(19,11,192)"/>
<circle cx="348.81" cy="474.00" r="3.04" fill="rgb(15,9,165)"/>
<circle cx="356.46" cy="472.01" r="3.04" fill="rgb(19,11,193)"/>
<circle cx="359.28" cy="480.24" r="3.04" fill="rgb(19,11,199)"/>
<circle cx="371.17" cy="478.86" r="3.04" fill="rgb(18,10,186)"/>
<circle cx="366.23" cy="482.33" r="3.04" fill="rgb(16,10,174)"/>
<circle cx="400.48" cy="482.33" r="3.04" fill="rgb(17,10,181)"/>
</g></g>
<line x1="333.50" y1="414.50" x2="404.00" y2="414.50" stroke="#7c8090" stroke-width="1.0"/>
<clipPath id="c17"><rect x="410.0" y="342.7" width="69.00" height="71.80"/></clipPath>
<g clip-path="url(#c17)"><rect x="410.0" y="342.7" width="69.00" height="71.80" fill="#000"/><rect x="410.8" y="343.5" width="67.40" height="71.00" fill="#040a04"/><g filter="url(#bg)">
<ellipse cx="419.64" cy="344.71" rx="2.19" ry="2.10" fill="rgb(14,99,14)" stroke="rgb(26,149,26)" stroke-width="1.12"/>
<circle cx="418.51" cy="343.85" r="0.6" fill="rgb(30,165,30)"/>
<circle cx="419.58" cy="345.07" r="0.6" fill="rgb(7,54,7)"/>
<circle cx="419.66" cy="344.86" r="0.6" fill="rgb(30,165,30)"/>
<circle cx="418.88" cy="343.20" r="0.6" fill="rgb(7,54,7)"/>
<circle cx="419.84" cy="344.12" r="0.6" fill="rgb(30,165,30)"/>
<ellipse cx="475.11" cy="389.04" rx="2.39" ry="2.10" fill="rgb(5,41,5)" stroke="rgb(9,69,9)" stroke-width="1.12"/>
<circle cx="475.40" cy="388.57" r="0.6" fill="rgb(11,78,11)"/>
<circle cx="476.19" cy="389.07" r="0.6" fill="rgb(2,25,2)"/>
<circle cx="475.41" cy="389.41" r="0.6" fill="rgb(11,78,11)"/>
<circle cx="475.82" cy="389.32" r="0.6" fill="rgb(2,25,2)"/>
<circle cx="473.80" cy="388.57" r="0.6" fill="rgb(11,78,11)"/>
<ellipse cx="445.76" cy="408.86" rx="2.08" ry="2.45" fill="rgb(14,100,14)" stroke="rgb(27,151,27)" stroke-width="1.12"/>
<circle cx="446.06" cy="409.10" r="0.6" fill="rgb(30,165,30)"/>
<circle cx="445.36" cy="408.43" r="0.6" fill="rgb(7,55,7)"/>
<circle cx="445.29" cy="409.71" r="0.6" fill="rgb(30,165,30)"/>
<circle cx="446.04" cy="410.20" r="0.6" fill="rgb(7,55,7)"/>
<circle cx="446.13" cy="410.25" r="0.6" fill="rgb(30,165,30)"/>
<ellipse cx="439.64" cy="404.54" rx="2.44" ry="2.31" fill="rgb(8,62,8)" stroke="rgb(15,98,15)" stroke-width="1.12"/>
<circle cx="440.95" cy="404.79" r="0.6" fill="rgb(18,113,18)"/>
<circle cx="440.49" cy="404.69" r="0.6" fill="rgb(4,36,4)"/>
<circle cx="439.54" cy="404.59" r="0.6" fill="rgb(18,113,18)"/>
<circle cx="438.78" cy="403.63" r="0.6" fill="rgb(4,36,4)"/>
<circle cx="439.04" cy="404.19" r="0.6" fill="rgb(18,113,18)"/>
<ellipse cx="465.55" cy="358.44" rx="2.30" ry="2.34" fill="rgb(5,42,5)" stroke="rgb(9,70,9)" stroke-width="1.12"/>
<circle cx="465.77" cy="359.91" r="0.6" fill="rgb(11,79,11)"/>
<circle cx="466.93" cy="358.40" r="0.6" fill="rgb(2,26,2)"/>
<circle cx="466.10" cy="358.30" r="0.6" fill="rgb(11,79,11)"/>
<circle cx="465.67" cy="358.43" r="0.6" fill="rgb(2,26,2)"/>
<circle cx="465.32" cy="358.47" r="0.6" fill="rgb(11,79,11)"/>
<ellipse cx="427.62" cy="364.15" rx="2.27" ry="2.38" fill="rgb(8,61,8)" stroke="rgb(15,97,15)" stroke-width="1.12"/>
<circle cx="427.42" cy="363.40" r="0.6" fill="rgb(18,111,18)"/>
<circle cx="427.44" cy="364.43" r="0.6" fill="rgb(4,35,4)"/>
<circle cx="427.22" cy="364.43" r="0.6" fill="rgb(18,111,18)"/>
<circle cx="428.05" cy="365.34" r="0.6" fill="rgb(4,35,4)"/>
<circle cx="426.87" cy="364.08" r="0.6" fill="rgb(18,111,18)"/>
<ellipse cx="426.87" cy="384.63" rx="2.16" ry="2.39" fill="rgb(10,72,10)" stroke="rgb(18,112,18)" stroke-width="1.12"/>
<circle cx="427.02" cy="385.06" r="0.6" fill="rgb(22,130,22)"/>
<circle cx="425.75" cy="384.19" r="0.6" fill="rgb(5,41,5)"/>
<circle cx="428.14" cy="384.41" r="0.6" fill="rgb(22,130,22)"/>
<circle cx="428.37" cy="384.13" r="0.6" fill="rgb(5,41,5)"/>
<circle cx="426.66" cy="383.41" r="0.6" fill="rgb(22,130,22)"/>
<ellipse cx="428.11" cy="372.95" rx="2.10" ry="2.16" fill="rgb(7,57,7)" stroke="rgb(14,90,14)" stroke-width="1.12"/>
<circle cx="429.60" cy="373.07" r="0.6" fill="rgb(16,104,16)"/>
<circle cx="427.92" cy="371.88" r="0.6" fill="rgb(3,33,3)"/>
<circle cx="428.06" cy="373.56" r="0.6" fill="rgb(16,104,16)"/>
<circle cx="428.68" cy="373.88" r="0.6" fill="rgb(3,33,3)"/>
<circle cx="428.64" cy="372.92" r="0.6" fill="rgb(16,104,16)"/>
<ellipse cx="419.64" cy="407.21" rx="2.09" ry="2.15" fill="rgb(5,45,5)" stroke="rgb(10,74,10)" stroke-width="1.12"/>
<circle cx="418.69" cy="408.43" r="0.6" fill="rgb(12,84,12)"/>
<circle cx="419.91" cy="406.47" r="0.6" fill="rgb(2,27,2)"/>
<circle cx="419.79" cy="407.32" r="0.6" fill="rgb(12,84,12)"/>
<circle cx="420.40" cy="408.31" r="0.6" fill="rgb(2,27,2)"/>
<circle cx="417.96" cy="407.52" r="0.6" fill="rgb(12,84,12)"/>
<ellipse cx="434.35" cy="375.68" rx="2.49" ry="2.43" fill="rgb(13,91,13)" stroke="rgb(24,139,24)" stroke-width="1.12"/>
<circle cx="432.95" cy="375.89" r="0.6" fill="rgb(29,162,29)"/>
<circle cx="434.48" cy="375.82" r="0.6" fill="rgb(6,50,6)"/>
<circle cx="433.54" cy="375.34" r="0.6" fill="rgb(29,162,29)"/>
<circle cx="434.46" cy="376.10" r="0.6" fill="rgb(6,50,6)"/>
<circle cx="435.90" cy="375.89" r="0.6" fill="rgb(29,162,29)"/>
<ellipse cx="444.12" cy="380.82" rx="2.39" ry="2.50" fill="rgb(8,63,8)" stroke="rgb(15,99,15)" stroke-width="1.12"/>
<circle cx="444.86" cy="380.73" r="0.6" fill="rgb(19,114,19)"/>
<circle cx="444.04" cy="380.16" r="0.6" fill="rgb(4,36,4)"/>
<circle cx="444.66" cy="379.48" r="0.6" fill="rgb(19,114,19)"/>
<circle cx="444.13" cy="380.84" r="0.6" fill="rgb(4,36,4)"/>
<circle cx="444.34" cy="381.80" r="0.6" fill="rgb(19,114,19)"/>
<ellipse cx="445.56" cy="345.02" rx="2.24" ry="2.07" fill="rgb(8,60,8)" stroke="rgb(15,96,15)" stroke-width="1.12"/>
<circle cx="446.21" cy="343.83" r="0.6" fill="rgb(18,110,18)"/>
<circle cx="445.49" cy="345.03" r="0.6" fill="rgb(4,35,4)"/>
<circle cx="446.26" cy="344.43" r="0.6" fill="rgb(18,110,18)"/>
<circle cx="446.06" cy="345.26" r="0.6" fill="rgb(4,35,4)"/>
<circle cx="444.48" cy="343.94" r="0.6" fill="rgb(18,110,18)"/>
<ellipse cx="440.05" cy="356.49" rx="2.29" ry="2.36" fill="rgb(8,64,8)" stroke="rgb(16,101,16)" stroke-width="1.12"/>
<circle cx="440.17" cy="356.89" r="0.6" fill="rgb(19,116,19)"/>
<circle cx="440.60" cy="356.12" r="0.6" fill="rgb(4,37,4)"/>
<circle cx="440.86" cy="357.11" r="0.6" fill="rgb(19,116,19)"/>
<circle cx="440.29" cy="356.73" r="0.6" fill="rgb(4,37,4)"/>
<circle cx="439.08" cy="356.76" r="0.6" fill="rgb(19,116,19)"/>
<ellipse cx="411.25" cy="399.48" rx="2.36" ry="2.39" fill="rgb(10,76,10)" stroke="rgb(19,117,19)" stroke-width="1.12"/>
<circle cx="411.14" cy="399.52" r="0.6" fill="rgb(23,136,23)"/>
<circle cx="411.23" cy="399.38" r="0.6" fill="rgb(5,43,5)"/>
<circle cx="410.57" cy="399.60" r="0.6" fill="rgb(23,136,23)"/>
<circle cx="410.67" cy="398.39" r="0.6" fill="rgb(5,43,5)"/>
<circle cx="411.32" cy="400.59" r="0.6" fill="rgb(23,136,23)"/>
<ellipse cx="422.37" cy="376.75" rx="2.38" ry="2.28" fill="rgb(10,72,10)" stroke="rgb(18,112,18)" stroke-width="1.12"/>
<circle cx="423.35" cy="377.97" r="0.6" fill="rgb(22,130,22)"/>
<circle cx="422.28" cy="376.69" r="0.6" fill="rgb(5,41,5)"/>
<circle cx="422.49" cy="378.45" r="0.6" fill="rgb(22,130,22)"/>
<circle cx="422.46" cy="377.42" r="0.6" fill="rgb(5,41,5)"/>
<circle cx="422.70" cy="375.37" r="0.6" fill="rgb(22,130,22)"/>
<ellipse cx="458.88" cy="382.54" rx="2.36" ry="2.41" fill="rgb(6,52,6)" stroke="rgb(12,83,12)" stroke-width="1.12"/>
<circle cx="459.04" cy="382.58" r="0.6" fill="rgb(15,95,15)"/>
<circle cx="460.25" cy="382.33" r="0.6" fill="rgb(3,31,3)"/>
<circle cx="458.96" cy="382.56" r="0.6" fill="rgb(15,95,15)"/>
<circle cx="458.98" cy="384.14" r="0.6" fill="rgb(3,31,3)"/>
<circle cx="459.10" cy="383.68" r="0.6" fill="rgb(15,95,15)"/>
<ellipse cx="447.67" cy="398.44" rx="2.49" ry="2.36" fill="rgb(12,87,12)" stroke="rgb(23,133,23)" stroke-width="1.12"/>
<circle cx="448.06" cy="398.22" r="0.6" fill="rgb(28,155,28)"/>
<circle cx="447.69" cy="398.46" r="0.6" fill="rgb(6,48,6)"/>
<circle cx="447.68" cy="398.26" r="0.6" fill="rgb(28,155,28)"/>
<circle cx="448.87" cy="398.23" r="0.6" fill="rgb(6,48,6)"/>
<circle cx="448.21" cy="399.72" r="0.6" fill="rgb(28,155,28)"/>
<ellipse cx="417.99" cy="382.81" rx="2.14" ry="2.30" fill="rgb(9,68,9)" stroke="rgb(17,106,17)" stroke-width="1.12"/>
<circle cx="419.06" cy="383.64" r="0.6" fill="rgb(21,123,21)"/>
<circle cx="419.21" cy="381.80" r="0.6" fill="rgb(4,39,4)"/>
<circle cx="419.46" cy="382.83" r="0.6" fill="rgb(21,123,21)"/>
<circle cx="416.67" cy="382.32" r="0.6" fill="rgb(4,39,4)"/>
<circle cx="416.93" cy="382.79" r="0.6" fill="rgb(21,123,21)"/>
<ellipse cx="471.25" cy="374.64" rx="2.34" ry="2.43" fill="rgb(8,62,8)" stroke="rgb(15,98,15)" stroke-width="1.12"/>
<circle cx="471.33" cy="374.68" r="0.6" fill="rgb(18,113,18)"/>
<circle cx="470.77" cy="374.50" r="0.6" fill="rgb(4,36,4)"/>
<circle cx="471.24" cy="374.65" r="0.6" fill="rgb(18,113,18)"/>
<circle cx="471.25" cy="374.60" r="0.6" fill="rgb(4,36,4)"/>
<circle cx="471.92" cy="373.41" r="0.6" fill="rgb(18,113,18)"/>
<ellipse cx="451.44" cy="378.99" rx="2.28" ry="2.12" fill="rgb(7,59,7)" stroke="rgb(14,94,14)" stroke-width="1.12"/>
<circle cx="451.23" cy="378.70" r="0.6" fill="rgb(17,108,17)"/>
<circle cx="451.27" cy="379.07" r="0.6" fill="rgb(3,34,3)"/>
<circle cx="452.37" cy="378.85" r="0.6" fill="rgb(17,108,17)"/>
<circle cx="451.34" cy="379.12" r="0.6" fill="rgb(3,34,3)"/>
<circle cx="451.26" cy="377.54" r="0.6" fill="rgb(17,108,17)"/>
<ellipse cx="444.81" cy="392.05" rx="2.46" ry="2.11" fill="rgb(6,48,6)" stroke="rgb(11,79,11)" stroke-width="1.12"/>
<circle cx="444.46" cy="392.43" r="0.6" fill="rgb(13,90,13)"/>
<circle cx="444.83" cy="391.79" r="0.6" fill="rgb(3,29,3)"/>
<circle cx="443.49" cy="391.00" r="0.6" fill="rgb(13,90,13)"/>
<circle cx="444.81" cy="392.04" r="0.6" fill="rgb(3,29,3)"/>
<circle cx="444.98" cy="392.14" r="0.6" fill="rgb(13,90,13)"/>
<ellipse cx="457.16" cy="404.87" rx="2.38" ry="2.34" fill="rgb(7,58,7)" stroke="rgb(14,93,14)" stroke-width="1.12"/>
<circle cx="456.39" cy="404.77" r="0.6" fill="rgb(17,107,17)"/>
<circle cx="456.29" cy="405.45" r="0.6" fill="rgb(3,34,3)"/>
<circle cx="456.22" cy="403.61" r="0.6" fill="rgb(17,107,17)"/>
<circle cx="457.01" cy="403.51" r="0.6" fill="rgb(3,34,3)"/>
<circle cx="458.39" cy="404.12" r="0.6" fill="rgb(17,107,17)"/>
<ellipse cx="473.21" cy="361.82" rx="2.40" ry="2.08" fill="rgb(8,61,8)" stroke="rgb(15,97,15)" stroke-width="1.12"/>
<circle cx="472.59" cy="360.50" r="0.6" fill="rgb(18,111,18)"/>
<circle cx="471.84" cy="362.46" r="0.6" fill="rgb(4,35,4)"/>
<circle cx="473.90" cy="363.29" r="0.6" fill="rgb(18,111,18)"/>
<circle cx="472.07" cy="362.26" r="0.6" fill="rgb(4,35,4)"/>
<circle cx="473.20" cy="362.34" r="0.6" fill="rgb(18,111,18)"/>
<ellipse cx="415.78" cy="360.50" rx="2.23" ry="2.22" fill="rgb(13,95,13)" stroke="rgb(25,145,25)" stroke-width="1.12"/>
<circle cx="416.41" cy="360.93" r="0.6" fill="rgb(30,165,30)"/>
<circle cx="416.89" cy="360.37" r="0.6" fill="rgb(6,52,6)"/>
<circle cx="416.97" cy="359.96" r="0.6" fill="rgb(30,165,30)"/>
<circle cx="416.67" cy="359.04" r="0.6" fill="rgb(6,52,6)"/>
<circle cx="415.78" cy="360.03" r="0.6" fill="rgb(30,165,30)"/>
<ellipse cx="415.81" cy="390.43" rx="2.18" ry="2.26" fill="rgb(7,54,7)" stroke="rgb(13,86,13)" stroke-width="1.12"/>
<circle cx="416.21" cy="390.48" r="0.6" fill="rgb(15,99,15)"/>
<circle cx="417.01" cy="389.39" r="0.6" fill="rgb(3,32,3)"/>
<circle cx="415.19" cy="391.59" r="0.6" fill="rgb(15,99,15)"/>
<circle cx="416.05" cy="388.91" r="0.6" fill="rgb(3,32,3)"/>
<circle cx="416.07" cy="389.54" r="0.6" fill="rgb(15,99,15)"/>
<ellipse cx="421.19" cy="393.68" rx="2.11" ry="2.45" fill="rgb(14,99,14)" stroke="rgb(26,149,26)" stroke-width="1.12"/>
<circle cx="420.77" cy="394.67" r="0.6" fill="rgb(30,165,30)"/>
<circle cx="420.56" cy="394.37" r="0.6" fill="rgb(7,54,7)"/>
<circle cx="421.46" cy="393.62" r="0.6" fill="rgb(30,165,30)"/>
<circle cx="420.09" cy="393.46" r="0.6" fill="rgb(7,54,7)"/>
<circle cx="419.62" cy="393.29" r="0.6" fill="rgb(30,165,30)"/>
<ellipse cx="454.59" cy="353.69" rx="2.25" ry="2.49" fill="rgb(6,51,6)" stroke="rgb(12,83,12)" stroke-width="1.12"/>
<circle cx="453.98" cy="352.14" r="0.6" fill="rgb(15,95,15)"/>
<circle cx="454.90" cy="353.88" r="0.6" fill="rgb(3,30,3)"/>
<circle cx="454.23" cy="355.21" r="0.6" fill="rgb(15,95,15)"/>
<circle cx="455.04" cy="353.73" r="0.6" fill="rgb(3,30,3)"/>
<circle cx="454.23" cy="352.02" r="0.6" fill="rgb(15,95,15)"/>
<ellipse cx="469.29" cy="411.22" rx="2.15" ry="2.27" fill="rgb(3,29,3)" stroke="rgb(5,52,5)" stroke-width="1.12"/>
<circle cx="468.83" cy="410.13" r="0.6" fill="rgb(7,58,7)"/>
<circle cx="469.26" cy="409.93" r="0.6" fill="rgb(1,19,1)"/>
<circle cx="469.29" cy="411.67" r="0.6" fill="rgb(7,58,7)"/>
<circle cx="470.46" cy="411.43" r="0.6" fill="rgb(1,19,1)"/>
<circle cx="469.40" cy="411.66" r="0.6" fill="rgb(7,58,7)"/>
<ellipse cx="425.49" cy="410.17" rx="2.51" ry="2.36" fill="rgb(5,45,5)" stroke="rgb(10,75,10)" stroke-width="1.12"/>
<circle cx="424.54" cy="409.56" r="0.6" fill="rgb(12,85,12)"/>
<circle cx="424.51" cy="409.48" r="0.6" fill="rgb(2,27,2)"/>
<circle cx="425.45" cy="410.28" r="0.6" fill="rgb(12,85,12)"/>
<circle cx="425.51" cy="410.18" r="0.6" fill="rgb(2,27,2)"/>
<circle cx="425.33" cy="410.36" r="0.6" fill="rgb(12,85,12)"/>
<ellipse cx="476.36" cy="401.80" rx="2.12" ry="2.29" fill="rgb(8,63,8)" stroke="rgb(15,99,15)" stroke-width="1.12"/>
<circle cx="477.52" cy="401.57" r="0.6" fill="rgb(19,114,19)"/>
<circle cx="476.17" cy="403.11" r="0.6" fill="rgb(4,36,4)"/>
<circle cx="476.44" cy="401.95" r="0.6" fill="rgb(19,114,19)"/>
<circle cx="476.13" cy="402.46" r="0.6" fill="rgb(4,36,4)"/>
<circle cx="476.08" cy="401.09" r="0.6" fill="rgb(19,114,19)"/>
<ellipse cx="445.04" cy="367.37" rx="2.40" ry="2.11" fill="rgb(12,87,12)" stroke="rgb(23,133,23)" stroke-width="1.12"/>
<circle cx="445.57" cy="367.13" r="0.6" fill="rgb(27,155,27)"/>
<circle cx="445.06" cy="367.33" r="0.6" fill="rgb(6,48,6)"/>
<circle cx="445.22" cy="367.03" r="0.6" fill="rgb(27,155,27)"/>
<circle cx="445.89" cy="366.28" r="0.6" fill="rgb(6,48,6)"/>
<circle cx="444.81" cy="366.95" r="0.6" fill="rgb(27,155,27)"/>
<ellipse cx="458.68" cy="345.07" rx="2.07" ry="2.15" fill="rgb(4,38,4)" stroke="rgb(8,64,8)" stroke-width="1.12"/>
<circle cx="458.90" cy="344.92" r="0.6" fill="rgb(10,72,10)"/>
<circle cx="458.13" cy="344.22" r="0.6" fill="rgb(2,24,2)"/>
<circle cx="458.51" cy="344.81" r="0.6" fill="rgb(10,72,10)"/>
<circle cx="458.78" cy="345.20" r="0.6" fill="rgb(2,24,2)"/>
<circle cx="459.33" cy="345.00" r="0.6" fill="rgb(10,72,10)"/>
<ellipse cx="412.18" cy="366.84" rx="2.37" ry="2.33" fill="rgb(6,51,6)" stroke="rgb(12,83,12)" stroke-width="1.12"/>
<circle cx="412.20" cy="366.95" r="0.6" fill="rgb(14,94,14)"/>
<circle cx="413.64" cy="366.98" r="0.6" fill="rgb(3,30,3)"/>
<circle cx="413.31" cy="368.05" r="0.6" fill="rgb(14,94,14)"/>
<circle cx="411.37" cy="367.78" r="0.6" fill="rgb(3,30,3)"/>
<circle cx="413.06" cy="367.88" r="0.6" fill="rgb(14,94,14)"/>
<ellipse cx="415.23" cy="412.45" rx="2.18" ry="2.23" fill="rgb(7,54,7)" stroke="rgb(13,86,13)" stroke-width="1.12"/>
<circle cx="415.04" cy="412.42" r="0.6" fill="rgb(15,99,15)"/>
<circle cx="415.25" cy="413.82" r="0.6" fill="rgb(3,32,3)"/>
<circle cx="415.09" cy="413.09" r="0.6" fill="rgb(15,99,15)"/>
<circle cx="415.27" cy="412.06" r="0.6" fill="rgb(3,32,3)"/>
<circle cx="415.36" cy="412.80" r="0.6" fill="rgb(15,99,15)"/>
<ellipse cx="463.05" cy="411.51" rx="2.24" ry="2.23" fill="rgb(4,37,4)" stroke="rgb(8,63,8)" stroke-width="1.12"/>
<circle cx="462.54" cy="410.88" r="0.6" fill="rgb(9,71,9)"/>
<circle cx="463.11" cy="411.45" r="0.6" fill="rgb(2,23,2)"/>
<circle cx="462.31" cy="410.28" r="0.6" fill="rgb(9,71,9)"/>
<circle cx="463.06" cy="411.56" r="0.6" fill="rgb(2,23,2)"/>
<circle cx="462.87" cy="411.59" r="0.6" fill="rgb(9,71,9)"/>
<ellipse cx="428.85" cy="352.75" rx="2.28" ry="2.39" fill="rgb(13,95,13)" stroke="rgb(25,144,25)" stroke-width="1.12"/>
<circle cx="429.02" cy="352.86" r="0.6" fill="rgb(30,165,30)"/>
<circle cx="428.55" cy="352.79" r="0.6" fill="rgb(6,52,6)"/>
<circle cx="428.94" cy="353.50" r="0.6" fill="rgb(30,165,30)"/>
<circle cx="428.93" cy="352.83" r="0.6" fill="rgb(6,52,6)"/>
<circle cx="428.33" cy="353.37" r="0.6" fill="rgb(30,165,30)"/>
<ellipse cx="456.44" cy="373.39" rx="2.50" ry="2.32" fill="rgb(5,41,5)" stroke="rgb(9,69,9)" stroke-width="1.12"/>
<circle cx="456.78" cy="373.56" r="0.6" fill="rgb(11,78,11)"/>
<circle cx="456.40" cy="372.42" r="0.6" fill="rgb(2,25,2)"/>
<circle cx="457.57" cy="372.18" r="0.6" fill="rgb(11,78,11)"/>
<circle cx="456.56" cy="373.24" r="0.6" fill="rgb(2,25,2)"/>
<circle cx="457.28" cy="373.08" r="0.6" fill="rgb(11,78,11)"/>
<ellipse cx="445.78" cy="360.35" rx="2.18" ry="2.14" fill="rgb(7,54,7)" stroke="rgb(13,87,13)" stroke-width="1.12"/>
<circle cx="446.03" cy="360.07" r="0.6" fill="rgb(16,100,16)"/>
<circle cx="446.18" cy="360.58" r="0.6" fill="rgb(3,32,3)"/>
<circle cx="446.49" cy="359.98" r="0.6" fill="rgb(16,100,16)"/>
<circle cx="445.77" cy="360.22" r="0.6" fill="rgb(3,32,3)"/>
<circle cx="445.26" cy="360.51" r="0.6" fill="rgb(16,100,16)"/>
<ellipse cx="461.15" cy="363.94" rx="2.16" ry="2.37" fill="rgb(8,61,8)" stroke="rgb(15,97,15)" stroke-width="1.12"/>
<circle cx="461.01" cy="364.10" r="0.6" fill="rgb(18,111,18)"/>
<circle cx="461.97" cy="363.86" r="0.6" fill="rgb(4,35,4)"/>
<circle cx="461.15" cy="363.96" r="0.6" fill="rgb(18,111,18)"/>
<circle cx="460.64" cy="363.22" r="0.6" fill="rgb(4,35,4)"/>
<circle cx="461.95" cy="364.07" r="0.6" fill="rgb(18,111,18)"/>
<ellipse cx="433.90" cy="344.98" rx="2.41" ry="2.31" fill="rgb(13,96,13)" stroke="rgb(25,146,25)" stroke-width="1.12"/>
<circle cx="433.99" cy="345.83" r="0.6" fill="rgb(30,165,30)"/>
<circle cx="433.02" cy="344.29" r="0.6" fill="rgb(6,53,6)"/>
<circle cx="434.75" cy="346.07" r="0.6" fill="rgb(30,165,30)"/>
<circle cx="435.10" cy="344.55" r="0.6" fill="rgb(6,53,6)"/>
<circle cx="434.30" cy="344.48" r="0.6" fill="rgb(30,165,30)"/>
<ellipse cx="427.53" cy="344.78" rx="2.48" ry="2.15" fill="rgb(7,55,7)" stroke="rgb(13,89,13)" stroke-width="1.12"/>
<circle cx="427.68" cy="345.80" r="0.6" fill="rgb(16,102,16)"/>
<circle cx="427.64" cy="344.70" r="0.6" fill="rgb(3,32,3)"/>
<circle cx="427.54" cy="344.84" r="0.6" fill="rgb(16,102,16)"/>
<circle cx="427.30" cy="344.87" r="0.6" fill="rgb(3,32,3)"/>
<circle cx="427.99" cy="345.99" r="0.6" fill="rgb(16,102,16)"/>
<ellipse cx="472.71" cy="351.13" rx="2.33" ry="2.50" fill="rgb(8,61,8)" stroke="rgb(15,96,15)" stroke-width="1.12"/>
<circle cx="471.76" cy="351.80" r="0.6" fill="rgb(18,110,18)"/>
<circle cx="474.34" cy="351.26" r="0.6" fill="rgb(4,35,4)"/>
<circle cx="472.80" cy="351.94" r="0.6" fill="rgb(18,110,18)"/>
<circle cx="471.08" cy="351.01" r="0.6" fill="rgb(4,35,4)"/>
<circle cx="471.01" cy="351.21" r="0.6" fill="rgb(18,110,18)"/>
<ellipse cx="465.07" cy="373.87" rx="2.35" ry="2.17" fill="rgb(6,50,6)" stroke="rgb(12,82,12)" stroke-width="1.12"/>
<circle cx="465.24" cy="373.57" r="0.6" fill="rgb(14,93,14)"/>
<circle cx="465.86" cy="373.87" r="0.6" fill="rgb(3,30,3)"/>
<circle cx="465.32" cy="375.50" r="0.6" fill="rgb(14,93,14)"/>
<circle cx="464.76" cy="374.50" r="0.6" fill="rgb(3,30,3)"/>
<circle cx="464.43" cy="374.83" r="0.6" fill="rgb(14,93,14)"/>
<ellipse cx="456.41" cy="412.26" rx="2.08" ry="2.24" fill="rgb(7,57,7)" stroke="rgb(14,91,14)" stroke-width="1.12"/>
<circle cx="457.15" cy="413.48" r="0.6" fill="rgb(16,104,16)"/>
<circle cx="457.45" cy="412.26" r="0.6" fill="rgb(3,33,3)"/>
<circle cx="456.37" cy="413.04" r="0.6" fill="rgb(16,104,16)"/>
<circle cx="455.27" cy="411.80" r="0.6" fill="rgb(3,33,3)"/>
<circle cx="456.67" cy="412.58" r="0.6" fill="rgb(16,104,16)"/>
<ellipse cx="433.62" cy="401.79" rx="2.12" ry="2.51" fill="rgb(12,88,12)" stroke="rgb(23,134,23)" stroke-width="1.12"/>
<circle cx="433.76" cy="401.98" r="0.6" fill="rgb(28,156,28)"/>
<circle cx="432.63" cy="401.65" r="0.6" fill="rgb(6,49,6)"/>
<circle cx="433.69" cy="401.72" r="0.6" fill="rgb(28,156,28)"/>
<circle cx="433.65" cy="402.07" r="0.6" fill="rgb(6,49,6)"/>
<circle cx="432.95" cy="401.39" r="0.6" fill="rgb(28,156,28)"/>
<ellipse cx="437.71" cy="367.96" rx="2.25" ry="2.47" fill="rgb(14,103,14)" stroke="rgb(27,155,27)" stroke-width="1.12"/>
<circle cx="436.93" cy="366.70" r="0.6" fill="rgb(30,165,30)"/>
<circle cx="438.16" cy="367.84" r="0.6" fill="rgb(7,56,7)"/>
<circle cx="438.37" cy="367.71" r="0.6" fill="rgb(30,165,30)"/>
<circle cx="439.21" cy="368.46" r="0.6" fill="rgb(7,56,7)"/>
<circle cx="437.74" cy="367.98" r="0.6" fill="rgb(30,165,30)"/>
<ellipse cx="414.58" cy="352.77" rx="2.20" ry="2.20" fill="rgb(13,96,13)" stroke="rgb(25,145,25)" stroke-width="1.12"/>
<circle cx="416.04" cy="352.46" r="0.6" fill="rgb(30,165,30)"/>
<circle cx="413.78" cy="353.21" r="0.6" fill="rgb(6,53,6)"/>
<circle cx="415.39" cy="351.64" r="0.6" fill="rgb(30,165,30)"/>
<circle cx="414.07" cy="352.04" r="0.6" fill="rgb(6,53,6)"/>
<circle cx="414.89" cy="353.05" r="0.6" fill="rgb(30,165,30)"/>
<ellipse cx="468.48" cy="390.50" rx="2.37" ry="2.34" fill="rgb(7,59,7)" stroke="rgb(14,93,14)" stroke-width="1.12"/>
<circle cx="468.97" cy="389.03" r="0.6" fill="rgb(17,107,17)"/>
<circle cx="468.80" cy="390.42" r="0.6" fill="rgb(3,34,3)"/>
<circle cx="469.85" cy="391.21" r="0.6" fill="rgb(17,107,17)"/>
<circle cx="468.20" cy="390.37" r="0.6" fill="rgb(3,34,3)"/>
<circle cx="468.32" cy="390.09" r="0.6" fill="rgb(17,107,17)"/>
<ellipse cx="475.22" cy="381.88" rx="2.18" ry="2.23" fill="rgb(4,36,4)" stroke="rgb(7,61,7)" stroke-width="1.12"/>
<circle cx="474.07" cy="381.71" r="0.6" fill="rgb(9,69,9)"/>
<circle cx="476.36" cy="382.45" r="0.6" fill="rgb(2,23,2)"/>
<circle cx="474.64" cy="381.31" r="0.6" fill="rgb(9,69,9)"/>
<circle cx="474.57" cy="380.67" r="0.6" fill="rgb(2,23,2)"/>
<circle cx="476.04" cy="381.93" r="0.6" fill="rgb(9,69,9)"/>
<ellipse cx="416.91" cy="371.59" rx="2.38" ry="2.39" fill="rgb(12,90,12)" stroke="rgb(24,137,24)" stroke-width="1.12"/>
<circle cx="416.73" cy="371.34" r="0.6" fill="rgb(28,159,28)"/>
<circle cx="418.22" cy="371.24" r="0.6" fill="rgb(6,50,6)"/>
<circle cx="416.99" cy="372.33" r="0.6" fill="rgb(28,159,28)"/>
<circle cx="417.26" cy="371.49" r="0.6" fill="rgb(6,50,6)"/>
<circle cx="415.52" cy="372.48" r="0.6" fill="rgb(28,159,28)"/>
<ellipse cx="460.55" cy="389.59" rx="2.48" ry="2.17" fill="rgb(6,48,6)" stroke="rgb(11,78,11)" stroke-width="1.12"/>
<circle cx="460.50" cy="388.98" r="0.6" fill="rgb(13,89,13)"/>
<circle cx="459.87" cy="388.46" r="0.6" fill="rgb(3,29,3)"/>
<circle cx="460.82" cy="389.87" r="0.6" fill="rgb(13,89,13)"/>
<circle cx="460.65" cy="390.04" r="0.6" fill="rgb(3,29,3)"/>
<circle cx="460.78" cy="389.65" r="0.6" fill="rgb(13,89,13)"/>
<ellipse cx="464.13" cy="401.38" rx="2.25" ry="2.26" fill="rgb(7,55,7)" stroke="rgb(13,89,13)" stroke-width="1.12"/>
<circle cx="465.01" cy="401.85" r="0.6" fill="rgb(16,101,16)"/>
<circle cx="465.06" cy="401.02" r="0.6" fill="rgb(3,32,3)"/>
<circle cx="463.38" cy="402.33" r="0.6" fill="rgb(16,101,16)"/>
<circle cx="463.85" cy="401.49" r="0.6" fill="rgb(3,32,3)"/>
<circle cx="464.10" cy="401.38" r="0.6" fill="rgb(16,101,16)"/>
<ellipse cx="452.34" cy="391.21" rx="2.38" ry="2.14" fill="rgb(5,44,5)" stroke="rgb(10,73,10)" stroke-width="1.12"/>
<circle cx="451.21" cy="392.42" r="0.6" fill="rgb(12,83,12)"/>
<circle cx="452.49" cy="389.78" r="0.6" fill="rgb(2,27,2)"/>
<circle cx="451.66" cy="390.36" r="0.6" fill="rgb(12,83,12)"/>
<circle cx="451.88" cy="389.61" r="0.6" fill="rgb(2,27,2)"/>
<circle cx="452.78" cy="392.45" r="0.6" fill="rgb(12,83,12)"/>
<ellipse cx="475.58" cy="409.04" rx="2.20" ry="2.18" fill="rgb(8,60,8)" stroke="rgb(15,96,15)" stroke-width="1.12"/>
<circle cx="476.03" cy="408.11" r="0.6" fill="rgb(18,110,18)"/>
<circle cx="476.47" cy="407.82" r="0.6" fill="rgb(4,35,4)"/>
<circle cx="475.29" cy="408.86" r="0.6" fill="rgb(18,110,18)"/>
<circle cx="476.50" cy="409.13" r="0.6" fill="rgb(4,35,4)"/>
<circle cx="475.51" cy="408.58" r="0.6" fill="rgb(18,110,18)"/>
<ellipse cx="412.14" cy="375.74" rx="2.10" ry="2.07" fill="rgb(11,81,11)" stroke="rgb(21,124,21)" stroke-width="1.12"/>
<circle cx="412.70" cy="376.80" r="0.6" fill="rgb(25,144,25)"/>
<circle cx="412.54" cy="375.75" r="0.6" fill="rgb(5,45,5)"/>
<circle cx="412.03" cy="376.96" r="0.6" fill="rgb(25,144,25)"/>
<circle cx="412.17" cy="375.73" r="0.6" fill="rgb(5,45,5)"/>
<circle cx="413.35" cy="376.80" r="0.6" fill="rgb(25,144,25)"/>
<ellipse cx="466.40" cy="352.09" rx="2.51" ry="2.13" fill="rgb(4,38,4)" stroke="rgb(8,65,8)" stroke-width="1.12"/>
<circle cx="465.94" cy="352.86" r="0.6" fill="rgb(10,73,10)"/>
<circle cx="466.10" cy="352.74" r="0.6" fill="rgb(2,24,2)"/>
<circle cx="465.96" cy="352.15" r="0.6" fill="rgb(10,73,10)"/>
<circle cx="466.54" cy="352.14" r="0.6" fill="rgb(2,24,2)"/>
<circle cx="466.49" cy="352.22" r="0.6" fill="rgb(10,73,10)"/>
<ellipse cx="435.64" cy="410.43" rx="2.35" ry="2.39" fill="rgb(8,60,8)" stroke="rgb(15,95,15)" stroke-width="1.12"/>
<circle cx="435.53" cy="411.79" r="0.6" fill="rgb(18,109,18)"/>
<circle cx="435.56" cy="409.85" r="0.6" fill="rgb(4,35,4)"/>
<circle cx="435.32" cy="410.45" r="0.6" fill="rgb(18,109,18)"/>
<circle cx="436.51" cy="410.01" r="0.6" fill="rgb(4,35,4)"/>
<circle cx="435.89" cy="410.51" r="0.6" fill="rgb(18,109,18)"/>
<ellipse cx="430.65" cy="395.28" rx="2.38" ry="2.24" fill="rgb(7,54,7)" stroke="rgb(13,86,13)" stroke-width="1.12"/>
<circle cx="430.57" cy="394.89" r="0.6" fill="rgb(15,99,15)"/>
<circle cx="431.05" cy="393.96" r="0.6" fill="rgb(3,32,3)"/>
<circle cx="431.49" cy="395.84" r="0.6" fill="rgb(15,99,15)"/>
<circle cx="431.09" cy="396.42" r="0.6" fill="rgb(3,32,3)"/>
<circle cx="431.10" cy="393.99" r="0.6" fill="rgb(15,99,15)"/>
<ellipse cx="454.31" cy="364.70" rx="2.17" ry="2.11" fill="rgb(5,46,5)" stroke="rgb(11,76,11)" stroke-width="1.12"/>
<circle cx="453.81" cy="363.87" r="0.6" fill="rgb(13,86,13)"/>
<circle cx="454.52" cy="364.96" r="0.6" fill="rgb(2,28,2)"/>
<circle cx="454.15" cy="364.61" r="0.6" fill="rgb(13,86,13)"/>
<circle cx="454.03" cy="364.39" r="0.6" fill="rgb(2,28,2)"/>
<circle cx="454.27" cy="365.43" r="0.6" fill="rgb(13,86,13)"/>
<ellipse cx="422.04" cy="354.99" rx="2.31" ry="2.40" fill="rgb(6,48,6)" stroke="rgb(11,79,11)" stroke-width="1.12"/>
<circle cx="423.26" cy="355.23" r="0.6" fill="rgb(13,90,13)"/>
<circle cx="422.13" cy="355.48" r="0.6" fill="rgb(3,29,3)"/>
<circle cx="421.28" cy="354.08" r="0.6" fill="rgb(13,90,13)"/>
<circle cx="420.87" cy="353.97" r="0.6" fill="rgb(3,29,3)"/>
<circle cx="422.19" cy="355.51" r="0.6" fill="rgb(13,90,13)"/>
<ellipse cx="468.63" cy="345.23" rx="2.37" ry="2.19" fill="rgb(5,45,5)" stroke="rgb(10,75,10)" stroke-width="1.12"/>
<circle cx="468.85" cy="345.56" r="0.6" fill="rgb(12,85,12)"/>
<circle cx="468.82" cy="343.82" r="0.6" fill="rgb(2,27,2)"/>
<circle cx="468.29" cy="343.62" r="0.6" fill="rgb(12,85,12)"/>
<circle cx="468.78" cy="344.72" r="0.6" fill="rgb(2,27,2)"/>
<circle cx="468.14" cy="346.37" r="0.6" fill="rgb(12,85,12)"/>
<ellipse cx="437.09" cy="382.10" rx="2.09" ry="2.35" fill="rgb(7,54,7)" stroke="rgb(13,87,13)" stroke-width="1.12"/>
<circle cx="437.16" cy="382.14" r="0.6" fill="rgb(15,99,15)"/>
<circle cx="436.83" cy="382.08" r="0.6" fill="rgb(3,32,3)"/>
<circle cx="438.47" cy="381.47" r="0.6" fill="rgb(15,99,15)"/>
<circle cx="436.76" cy="382.18" r="0.6" fill="rgb(3,32,3)"/>
<circle cx="437.73" cy="382.69" r="0.6" fill="rgb(15,99,15)"/>
<ellipse cx="411.37" cy="406.62" rx="2.31" ry="2.23" fill="rgb(10,76,10)" stroke="rgb(20,118,20)" stroke-width="1.12"/>
<circle cx="411.18" cy="405.73" r="0.6" fill="rgb(24,137,24)"/>
<circle cx="411.40" cy="406.44" r="0.6" fill="rgb(5,43,5)"/>
<circle cx="411.98" cy="406.91" r="0.6" fill="rgb(24,137,24)"/>
<circle cx="410.94" cy="406.67" r="0.6" fill="rgb(5,43,5)"/>
<circle cx="411.19" cy="406.29" r="0.6" fill="rgb(24,137,24)"/>
<ellipse cx="439.10" cy="389.68" rx="2.21" ry="2.29" fill="rgb(10,77,10)" stroke="rgb(20,119,20)" stroke-width="1.12"/>
<circle cx="438.79" cy="388.39" r="0.6" fill="rgb(24,138,24)"/>
<circle cx="438.57" cy="390.24" r="0.6" fill="rgb(5,43,5)"/>
<circle cx="440.55" cy="388.98" r="0.6" fill="rgb(24,138,24)"/>
<circle cx="438.97" cy="389.56" r="0.6" fill="rgb(5,43,5)"/>
<circle cx="438.05" cy="389.98" r="0.6" fill="rgb(24,138,24)"/>
<ellipse cx="440.49" cy="374.30" rx="2.19" ry="2.08" fill="rgb(11,80,11)" stroke="rgb(21,123,21)" stroke-width="1.12"/>
<circle cx="442.05" cy="374.11" r="0.6" fill="rgb(25,142,25)"/>
<circle cx="441.05" cy="374.88" r="0.6" fill="rgb(5,45,5)"/>
<circle cx="440.11" cy="373.95" r="0.6" fill="rgb(25,142,25)"/>
<circle cx="441.67" cy="374.84" r="0.6" fill="rgb(5,45,5)"/>
<circle cx="440.59" cy="373.55" r="0.6" fill="rgb(25,142,25)"/>
<ellipse cx="468.64" cy="382.45" rx="2.11" ry="2.25" fill="rgb(8,60,8)" stroke="rgb(15,95,15)" stroke-width="1.12"/>
<circle cx="470.02" cy="383.37" r="0.6" fill="rgb(18,109,18)"/>
<circle cx="469.11" cy="382.61" r="0.6" fill="rgb(4,35,4)"/>
<circle cx="468.66" cy="382.22" r="0.6" fill="rgb(18,109,18)"/>
<circle cx="468.73" cy="382.53" r="0.6" fill="rgb(4,35,4)"/>
<circle cx="469.11" cy="383.24" r="0.6" fill="rgb(18,109,18)"/>
<ellipse cx="472.88" cy="394.89" rx="2.45" ry="2.14" fill="rgb(3,29,3)" stroke="rgb(5,52,5)" stroke-width="1.12"/>
<circle cx="473.49" cy="396.06" r="0.6" fill="rgb(7,57,7)"/>
<circle cx="472.36" cy="395.16" r="0.6" fill="rgb(1,19,1)"/>
<circle cx="473.18" cy="395.19" r="0.6" fill="rgb(7,57,7)"/>
<circle cx="473.08" cy="394.86" r="0.6" fill="rgb(1,19,1)"/>
<circle cx="472.80" cy="396.17" r="0.6" fill="rgb(7,57,7)"/>
<ellipse cx="411.80" cy="382.15" rx="2.48" ry="2.48" fill="rgb(14,99,14)" stroke="rgb(26,150,26)" stroke-width="1.12"/>
<circle cx="410.18" cy="382.43" r="0.6" fill="rgb(30,165,30)"/>
<circle cx="411.41" cy="381.85" r="0.6" fill="rgb(7,54,7)"/>
<circle cx="410.60" cy="382.42" r="0.6" fill="rgb(30,165,30)"/>
<circle cx="411.78" cy="381.93" r="0.6" fill="rgb(7,54,7)"/>
<circle cx="412.37" cy="383.70" r="0.6" fill="rgb(30,165,30)"/>
<ellipse cx="447.56" cy="374.14" rx="2.12" ry="2.44" fill="rgb(10,75,10)" stroke="rgb(19,116,19)" stroke-width="1.12"/>
<circle cx="447.33" cy="374.50" r="0.6" fill="rgb(23,134,23)"/>
<circle cx="447.53" cy="374.95" r="0.6" fill="rgb(5,42,5)"/>
<circle cx="447.81" cy="374.12" r="0.6" fill="rgb(23,134,23)"/>
<circle cx="447.90" cy="373.70" r="0.6" fill="rgb(5,42,5)"/>
<circle cx="448.16" cy="375.27" r="0.6" fill="rgb(23,134,23)"/>
<ellipse cx="469.11" cy="366.64" rx="2.22" ry="2.15" fill="rgb(6,49,6)" stroke="rgb(11,80,11)" stroke-width="1.12"/>
<circle cx="467.88" cy="367.33" r="0.6" fill="rgb(14,91,14)"/>
<circle cx="469.76" cy="365.89" r="0.6" fill="rgb(3,29,3)"/>
<circle cx="470.43" cy="366.72" r="0.6" fill="rgb(14,91,14)"/>
<circle cx="467.90" cy="365.68" r="0.6" fill="rgb(3,29,3)"/>
<circle cx="469.65" cy="366.47" r="0.6" fill="rgb(14,91,14)"/>
<ellipse cx="412.88" cy="346.62" rx="2.46" ry="2.44" fill="rgb(12,88,12)" stroke="rgb(23,134,23)" stroke-width="1.12"/>
<circle cx="412.82" cy="347.24" r="0.6" fill="rgb(28,156,28)"/>
<circle cx="412.45" cy="347.05" r="0.6" fill="rgb(6,49,6)"/>
<circle cx="412.75" cy="346.75" r="0.6" fill="rgb(28,156,28)"/>
<circle cx="413.11" cy="348.17" r="0.6" fill="rgb(6,49,6)"/>
<circle cx="411.96" cy="347.20" r="0.6" fill="rgb(28,156,28)"/>
<ellipse cx="439.81" cy="397.65" rx="2.47" ry="2.41" fill="rgb(14,99,14)" stroke="rgb(26,150,26)" stroke-width="1.12"/>
<circle cx="439.87" cy="399.23" r="0.6" fill="rgb(30,165,30)"/>
<circle cx="440.38" cy="396.04" r="0.6" fill="rgb(7,54,7)"/>
<circle cx="439.63" cy="396.36" r="0.6" fill="rgb(30,165,30)"/>
<circle cx="439.98" cy="397.25" r="0.6" fill="rgb(7,54,7)"/>
<circle cx="439.44" cy="397.11" r="0.6" fill="rgb(30,165,30)"/>
<ellipse cx="434.24" cy="362.21" rx="2.45" ry="2.13" fill="rgb(9,69,9)" stroke="rgb(17,108,17)" stroke-width="1.12"/>
<circle cx="433.68" cy="362.07" r="0.6" fill="rgb(21,124,21)"/>
<circle cx="434.50" cy="361.68" r="0.6" fill="rgb(4,39,4)"/>
<circle cx="435.05" cy="361.00" r="0.6" fill="rgb(21,124,21)"/>
<circle cx="434.41" cy="362.05" r="0.6" fill="rgb(4,39,4)"/>
<circle cx="435.43" cy="361.73" r="0.6" fill="rgb(21,124,21)"/>
<ellipse cx="425.44" cy="399.64" rx="2.38" ry="2.37" fill="rgb(9,72,9)" stroke="rgb(18,112,18)" stroke-width="1.12"/>
<circle cx="426.87" cy="400.08" r="0.6" fill="rgb(22,129,22)"/>
<circle cx="424.69" cy="399.41" r="0.6" fill="rgb(4,41,4)"/>
<circle cx="424.73" cy="400.78" r="0.6" fill="rgb(22,129,22)"/>
<circle cx="425.74" cy="398.17" r="0.6" fill="rgb(4,41,4)"/>
<circle cx="425.57" cy="400.21" r="0.6" fill="rgb(22,129,22)"/>
<ellipse cx="447.19" cy="352.45" rx="2.18" ry="2.11" fill="rgb(15,107,15)" stroke="rgb(29,161,29)" stroke-width="1.12"/>
<circle cx="447.17" cy="352.48" r="0.6" fill="rgb(30,165,30)"/>
<circle cx="447.31" cy="352.07" r="0.6" fill="rgb(7,58,7)"/>
<circle cx="447.30" cy="352.50" r="0.6" fill="rgb(30,165,30)"/>
<circle cx="447.18" cy="352.10" r="0.6" fill="rgb(7,58,7)"/>
<circle cx="446.52" cy="352.61" r="0.6" fill="rgb(30,165,30)"/>
</g></g>
<clipPath id="c18"><rect x="410.0" y="415.00" width="69.00" height="70.40"/></clipPath>
<g clip-path="url(#c18)"><rect x="410.0" y="415.00" width="69.00" height="70.40" fill="#000"/><rect x="410.8" y="415.00" width="67.40" height="69.60" fill="#141458"/><g filter="url(#bb)">
<circle cx="419.64" cy="416.97" r="3.60" fill="rgb(12,7,140)"/>
<circle cx="475.11" cy="460.44" r="3.60" fill="rgb(17,10,181)"/>
<circle cx="445.76" cy="479.87" r="3.60" fill="rgb(17,10,181)"/>
<circle cx="439.64" cy="475.63" r="3.60" fill="rgb(12,7,136)"/>
<circle cx="465.55" cy="430.43" r="3.60" fill="rgb(17,10,179)"/>
<circle cx="427.62" cy="436.04" r="3.60" fill="rgb(18,10,184)"/>
<circle cx="426.87" cy="456.11" r="3.60" fill="rgb(20,12,202)"/>
<circle cx="428.11" cy="444.66" r="3.60" fill="rgb(14,8,158)"/>
<circle cx="419.64" cy="478.25" r="3.60" fill="rgb(20,12,206)"/>
<circle cx="434.35" cy="447.34" r="3.60" fill="rgb(16,9,172)"/>
<circle cx="444.12" cy="452.38" r="3.60" fill="rgb(16,9,170)"/>
<circle cx="445.56" cy="417.27" r="3.60" fill="rgb(20,12,200)"/>
<circle cx="440.05" cy="428.52" r="3.60" fill="rgb(12,7,136)"/>
<circle cx="411.25" cy="470.67" r="3.60" fill="rgb(18,11,187)"/>
<circle cx="422.37" cy="448.39" r="3.60" fill="rgb(17,10,180)"/>
<circle cx="458.88" cy="454.06" r="3.60" fill="rgb(14,8,159)"/>
<circle cx="447.67" cy="469.65" r="3.60" fill="rgb(19,11,197)"/>
<circle cx="417.99" cy="454.33" r="3.60" fill="rgb(15,9,161)"/>
<circle cx="471.25" cy="446.32" r="3.60" fill="rgb(16,9,169)"/>
<circle cx="451.44" cy="450.58" r="3.60" fill="rgb(16,9,173)"/>
<circle cx="444.81" cy="463.39" r="3.60" fill="rgb(18,11,191)"/>
<circle cx="457.16" cy="475.96" r="3.60" fill="rgb(13,8,149)"/>
<circle cx="473.21" cy="433.75" r="3.60" fill="rgb(15,9,166)"/>
<circle cx="415.78" cy="432.46" r="3.60" fill="rgb(15,9,165)"/>
<circle cx="415.81" cy="461.79" r="3.60" fill="rgb(16,10,175)"/>
<circle cx="421.19" cy="464.99" r="3.60" fill="rgb(19,11,195)"/>
<circle cx="454.59" cy="425.77" r="3.60" fill="rgb(14,8,156)"/>
<circle cx="469.29" cy="482.19" r="3.60" fill="rgb(19,11,195)"/>
<circle cx="425.49" cy="481.16" r="3.60" fill="rgb(15,9,164)"/>
<circle cx="476.36" cy="472.94" r="3.60" fill="rgb(16,9,171)"/>
<circle cx="445.04" cy="439.19" r="3.60" fill="rgb(14,8,154)"/>
<circle cx="458.68" cy="417.32" r="3.60" fill="rgb(16,9,171)"/>
<circle cx="412.18" cy="438.67" r="3.60" fill="rgb(20,12,206)"/>
<circle cx="415.23" cy="483.39" r="3.60" fill="rgb(17,10,182)"/>
<circle cx="463.05" cy="482.47" r="3.60" fill="rgb(19,11,192)"/>
<circle cx="428.85" cy="424.86" r="3.60" fill="rgb(14,8,158)"/>
<circle cx="456.44" cy="445.09" r="3.60" fill="rgb(14,8,157)"/>
<circle cx="445.78" cy="432.30" r="3.60" fill="rgb(14,8,156)"/>
<circle cx="461.15" cy="435.83" r="3.60" fill="rgb(17,10,177)"/>
<circle cx="433.90" cy="417.23" r="3.60" fill="rgb(17,10,181)"/>
<circle cx="427.53" cy="417.04" r="3.60" fill="rgb(19,11,192)"/>
<circle cx="472.71" cy="423.26" r="3.60" fill="rgb(12,7,137)"/>
<circle cx="465.07" cy="445.56" r="3.60" fill="rgb(18,11,187)"/>
<circle cx="456.41" cy="483.21" r="3.60" fill="rgb(19,11,199)"/>
<circle cx="433.62" cy="472.93" r="3.60" fill="rgb(16,10,174)"/>
<circle cx="437.71" cy="439.77" r="3.60" fill="rgb(12,7,138)"/>
<circle cx="414.58" cy="424.87" r="3.60" fill="rgb(14,8,156)"/>
<circle cx="468.48" cy="461.87" r="3.60" fill="rgb(11,7,134)"/>
<circle cx="475.22" cy="453.42" r="3.60" fill="rgb(13,8,148)"/>
<circle cx="416.91" cy="443.32" r="3.60" fill="rgb(20,12,202)"/>
<circle cx="460.55" cy="460.98" r="3.60" fill="rgb(17,10,179)"/>
<circle cx="464.13" cy="472.53" r="3.60" fill="rgb(17,10,182)"/>
<circle cx="452.34" cy="462.56" r="3.60" fill="rgb(19,11,192)"/>
<circle cx="475.58" cy="480.05" r="3.60" fill="rgb(20,12,201)"/>
<circle cx="412.14" cy="447.39" r="3.60" fill="rgb(17,10,179)"/>
<circle cx="466.40" cy="424.20" r="3.60" fill="rgb(17,10,179)"/>
<circle cx="435.64" cy="481.41" r="3.60" fill="rgb(17,10,180)"/>
<circle cx="430.65" cy="466.55" r="3.60" fill="rgb(18,10,185)"/>
<circle cx="454.31" cy="436.57" r="3.60" fill="rgb(17,10,178)"/>
<circle cx="422.04" cy="427.05" r="3.60" fill="rgb(18,10,184)"/>
<circle cx="468.63" cy="417.48" r="3.60" fill="rgb(13,8,150)"/>
<circle cx="437.09" cy="453.63" r="3.60" fill="rgb(17,10,183)"/>
<circle cx="411.37" cy="477.68" r="3.60" fill="rgb(16,9,168)"/>
<circle cx="439.10" cy="461.07" r="3.60" fill="rgb(18,11,190)"/>
<circle cx="440.49" cy="445.98" r="3.60" fill="rgb(12,7,141)"/>
<circle cx="468.64" cy="453.98" r="3.60" fill="rgb(13,8,147)"/>
<circle cx="472.88" cy="466.18" r="3.60" fill="rgb(12,7,137)"/>
<circle cx="411.80" cy="453.68" r="3.60" fill="rgb(18,11,191)"/>
<circle cx="447.56" cy="445.82" r="3.60" fill="rgb(20,12,201)"/>
<circle cx="469.11" cy="438.47" r="3.60" fill="rgb(17,10,182)"/>
<circle cx="412.88" cy="418.84" r="3.60" fill="rgb(15,9,161)"/>
<circle cx="439.81" cy="468.88" r="3.60" fill="rgb(19,11,194)"/>
<circle cx="434.24" cy="434.13" r="3.60" fill="rgb(19,11,192)"/>
<circle cx="425.44" cy="470.83" r="3.60" fill="rgb(16,10,175)"/>
<circle cx="447.19" cy="424.56" r="3.60" fill="rgb(14,8,153)"/>
</g></g>
<line x1="410.00" y1="414.50" x2="479.00" y2="414.50" stroke="#7c8090" stroke-width="1.0"/>
<rect x="0.5" y="0.5" width="519" height="660" fill="none" stroke="#111" stroke-width="1"/>
</svg>
</body></html>
